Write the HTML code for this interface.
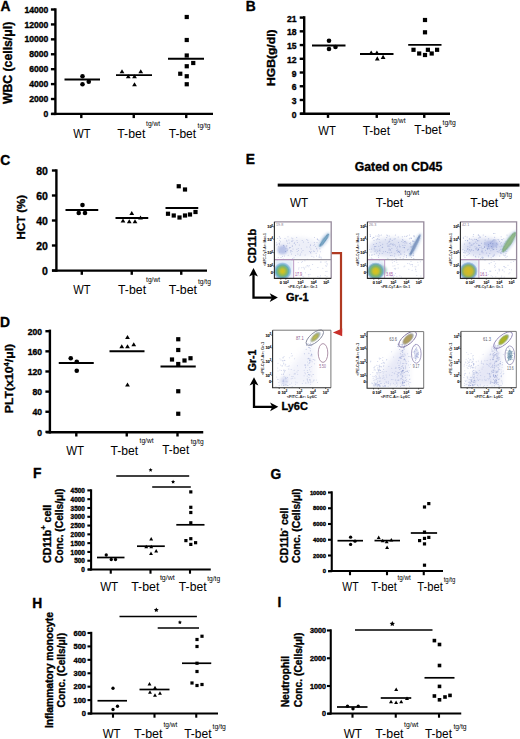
<!DOCTYPE html><html><head><meta charset="utf-8"><style>html,body{margin:0;padding:0;background:#fff;width:520px;height:739px;overflow:hidden}svg{display:block;font-family:"Liberation Sans", sans-serif}</style></head><body>
<svg width="520" height="739" viewBox="0 0 520 739">
<defs><radialGradient id="gblob0"><stop offset="0" stop-color="#d8c41c"/><stop offset="0.2" stop-color="#c8c22c"/><stop offset="0.45" stop-color="#8cb85c"/><stop offset="0.68" stop-color="#64aeb4"/><stop offset="0.88" stop-color="#94bce4" stop-opacity="0.8"/><stop offset="1" stop-color="#b8d0ee" stop-opacity="0"/></radialGradient><radialGradient id="gblob1"><stop offset="0" stop-color="#dcc21c"/><stop offset="0.3" stop-color="#c8c02c"/><stop offset="0.55" stop-color="#80b468"/><stop offset="0.78" stop-color="#6eaab0"/><stop offset="0.92" stop-color="#98bce0" stop-opacity="0.75"/><stop offset="1" stop-color="#b8d0ee" stop-opacity="0"/></radialGradient><radialGradient id="gblob2"><stop offset="0" stop-color="#d6bc22"/><stop offset="0.42" stop-color="#c6b832"/><stop offset="0.62" stop-color="#90b05c"/><stop offset="0.8" stop-color="#7aaac4"/><stop offset="0.93" stop-color="#a4bce6" stop-opacity="0.75"/><stop offset="1" stop-color="#c0ccee" stop-opacity="0"/></radialGradient><radialGradient id="gyel"><stop offset="0" stop-color="#c4c048"/><stop offset="0.55" stop-color="#a8ac60"/><stop offset="1" stop-color="#9ca8a0" stop-opacity="0.5"/></radialGradient><radialGradient id="gyel2"><stop offset="0" stop-color="#b0b820"/><stop offset="0.7" stop-color="#a0ac30"/><stop offset="1" stop-color="#90a870" stop-opacity="0.6"/></radialGradient><radialGradient id="gkhaki"><stop offset="0" stop-color="#b4a058"/><stop offset="0.7" stop-color="#a89c68"/><stop offset="1" stop-color="#a0a0b0" stop-opacity="0.6"/></radialGradient><filter id="bl05" x="-50%" y="-50%" width="200%" height="200%"><feGaussianBlur stdDeviation="0.5"/></filter><filter id="bl1" x="-50%" y="-50%" width="200%" height="200%"><feGaussianBlur stdDeviation="1"/></filter><filter id="bl2" x="-50%" y="-50%" width="200%" height="200%"><feGaussianBlur stdDeviation="2"/></filter><filter id="bl3" x="-50%" y="-50%" width="200%" height="200%"><feGaussianBlur stdDeviation="3"/></filter></defs>
<rect width="520" height="739" fill="#fff"/>
<line x1="55.40" y1="8.30" x2="55.40" y2="115.10" stroke="#000" stroke-width="2.4" stroke-linecap="butt"/>
<line x1="51.50" y1="113.90" x2="213.00" y2="113.90" stroke="#000" stroke-width="2.4" stroke-linecap="butt"/>
<line x1="50.90" y1="9.50" x2="55.40" y2="9.50" stroke="#000" stroke-width="2.4" stroke-linecap="butt"/>
<text x="48.30" y="12.60" font-size="8.6" font-weight="bold" stroke="#000" stroke-width="0.35" text-anchor="end" fill="#000" >14000</text>
<line x1="50.90" y1="24.42" x2="55.40" y2="24.42" stroke="#000" stroke-width="2.4" stroke-linecap="butt"/>
<text x="48.30" y="27.52" font-size="8.6" font-weight="bold" stroke="#000" stroke-width="0.35" text-anchor="end" fill="#000" >12000</text>
<line x1="50.90" y1="39.34" x2="55.40" y2="39.34" stroke="#000" stroke-width="2.4" stroke-linecap="butt"/>
<text x="48.30" y="42.44" font-size="8.6" font-weight="bold" stroke="#000" stroke-width="0.35" text-anchor="end" fill="#000" >10000</text>
<line x1="50.90" y1="54.26" x2="55.40" y2="54.26" stroke="#000" stroke-width="2.4" stroke-linecap="butt"/>
<text x="48.30" y="57.36" font-size="8.6" font-weight="bold" stroke="#000" stroke-width="0.35" text-anchor="end" fill="#000" >8000</text>
<line x1="50.90" y1="69.18" x2="55.40" y2="69.18" stroke="#000" stroke-width="2.4" stroke-linecap="butt"/>
<text x="48.30" y="72.28" font-size="8.6" font-weight="bold" stroke="#000" stroke-width="0.35" text-anchor="end" fill="#000" >6000</text>
<line x1="50.90" y1="84.10" x2="55.40" y2="84.10" stroke="#000" stroke-width="2.4" stroke-linecap="butt"/>
<text x="48.30" y="87.20" font-size="8.6" font-weight="bold" stroke="#000" stroke-width="0.35" text-anchor="end" fill="#000" >4000</text>
<line x1="50.90" y1="99.02" x2="55.40" y2="99.02" stroke="#000" stroke-width="2.4" stroke-linecap="butt"/>
<text x="48.30" y="102.12" font-size="8.6" font-weight="bold" stroke="#000" stroke-width="0.35" text-anchor="end" fill="#000" >2000</text>
<line x1="50.90" y1="113.94" x2="55.40" y2="113.94" stroke="#000" stroke-width="2.4" stroke-linecap="butt"/>
<text x="48.30" y="117.04" font-size="8.6" font-weight="bold" stroke="#000" stroke-width="0.35" text-anchor="end" fill="#000" >0</text>
<line x1="81.30" y1="113.90" x2="81.30" y2="118.10" stroke="#000" stroke-width="2.4" stroke-linecap="butt"/>
<line x1="133.75" y1="113.90" x2="133.75" y2="118.10" stroke="#000" stroke-width="2.4" stroke-linecap="butt"/>
<line x1="186.25" y1="113.90" x2="186.25" y2="118.10" stroke="#000" stroke-width="2.4" stroke-linecap="butt"/>
<line x1="64.50" y1="79.50" x2="100.00" y2="79.50" stroke="#000" stroke-width="1.9" stroke-linecap="butt"/>
<circle cx="82.50" cy="76.25" r="2.3"/>
<circle cx="82.50" cy="84.25" r="2.3"/>
<circle cx="88.75" cy="81.75" r="2.3"/>
<line x1="116.00" y1="75.10" x2="152.00" y2="75.10" stroke="#000" stroke-width="1.9" stroke-linecap="butt"/>
<path d="M119.60 73.34L124.40 73.34L122.00 69.16Z"/>
<path d="M125.85 78.34L130.65 78.34L128.25 74.16Z"/>
<path d="M132.10 78.34L136.90 78.34L134.50 74.16Z"/>
<path d="M138.35 73.34L143.15 73.34L140.75 69.16Z"/>
<path d="M132.10 86.34L136.90 86.34L134.50 82.16Z"/>
<line x1="168.00" y1="58.75" x2="204.00" y2="58.75" stroke="#000" stroke-width="1.9" stroke-linecap="butt"/>
<rect x="184.65" y="14.90" width="4.2" height="4.2"/>
<rect x="184.65" y="37.90" width="4.2" height="4.2"/>
<rect x="184.65" y="53.40" width="4.2" height="4.2"/>
<rect x="191.15" y="60.90" width="4.2" height="4.2"/>
<rect x="184.65" y="64.15" width="4.2" height="4.2"/>
<rect x="178.15" y="71.65" width="4.2" height="4.2"/>
<rect x="184.65" y="74.15" width="4.2" height="4.2"/>
<rect x="184.65" y="82.15" width="4.2" height="4.2"/>
<text transform="translate(12.00,62.95) rotate(-90)" font-size="11.9" font-weight="bold" stroke="#000" stroke-width="0.35" text-anchor="middle" fill="#000" textLength="82.30" lengthAdjust="spacingAndGlyphs">WBC (cells/μl)</text>
<text x="0.60" y="10.80" font-size="13.8" font-weight="bold" stroke="#000" stroke-width="0.35" text-anchor="start" fill="#000" >A</text>
<text x="73.15" y="137.90" font-size="12.6" text-anchor="start" fill="#000" textLength="17.30" lengthAdjust="spacingAndGlyphs" >WT</text>
<text x="117.25" y="137.90" font-size="12.6" text-anchor="start" fill="#000" textLength="28.10" lengthAdjust="spacingAndGlyphs" >T-bet</text>
<text x="146.10" y="126.00" font-size="7.6" text-anchor="start" fill="#000" textLength="14.00" lengthAdjust="spacingAndGlyphs" >tg/wt</text>
<text x="168.75" y="137.90" font-size="12.6" text-anchor="start" fill="#000" textLength="27.40" lengthAdjust="spacingAndGlyphs" >T-bet</text>
<text x="197.60" y="127.50" font-size="7.6" text-anchor="start" fill="#000" textLength="12.90" lengthAdjust="spacingAndGlyphs" >tg/tg</text>
<line x1="304.20" y1="16.20" x2="304.20" y2="114.90" stroke="#000" stroke-width="2.4" stroke-linecap="butt"/>
<line x1="300.30" y1="113.70" x2="450.00" y2="113.70" stroke="#000" stroke-width="2.4" stroke-linecap="butt"/>
<line x1="299.70" y1="17.60" x2="304.20" y2="17.60" stroke="#000" stroke-width="2.4" stroke-linecap="butt"/>
<text x="296.60" y="21.60" font-size="8.6" font-weight="bold" stroke="#000" stroke-width="0.35" text-anchor="end" fill="#000" >21</text>
<line x1="299.70" y1="31.33" x2="304.20" y2="31.33" stroke="#000" stroke-width="2.4" stroke-linecap="butt"/>
<text x="296.60" y="35.33" font-size="8.6" font-weight="bold" stroke="#000" stroke-width="0.35" text-anchor="end" fill="#000" >18</text>
<line x1="299.70" y1="45.06" x2="304.20" y2="45.06" stroke="#000" stroke-width="2.4" stroke-linecap="butt"/>
<text x="296.60" y="49.06" font-size="8.6" font-weight="bold" stroke="#000" stroke-width="0.35" text-anchor="end" fill="#000" >15</text>
<line x1="299.70" y1="58.79" x2="304.20" y2="58.79" stroke="#000" stroke-width="2.4" stroke-linecap="butt"/>
<text x="296.60" y="62.79" font-size="8.6" font-weight="bold" stroke="#000" stroke-width="0.35" text-anchor="end" fill="#000" >12</text>
<line x1="299.70" y1="72.52" x2="304.20" y2="72.52" stroke="#000" stroke-width="2.4" stroke-linecap="butt"/>
<text x="296.60" y="76.52" font-size="8.6" font-weight="bold" stroke="#000" stroke-width="0.35" text-anchor="end" fill="#000" >9</text>
<line x1="299.70" y1="86.25" x2="304.20" y2="86.25" stroke="#000" stroke-width="2.4" stroke-linecap="butt"/>
<text x="296.60" y="90.25" font-size="8.6" font-weight="bold" stroke="#000" stroke-width="0.35" text-anchor="end" fill="#000" >6</text>
<line x1="299.70" y1="99.98" x2="304.20" y2="99.98" stroke="#000" stroke-width="2.4" stroke-linecap="butt"/>
<text x="296.60" y="103.98" font-size="8.6" font-weight="bold" stroke="#000" stroke-width="0.35" text-anchor="end" fill="#000" >3</text>
<line x1="299.70" y1="113.71" x2="304.20" y2="113.71" stroke="#000" stroke-width="2.4" stroke-linecap="butt"/>
<text x="296.60" y="117.71" font-size="8.6" font-weight="bold" stroke="#000" stroke-width="0.35" text-anchor="end" fill="#000" >0</text>
<line x1="328.00" y1="113.70" x2="328.00" y2="117.90" stroke="#000" stroke-width="2.4" stroke-linecap="butt"/>
<line x1="376.75" y1="113.70" x2="376.75" y2="117.90" stroke="#000" stroke-width="2.4" stroke-linecap="butt"/>
<line x1="424.25" y1="113.70" x2="424.25" y2="117.90" stroke="#000" stroke-width="2.4" stroke-linecap="butt"/>
<line x1="312.00" y1="45.50" x2="345.50" y2="45.50" stroke="#000" stroke-width="1.9" stroke-linecap="butt"/>
<circle cx="329.00" cy="40.75" r="2.3"/>
<circle cx="329.00" cy="49.00" r="2.3"/>
<circle cx="335.50" cy="47.00" r="2.3"/>
<line x1="360.00" y1="54.00" x2="393.50" y2="54.00" stroke="#000" stroke-width="1.9" stroke-linecap="butt"/>
<path d="M368.80 54.59L373.60 54.59L371.20 50.41Z"/>
<path d="M374.50 54.59L379.30 54.59L376.90 50.41Z"/>
<path d="M374.90 60.39L379.70 60.39L377.30 56.21Z"/>
<path d="M380.70 58.99L385.50 58.99L383.10 54.81Z"/>
<line x1="408.20" y1="44.90" x2="441.50" y2="44.90" stroke="#000" stroke-width="1.9" stroke-linecap="butt"/>
<rect x="422.90" y="17.90" width="4.2" height="4.2"/>
<rect x="422.90" y="30.20" width="4.2" height="4.2"/>
<rect x="411.40" y="47.70" width="4.2" height="4.2"/>
<rect x="417.10" y="51.40" width="4.2" height="4.2"/>
<rect x="422.90" y="52.90" width="4.2" height="4.2"/>
<rect x="425.80" y="47.70" width="4.2" height="4.2"/>
<rect x="429.60" y="51.40" width="4.2" height="4.2"/>
<rect x="435.00" y="47.70" width="4.2" height="4.2"/>
<text transform="translate(275.40,57.75) rotate(-90)" font-size="11.5" font-weight="bold" stroke="#000" stroke-width="0.35" text-anchor="middle" fill="#000" textLength="56.60" lengthAdjust="spacingAndGlyphs">HGB(g/dl)</text>
<text x="245.80" y="10.80" font-size="13.8" font-weight="bold" stroke="#000" stroke-width="0.35" text-anchor="start" fill="#000" >B</text>
<text x="318.25" y="134.60" font-size="12.6" text-anchor="start" fill="#000" textLength="17.60" lengthAdjust="spacingAndGlyphs" >WT</text>
<text x="362.65" y="134.60" font-size="12.6" text-anchor="start" fill="#000" textLength="27.40" lengthAdjust="spacingAndGlyphs" >T-bet</text>
<text x="391.50" y="122.90" font-size="7.6" text-anchor="start" fill="#000" textLength="14.00" lengthAdjust="spacingAndGlyphs" >tg/wt</text>
<text x="414.25" y="134.30" font-size="12.6" text-anchor="start" fill="#000" textLength="27.30" lengthAdjust="spacingAndGlyphs" >T-bet</text>
<text x="442.50" y="124.50" font-size="7.6" text-anchor="start" fill="#000" textLength="13.30" lengthAdjust="spacingAndGlyphs" >tg/tg</text>
<line x1="56.40" y1="169.30" x2="56.40" y2="271.80" stroke="#000" stroke-width="2.4" stroke-linecap="butt"/>
<line x1="52.00" y1="270.60" x2="207.00" y2="270.60" stroke="#000" stroke-width="2.4" stroke-linecap="butt"/>
<line x1="51.90" y1="170.50" x2="56.40" y2="170.50" stroke="#000" stroke-width="2.4" stroke-linecap="butt"/>
<text x="47.90" y="175.18" font-size="10.5" font-weight="bold" stroke="#000" stroke-width="0.35" text-anchor="end" fill="#000" >80</text>
<line x1="51.90" y1="195.50" x2="56.40" y2="195.50" stroke="#000" stroke-width="2.4" stroke-linecap="butt"/>
<text x="47.90" y="200.18" font-size="10.5" font-weight="bold" stroke="#000" stroke-width="0.35" text-anchor="end" fill="#000" >60</text>
<line x1="51.90" y1="220.50" x2="56.40" y2="220.50" stroke="#000" stroke-width="2.4" stroke-linecap="butt"/>
<text x="47.90" y="225.18" font-size="10.5" font-weight="bold" stroke="#000" stroke-width="0.35" text-anchor="end" fill="#000" >40</text>
<line x1="51.90" y1="245.50" x2="56.40" y2="245.50" stroke="#000" stroke-width="2.4" stroke-linecap="butt"/>
<text x="47.90" y="250.18" font-size="10.5" font-weight="bold" stroke="#000" stroke-width="0.35" text-anchor="end" fill="#000" >20</text>
<line x1="51.90" y1="270.50" x2="56.40" y2="270.50" stroke="#000" stroke-width="2.4" stroke-linecap="butt"/>
<text x="47.90" y="275.18" font-size="10.5" font-weight="bold" stroke="#000" stroke-width="0.35" text-anchor="end" fill="#000" >0</text>
<line x1="81.80" y1="270.60" x2="81.80" y2="274.80" stroke="#000" stroke-width="2.4" stroke-linecap="butt"/>
<line x1="131.75" y1="270.60" x2="131.75" y2="274.80" stroke="#000" stroke-width="2.4" stroke-linecap="butt"/>
<line x1="181.25" y1="270.60" x2="181.25" y2="274.80" stroke="#000" stroke-width="2.4" stroke-linecap="butt"/>
<line x1="65.50" y1="210.00" x2="98.25" y2="210.00" stroke="#000" stroke-width="1.9" stroke-linecap="butt"/>
<circle cx="82.50" cy="205.00" r="2.3"/>
<circle cx="78.75" cy="213.00" r="2.3"/>
<circle cx="85.00" cy="213.00" r="2.3"/>
<line x1="115.50" y1="218.00" x2="148.25" y2="218.00" stroke="#000" stroke-width="1.9" stroke-linecap="butt"/>
<path d="M129.35 215.09L134.15 215.09L131.75 210.91Z"/>
<path d="M120.60 222.59L125.40 222.59L123.00 218.41Z"/>
<path d="M126.85 223.34L131.65 223.34L129.25 219.16Z"/>
<path d="M132.60 223.34L137.40 223.34L135.00 219.16Z"/>
<path d="M138.10 219.59L142.90 219.59L140.50 215.41Z"/>
<line x1="165.50" y1="208.00" x2="198.25" y2="208.00" stroke="#000" stroke-width="1.9" stroke-linecap="butt"/>
<rect x="176.65" y="184.15" width="4.2" height="4.2"/>
<rect x="182.90" y="187.40" width="4.2" height="4.2"/>
<rect x="165.90" y="211.65" width="4.2" height="4.2"/>
<rect x="171.65" y="213.40" width="4.2" height="4.2"/>
<rect x="177.40" y="215.40" width="4.2" height="4.2"/>
<rect x="182.90" y="213.40" width="4.2" height="4.2"/>
<rect x="187.90" y="212.40" width="4.2" height="4.2"/>
<rect x="193.40" y="209.90" width="4.2" height="4.2"/>
<text transform="translate(24.80,217.30) rotate(-90)" font-size="11.2" font-weight="bold" stroke="#000" stroke-width="0.35" text-anchor="middle" fill="#000" textLength="44.60" lengthAdjust="spacingAndGlyphs">HCT (%)</text>
<text x="0.20" y="164.50" font-size="13.8" font-weight="bold" stroke="#000" stroke-width="0.35" text-anchor="start" fill="#000" >C</text>
<text x="73.15" y="294.00" font-size="12.6" text-anchor="start" fill="#000" textLength="17.30" lengthAdjust="spacingAndGlyphs" >WT</text>
<text x="118.05" y="294.00" font-size="12.6" text-anchor="start" fill="#000" textLength="28.00" lengthAdjust="spacingAndGlyphs" >T-bet</text>
<text x="146.10" y="282.30" font-size="7.6" text-anchor="start" fill="#000" textLength="14.00" lengthAdjust="spacingAndGlyphs" >tg/wt</text>
<text x="168.75" y="293.60" font-size="12.6" text-anchor="start" fill="#000" textLength="28.30" lengthAdjust="spacingAndGlyphs" >T-bet</text>
<text x="197.90" y="284.30" font-size="7.6" text-anchor="start" fill="#000" textLength="13.00" lengthAdjust="spacingAndGlyphs" >tg/tg</text>
<line x1="49.90" y1="329.60" x2="49.90" y2="433.50" stroke="#000" stroke-width="2.4" stroke-linecap="butt"/>
<line x1="46.30" y1="432.30" x2="203.25" y2="432.30" stroke="#000" stroke-width="2.4" stroke-linecap="butt"/>
<line x1="45.40" y1="331.20" x2="49.90" y2="331.20" stroke="#000" stroke-width="2.4" stroke-linecap="butt"/>
<text x="42.00" y="334.90" font-size="8.6" font-weight="bold" stroke="#000" stroke-width="0.35" text-anchor="end" fill="#000" >200</text>
<line x1="45.40" y1="351.34" x2="49.90" y2="351.34" stroke="#000" stroke-width="2.4" stroke-linecap="butt"/>
<text x="42.00" y="355.04" font-size="8.6" font-weight="bold" stroke="#000" stroke-width="0.35" text-anchor="end" fill="#000" >160</text>
<line x1="45.40" y1="371.48" x2="49.90" y2="371.48" stroke="#000" stroke-width="2.4" stroke-linecap="butt"/>
<text x="42.00" y="375.18" font-size="8.6" font-weight="bold" stroke="#000" stroke-width="0.35" text-anchor="end" fill="#000" >120</text>
<line x1="45.40" y1="391.62" x2="49.90" y2="391.62" stroke="#000" stroke-width="2.4" stroke-linecap="butt"/>
<text x="42.00" y="395.32" font-size="8.6" font-weight="bold" stroke="#000" stroke-width="0.35" text-anchor="end" fill="#000" >80</text>
<line x1="45.40" y1="411.76" x2="49.90" y2="411.76" stroke="#000" stroke-width="2.4" stroke-linecap="butt"/>
<text x="42.00" y="415.46" font-size="8.6" font-weight="bold" stroke="#000" stroke-width="0.35" text-anchor="end" fill="#000" >40</text>
<line x1="45.40" y1="431.90" x2="49.90" y2="431.90" stroke="#000" stroke-width="2.4" stroke-linecap="butt"/>
<text x="42.00" y="435.60" font-size="8.6" font-weight="bold" stroke="#000" stroke-width="0.35" text-anchor="end" fill="#000" >0</text>
<line x1="76.30" y1="432.30" x2="76.30" y2="436.50" stroke="#000" stroke-width="2.4" stroke-linecap="butt"/>
<line x1="126.75" y1="432.30" x2="126.75" y2="436.50" stroke="#000" stroke-width="2.4" stroke-linecap="butt"/>
<line x1="177.50" y1="432.30" x2="177.50" y2="436.50" stroke="#000" stroke-width="2.4" stroke-linecap="butt"/>
<line x1="58.75" y1="363.00" x2="93.75" y2="363.00" stroke="#000" stroke-width="1.9" stroke-linecap="butt"/>
<circle cx="70.75" cy="358.25" r="2.3"/>
<circle cx="76.75" cy="361.75" r="2.3"/>
<circle cx="76.75" cy="370.75" r="2.3"/>
<line x1="109.50" y1="351.25" x2="144.50" y2="351.25" stroke="#000" stroke-width="1.9" stroke-linecap="butt"/>
<path d="M125.10 339.09L129.90 339.09L127.50 334.91Z"/>
<path d="M119.35 348.34L124.15 348.34L121.75 344.16Z"/>
<path d="M125.10 348.34L129.90 348.34L127.50 344.16Z"/>
<path d="M131.35 346.34L136.15 346.34L133.75 342.16Z"/>
<path d="M125.10 386.59L129.90 386.59L127.50 382.41Z"/>
<line x1="160.50" y1="366.50" x2="195.75" y2="366.50" stroke="#000" stroke-width="1.9" stroke-linecap="butt"/>
<rect x="176.15" y="337.15" width="4.2" height="4.2"/>
<rect x="176.15" y="347.90" width="4.2" height="4.2"/>
<rect x="169.90" y="357.40" width="4.2" height="4.2"/>
<rect x="176.15" y="361.90" width="4.2" height="4.2"/>
<rect x="182.40" y="358.40" width="4.2" height="4.2"/>
<rect x="188.40" y="356.15" width="4.2" height="4.2"/>
<rect x="176.15" y="389.15" width="4.2" height="4.2"/>
<rect x="176.15" y="411.65" width="4.2" height="4.2"/>
<text transform="translate(13.40,378.50) rotate(-90)" font-size="11.6" font-weight="bold" stroke="#000" stroke-width="0.35" text-anchor="middle" fill="#000" textLength="69.40" lengthAdjust="spacingAndGlyphs">PLT(x10<tspan font-size="7" dy="-4.6">4</tspan><tspan dy="4.6">/μl)</tspan></text>
<text x="0.00" y="327.00" font-size="13.8" font-weight="bold" stroke="#000" stroke-width="0.35" text-anchor="start" fill="#000" >D</text>
<text x="66.15" y="454.50" font-size="12.6" text-anchor="start" fill="#000" textLength="17.90" lengthAdjust="spacingAndGlyphs" >WT</text>
<text x="110.55" y="454.60" font-size="12.6" text-anchor="start" fill="#000" textLength="27.70" lengthAdjust="spacingAndGlyphs" >T-bet</text>
<text x="139.60" y="442.60" font-size="7.6" text-anchor="start" fill="#000" textLength="13.90" lengthAdjust="spacingAndGlyphs" >tg/wt</text>
<text x="162.25" y="454.10" font-size="12.6" text-anchor="start" fill="#000" textLength="27.00" lengthAdjust="spacingAndGlyphs" >T-bet</text>
<text x="190.70" y="444.20" font-size="7.6" text-anchor="start" fill="#000" textLength="12.90" lengthAdjust="spacingAndGlyphs" >tg/tg</text>
<line x1="91.10" y1="489.30" x2="91.10" y2="570.55" stroke="#000" stroke-width="2.1" stroke-linecap="butt"/>
<line x1="88.00" y1="569.50" x2="210.75" y2="569.50" stroke="#000" stroke-width="2.1" stroke-linecap="butt"/>
<line x1="87.35" y1="490.40" x2="91.10" y2="490.40" stroke="#000" stroke-width="2.1" stroke-linecap="butt"/>
<text x="84.80" y="493.00" font-size="6.4" font-weight="bold" stroke="#000" stroke-width="0.35" text-anchor="end" fill="#000" >4500</text>
<line x1="87.35" y1="499.19" x2="91.10" y2="499.19" stroke="#000" stroke-width="2.1" stroke-linecap="butt"/>
<text x="84.80" y="501.79" font-size="6.4" font-weight="bold" stroke="#000" stroke-width="0.35" text-anchor="end" fill="#000" >4000</text>
<line x1="87.35" y1="507.98" x2="91.10" y2="507.98" stroke="#000" stroke-width="2.1" stroke-linecap="butt"/>
<text x="84.80" y="510.58" font-size="6.4" font-weight="bold" stroke="#000" stroke-width="0.35" text-anchor="end" fill="#000" >3500</text>
<line x1="87.35" y1="516.77" x2="91.10" y2="516.77" stroke="#000" stroke-width="2.1" stroke-linecap="butt"/>
<text x="84.80" y="519.37" font-size="6.4" font-weight="bold" stroke="#000" stroke-width="0.35" text-anchor="end" fill="#000" >3000</text>
<line x1="87.35" y1="525.56" x2="91.10" y2="525.56" stroke="#000" stroke-width="2.1" stroke-linecap="butt"/>
<text x="84.80" y="528.16" font-size="6.4" font-weight="bold" stroke="#000" stroke-width="0.35" text-anchor="end" fill="#000" >2500</text>
<line x1="87.35" y1="534.35" x2="91.10" y2="534.35" stroke="#000" stroke-width="2.1" stroke-linecap="butt"/>
<text x="84.80" y="536.95" font-size="6.4" font-weight="bold" stroke="#000" stroke-width="0.35" text-anchor="end" fill="#000" >2000</text>
<line x1="87.35" y1="543.14" x2="91.10" y2="543.14" stroke="#000" stroke-width="2.1" stroke-linecap="butt"/>
<text x="84.80" y="545.74" font-size="6.4" font-weight="bold" stroke="#000" stroke-width="0.35" text-anchor="end" fill="#000" >1500</text>
<line x1="87.35" y1="551.93" x2="91.10" y2="551.93" stroke="#000" stroke-width="2.1" stroke-linecap="butt"/>
<text x="84.80" y="554.53" font-size="6.4" font-weight="bold" stroke="#000" stroke-width="0.35" text-anchor="end" fill="#000" >1000</text>
<line x1="87.35" y1="560.72" x2="91.10" y2="560.72" stroke="#000" stroke-width="2.1" stroke-linecap="butt"/>
<text x="84.80" y="563.32" font-size="6.4" font-weight="bold" stroke="#000" stroke-width="0.35" text-anchor="end" fill="#000" >500</text>
<line x1="87.35" y1="569.51" x2="91.10" y2="569.51" stroke="#000" stroke-width="2.1" stroke-linecap="butt"/>
<text x="84.80" y="572.11" font-size="6.4" font-weight="bold" stroke="#000" stroke-width="0.35" text-anchor="end" fill="#000" >0</text>
<line x1="110.75" y1="569.50" x2="110.75" y2="573.70" stroke="#000" stroke-width="2.1" stroke-linecap="butt"/>
<line x1="150.50" y1="569.50" x2="150.50" y2="573.70" stroke="#000" stroke-width="2.1" stroke-linecap="butt"/>
<line x1="190.00" y1="569.50" x2="190.00" y2="573.70" stroke="#000" stroke-width="2.1" stroke-linecap="butt"/>
<line x1="97.00" y1="557.50" x2="124.50" y2="557.50" stroke="#000" stroke-width="1.7" stroke-linecap="butt"/>
<circle cx="106.25" cy="555.00" r="1.65"/>
<circle cx="111.25" cy="559.50" r="1.65"/>
<circle cx="115.50" cy="559.50" r="1.65"/>
<line x1="137.00" y1="546.20" x2="164.80" y2="546.20" stroke="#000" stroke-width="1.7" stroke-linecap="butt"/>
<path d="M149.25 540.40L153.15 540.40L151.20 537.00Z"/>
<path d="M144.30 548.20L148.20 548.20L146.25 544.80Z"/>
<path d="M149.30 548.20L153.20 548.20L151.25 544.80Z"/>
<path d="M149.05 555.00L152.95 555.00L151.00 551.60Z"/>
<path d="M154.25 552.50L158.15 552.50L156.20 549.10Z"/>
<line x1="176.30" y1="524.80" x2="204.50" y2="524.80" stroke="#000" stroke-width="1.7" stroke-linecap="butt"/>
<rect x="189.20" y="490.30" width="3.2" height="3.2"/>
<rect x="189.20" y="505.70" width="3.2" height="3.2"/>
<rect x="189.20" y="510.90" width="3.2" height="3.2"/>
<rect x="189.20" y="521.20" width="3.2" height="3.2"/>
<rect x="184.30" y="539.00" width="3.2" height="3.2"/>
<rect x="189.20" y="537.10" width="3.2" height="3.2"/>
<rect x="194.00" y="541.10" width="3.2" height="3.2"/>
<rect x="189.20" y="542.80" width="3.2" height="3.2"/>
<text transform="translate(50.90,533.80) rotate(-90)" font-size="10" font-weight="bold" stroke="#000" stroke-width="0.35" text-anchor="middle" fill="#000" textLength="58.20" lengthAdjust="spacingAndGlyphs">CD11b<tspan font-size="7" dy="-4.6">+</tspan><tspan dy="4.6"> cell</tspan></text>
<text transform="translate(63.30,525.70) rotate(-90)" font-size="10" font-weight="bold" stroke="#000" stroke-width="0.35" text-anchor="middle" fill="#000" textLength="74.40" lengthAdjust="spacingAndGlyphs">Conc. (Cells/μl)</text>
<text x="33.00" y="477.80" font-size="13.8" font-weight="bold" stroke="#000" stroke-width="0.35" text-anchor="start" fill="#000" >F</text>
<text x="100.15" y="591.00" font-size="12.6" text-anchor="start" fill="#000" textLength="18.10" lengthAdjust="spacingAndGlyphs" >WT</text>
<text x="131.15" y="590.90" font-size="12.6" text-anchor="start" fill="#000" textLength="28.20" lengthAdjust="spacingAndGlyphs" >T-bet</text>
<text x="159.90" y="580.10" font-size="7.6" text-anchor="start" fill="#000" textLength="14.90" lengthAdjust="spacingAndGlyphs" >tg/wt</text>
<text x="178.85" y="591.40" font-size="12.6" text-anchor="start" fill="#000" textLength="27.70" lengthAdjust="spacingAndGlyphs" >T-bet</text>
<text x="207.20" y="581.40" font-size="7.6" text-anchor="start" fill="#000" textLength="13.00" lengthAdjust="spacingAndGlyphs" >tg/tg</text>
<line x1="116.25" y1="476.00" x2="189.20" y2="476.00" stroke="#000" stroke-width="1.3" stroke-linecap="butt"/>
<polygon points="150.60,467.90 151.22,469.15 152.60,469.35 151.60,470.32 151.83,471.70 150.60,471.05 149.37,471.70 149.60,470.32 148.60,469.35 149.98,469.15"/>
<line x1="152.20" y1="487.00" x2="190.80" y2="487.00" stroke="#000" stroke-width="1.3" stroke-linecap="butt"/>
<polygon points="173.10,479.80 173.72,481.05 175.10,481.25 174.10,482.22 174.33,483.60 173.10,482.95 171.87,483.60 172.10,482.22 171.10,481.25 172.48,481.05"/>
<line x1="331.75" y1="491.30" x2="331.75" y2="572.05" stroke="#000" stroke-width="2.1" stroke-linecap="butt"/>
<line x1="328.50" y1="571.00" x2="443.00" y2="571.00" stroke="#000" stroke-width="2.1" stroke-linecap="butt"/>
<line x1="328.00" y1="492.50" x2="331.75" y2="492.50" stroke="#000" stroke-width="2.1" stroke-linecap="butt"/>
<text x="326.00" y="494.59" font-size="5.8" font-weight="bold" stroke="#000" stroke-width="0.35" text-anchor="end" fill="#000" >10000</text>
<line x1="328.00" y1="508.25" x2="331.75" y2="508.25" stroke="#000" stroke-width="2.1" stroke-linecap="butt"/>
<text x="326.00" y="510.34" font-size="5.8" font-weight="bold" stroke="#000" stroke-width="0.35" text-anchor="end" fill="#000" >8000</text>
<line x1="328.00" y1="524.00" x2="331.75" y2="524.00" stroke="#000" stroke-width="2.1" stroke-linecap="butt"/>
<text x="326.00" y="526.09" font-size="5.8" font-weight="bold" stroke="#000" stroke-width="0.35" text-anchor="end" fill="#000" >6000</text>
<line x1="328.00" y1="539.75" x2="331.75" y2="539.75" stroke="#000" stroke-width="2.1" stroke-linecap="butt"/>
<text x="326.00" y="541.84" font-size="5.8" font-weight="bold" stroke="#000" stroke-width="0.35" text-anchor="end" fill="#000" >4000</text>
<line x1="328.00" y1="555.50" x2="331.75" y2="555.50" stroke="#000" stroke-width="2.1" stroke-linecap="butt"/>
<text x="326.00" y="557.59" font-size="5.8" font-weight="bold" stroke="#000" stroke-width="0.35" text-anchor="end" fill="#000" >2000</text>
<line x1="328.00" y1="571.25" x2="331.75" y2="571.25" stroke="#000" stroke-width="2.1" stroke-linecap="butt"/>
<text x="326.00" y="573.34" font-size="5.8" font-weight="bold" stroke="#000" stroke-width="0.35" text-anchor="end" fill="#000" >0</text>
<line x1="350.00" y1="571.00" x2="350.00" y2="575.20" stroke="#000" stroke-width="2.1" stroke-linecap="butt"/>
<line x1="387.00" y1="571.00" x2="387.00" y2="575.20" stroke="#000" stroke-width="2.1" stroke-linecap="butt"/>
<line x1="423.75" y1="571.00" x2="423.75" y2="575.20" stroke="#000" stroke-width="2.1" stroke-linecap="butt"/>
<line x1="337.50" y1="540.70" x2="363.00" y2="540.70" stroke="#000" stroke-width="1.7" stroke-linecap="butt"/>
<circle cx="350.60" cy="537.20" r="1.65"/>
<circle cx="355.00" cy="541.20" r="1.65"/>
<circle cx="350.60" cy="544.40" r="1.65"/>
<line x1="374.50" y1="540.60" x2="400.00" y2="540.60" stroke="#000" stroke-width="1.7" stroke-linecap="butt"/>
<path d="M376.75 538.90L380.65 538.90L378.70 535.50Z"/>
<path d="M380.75 542.20L384.65 542.20L382.70 538.80Z"/>
<path d="M384.75 543.20L388.65 543.20L386.70 539.80Z"/>
<path d="M389.35 541.40L393.25 541.40L391.30 538.00Z"/>
<path d="M385.15 549.00L389.05 549.00L387.10 545.60Z"/>
<line x1="410.80" y1="533.00" x2="437.10" y2="533.00" stroke="#000" stroke-width="1.7" stroke-linecap="butt"/>
<rect x="422.90" y="505.40" width="3.2" height="3.2"/>
<rect x="427.20" y="502.00" width="3.2" height="3.2"/>
<rect x="422.90" y="530.50" width="3.2" height="3.2"/>
<rect x="418.00" y="539.00" width="3.2" height="3.2"/>
<rect x="422.90" y="536.80" width="3.2" height="3.2"/>
<rect x="427.20" y="535.80" width="3.2" height="3.2"/>
<rect x="422.90" y="542.30" width="3.2" height="3.2"/>
<rect x="422.90" y="563.60" width="3.2" height="3.2"/>
<text transform="translate(288.00,535.25) rotate(-90)" font-size="10" font-weight="bold" stroke="#000" stroke-width="0.35" text-anchor="middle" fill="#000" textLength="55.30" lengthAdjust="spacingAndGlyphs">CD11b<tspan font-size="7" dy="-4.6">-</tspan><tspan dy="4.6"> cell</tspan></text>
<text transform="translate(300.40,525.70) rotate(-90)" font-size="10" font-weight="bold" stroke="#000" stroke-width="0.35" text-anchor="middle" fill="#000" textLength="74.40" lengthAdjust="spacingAndGlyphs">Conc. (Cells/μl)</text>
<text x="270.50" y="478.50" font-size="13.8" font-weight="bold" stroke="#000" stroke-width="0.35" text-anchor="start" fill="#000" >G</text>
<text x="342.25" y="591.20" font-size="12.6" text-anchor="start" fill="#000" textLength="16.30" lengthAdjust="spacingAndGlyphs" >WT</text>
<text x="371.35" y="591.20" font-size="12.6" text-anchor="start" fill="#000" textLength="25.50" lengthAdjust="spacingAndGlyphs" >T-bet</text>
<text x="397.50" y="580.10" font-size="7.6" text-anchor="start" fill="#000" textLength="13.30" lengthAdjust="spacingAndGlyphs" >tg/wt</text>
<text x="417.25" y="591.40" font-size="12.6" text-anchor="start" fill="#000" textLength="25.50" lengthAdjust="spacingAndGlyphs" >T-bet</text>
<text x="443.70" y="581.90" font-size="7.6" text-anchor="start" fill="#000" textLength="11.70" lengthAdjust="spacingAndGlyphs" >tg/tg</text>
<line x1="91.25" y1="631.80" x2="91.25" y2="714.55" stroke="#000" stroke-width="2.1" stroke-linecap="butt"/>
<line x1="88.00" y1="713.50" x2="218.00" y2="713.50" stroke="#000" stroke-width="2.1" stroke-linecap="butt"/>
<line x1="87.50" y1="633.00" x2="91.25" y2="633.00" stroke="#000" stroke-width="2.1" stroke-linecap="butt"/>
<text x="86.00" y="635.70" font-size="7.5" font-weight="bold" stroke="#000" stroke-width="0.35" text-anchor="end" fill="#000" >600</text>
<line x1="87.50" y1="646.42" x2="91.25" y2="646.42" stroke="#000" stroke-width="2.1" stroke-linecap="butt"/>
<text x="86.00" y="649.12" font-size="7.5" font-weight="bold" stroke="#000" stroke-width="0.35" text-anchor="end" fill="#000" >500</text>
<line x1="87.50" y1="659.84" x2="91.25" y2="659.84" stroke="#000" stroke-width="2.1" stroke-linecap="butt"/>
<text x="86.00" y="662.54" font-size="7.5" font-weight="bold" stroke="#000" stroke-width="0.35" text-anchor="end" fill="#000" >400</text>
<line x1="87.50" y1="673.26" x2="91.25" y2="673.26" stroke="#000" stroke-width="2.1" stroke-linecap="butt"/>
<text x="86.00" y="675.96" font-size="7.5" font-weight="bold" stroke="#000" stroke-width="0.35" text-anchor="end" fill="#000" >300</text>
<line x1="87.50" y1="686.68" x2="91.25" y2="686.68" stroke="#000" stroke-width="2.1" stroke-linecap="butt"/>
<text x="86.00" y="689.38" font-size="7.5" font-weight="bold" stroke="#000" stroke-width="0.35" text-anchor="end" fill="#000" >200</text>
<line x1="87.50" y1="700.10" x2="91.25" y2="700.10" stroke="#000" stroke-width="2.1" stroke-linecap="butt"/>
<text x="86.00" y="702.80" font-size="7.5" font-weight="bold" stroke="#000" stroke-width="0.35" text-anchor="end" fill="#000" >100</text>
<line x1="87.50" y1="713.52" x2="91.25" y2="713.52" stroke="#000" stroke-width="2.1" stroke-linecap="butt"/>
<text x="86.00" y="716.22" font-size="7.5" font-weight="bold" stroke="#000" stroke-width="0.35" text-anchor="end" fill="#000" >0</text>
<line x1="113.00" y1="713.50" x2="113.00" y2="717.70" stroke="#000" stroke-width="2.1" stroke-linecap="butt"/>
<line x1="154.50" y1="713.50" x2="154.50" y2="717.70" stroke="#000" stroke-width="2.1" stroke-linecap="butt"/>
<line x1="196.25" y1="713.50" x2="196.25" y2="717.70" stroke="#000" stroke-width="2.1" stroke-linecap="butt"/>
<line x1="97.50" y1="700.75" x2="127.00" y2="700.75" stroke="#000" stroke-width="1.7" stroke-linecap="butt"/>
<circle cx="113.00" cy="688.25" r="1.65"/>
<circle cx="117.50" cy="706.25" r="1.65"/>
<circle cx="113.00" cy="709.50" r="1.65"/>
<line x1="139.50" y1="689.50" x2="169.50" y2="689.50" stroke="#000" stroke-width="1.7" stroke-linecap="butt"/>
<path d="M147.55 685.45L151.45 685.45L149.50 682.05Z"/>
<path d="M153.05 689.20L156.95 689.20L155.00 685.80Z"/>
<path d="M148.05 693.70L151.95 693.70L150.00 690.30Z"/>
<path d="M153.05 696.70L156.95 696.70L155.00 693.30Z"/>
<path d="M158.05 694.70L161.95 694.70L160.00 691.30Z"/>
<line x1="182.00" y1="663.25" x2="211.25" y2="663.25" stroke="#000" stroke-width="1.7" stroke-linecap="butt"/>
<rect x="195.40" y="637.90" width="3.2" height="3.2"/>
<rect x="200.40" y="634.65" width="3.2" height="3.2"/>
<rect x="195.40" y="644.90" width="3.2" height="3.2"/>
<rect x="195.40" y="661.65" width="3.2" height="3.2"/>
<rect x="195.40" y="669.90" width="3.2" height="3.2"/>
<rect x="190.40" y="681.40" width="3.2" height="3.2"/>
<rect x="195.40" y="683.90" width="3.2" height="3.2"/>
<rect x="200.40" y="682.90" width="3.2" height="3.2"/>
<text transform="translate(52.60,670.10) rotate(-90)" font-size="10" font-weight="bold" stroke="#000" stroke-width="0.35" text-anchor="middle" fill="#000" textLength="116.00" lengthAdjust="spacingAndGlyphs">Inflammatory monocyte</text>
<text transform="translate(65.20,670.15) rotate(-90)" font-size="10" font-weight="bold" stroke="#000" stroke-width="0.35" text-anchor="middle" fill="#000" textLength="74.50" lengthAdjust="spacingAndGlyphs">Conc. (Cells/μl)</text>
<text x="32.20" y="607.50" font-size="13.8" font-weight="bold" stroke="#000" stroke-width="0.35" text-anchor="start" fill="#000" >H</text>
<text x="102.75" y="738.10" font-size="12.6" text-anchor="start" fill="#000" textLength="17.90" lengthAdjust="spacingAndGlyphs" >WT</text>
<text x="134.05" y="738.10" font-size="12.6" text-anchor="start" fill="#000" textLength="28.50" lengthAdjust="spacingAndGlyphs" >T-bet</text>
<text x="163.40" y="726.80" font-size="7.6" text-anchor="start" fill="#000" textLength="14.00" lengthAdjust="spacingAndGlyphs" >tg/wt</text>
<text x="184.15" y="738.10" font-size="12.6" text-anchor="start" fill="#000" textLength="27.50" lengthAdjust="spacingAndGlyphs" >T-bet</text>
<text x="212.60" y="728.80" font-size="7.6" text-anchor="start" fill="#000" textLength="13.30" lengthAdjust="spacingAndGlyphs" >tg/tg</text>
<line x1="119.50" y1="616.50" x2="196.90" y2="616.50" stroke="#000" stroke-width="1.3" stroke-linecap="butt"/>
<polygon points="156.30,607.50 157.03,608.99 158.68,609.23 157.49,610.39 157.77,612.02 156.30,611.25 154.83,612.02 155.11,610.39 153.92,609.23 155.57,608.99"/>
<line x1="157.70" y1="628.00" x2="199.00" y2="628.00" stroke="#000" stroke-width="1.3" stroke-linecap="butt"/>
<polygon points="179.90,620.30 180.52,621.55 181.90,621.75 180.90,622.72 181.13,624.10 179.90,623.45 178.67,624.10 178.90,622.72 177.90,621.75 179.28,621.55"/>
<line x1="330.75" y1="629.30" x2="330.75" y2="714.55" stroke="#000" stroke-width="2.1" stroke-linecap="butt"/>
<line x1="327.50" y1="713.50" x2="461.25" y2="713.50" stroke="#000" stroke-width="2.1" stroke-linecap="butt"/>
<line x1="327.00" y1="630.50" x2="330.75" y2="630.50" stroke="#000" stroke-width="2.1" stroke-linecap="butt"/>
<text x="326.00" y="633.09" font-size="7.2" font-weight="bold" stroke="#000" stroke-width="0.35" text-anchor="end" fill="#000" >3000</text>
<line x1="327.00" y1="658.25" x2="330.75" y2="658.25" stroke="#000" stroke-width="2.1" stroke-linecap="butt"/>
<text x="326.00" y="660.84" font-size="7.2" font-weight="bold" stroke="#000" stroke-width="0.35" text-anchor="end" fill="#000" >2000</text>
<line x1="327.00" y1="686.00" x2="330.75" y2="686.00" stroke="#000" stroke-width="2.1" stroke-linecap="butt"/>
<text x="326.00" y="688.59" font-size="7.2" font-weight="bold" stroke="#000" stroke-width="0.35" text-anchor="end" fill="#000" >1000</text>
<line x1="327.00" y1="713.75" x2="330.75" y2="713.75" stroke="#000" stroke-width="2.1" stroke-linecap="butt"/>
<text x="326.00" y="716.34" font-size="7.2" font-weight="bold" stroke="#000" stroke-width="0.35" text-anchor="end" fill="#000" >0</text>
<line x1="352.50" y1="713.50" x2="352.50" y2="717.70" stroke="#000" stroke-width="2.1" stroke-linecap="butt"/>
<line x1="395.75" y1="713.50" x2="395.75" y2="717.70" stroke="#000" stroke-width="2.1" stroke-linecap="butt"/>
<line x1="439.00" y1="713.50" x2="439.00" y2="717.70" stroke="#000" stroke-width="2.1" stroke-linecap="butt"/>
<line x1="337.00" y1="707.00" x2="367.50" y2="707.00" stroke="#000" stroke-width="1.7" stroke-linecap="butt"/>
<circle cx="347.50" cy="706.25" r="1.7"/>
<circle cx="353.00" cy="708.75" r="1.7"/>
<circle cx="358.25" cy="706.25" r="1.7"/>
<line x1="380.75" y1="698.00" x2="411.25" y2="698.00" stroke="#000" stroke-width="1.7" stroke-linecap="butt"/>
<path d="M394.20 690.94L398.20 690.94L396.20 687.46Z"/>
<path d="M389.00 703.14L393.00 703.14L391.00 699.66Z"/>
<path d="M394.10 704.04L398.10 704.04L396.10 700.56Z"/>
<path d="M399.20 703.14L403.20 703.14L401.20 699.66Z"/>
<path d="M405.00 700.04L409.00 700.04L407.00 696.56Z"/>
<line x1="424.50" y1="677.80" x2="454.50" y2="677.80" stroke="#000" stroke-width="1.7" stroke-linecap="butt"/>
<rect x="432.60" y="638.80" width="3.6" height="3.6"/>
<rect x="437.70" y="642.70" width="3.6" height="3.6"/>
<rect x="437.70" y="663.70" width="3.6" height="3.6"/>
<rect x="437.70" y="684.60" width="3.6" height="3.6"/>
<rect x="432.60" y="694.20" width="3.6" height="3.6"/>
<rect x="437.70" y="698.00" width="3.6" height="3.6"/>
<rect x="443.20" y="695.20" width="3.6" height="3.6"/>
<rect x="448.20" y="693.60" width="3.6" height="3.6"/>
<text transform="translate(289.40,681.65) rotate(-90)" font-size="10" font-weight="bold" stroke="#000" stroke-width="0.35" text-anchor="middle" fill="#000" textLength="51.30" lengthAdjust="spacingAndGlyphs">Neutrophil</text>
<text transform="translate(301.80,670.00) rotate(-90)" font-size="10" font-weight="bold" stroke="#000" stroke-width="0.35" text-anchor="middle" fill="#000" textLength="74.60" lengthAdjust="spacingAndGlyphs">Conc. (Cells/μl)</text>
<text x="277.40" y="607.30" font-size="13.8" font-weight="bold" stroke="#000" stroke-width="0.35" text-anchor="start" fill="#000" >I</text>
<text x="343.75" y="738.10" font-size="12.6" text-anchor="start" fill="#000" textLength="18.30" lengthAdjust="spacingAndGlyphs" >WT</text>
<text x="375.25" y="738.10" font-size="12.6" text-anchor="start" fill="#000" textLength="28.20" lengthAdjust="spacingAndGlyphs" >T-bet</text>
<text x="404.10" y="726.80" font-size="7.6" text-anchor="start" fill="#000" textLength="14.40" lengthAdjust="spacingAndGlyphs" >tg/wt</text>
<text x="424.95" y="738.10" font-size="12.6" text-anchor="start" fill="#000" textLength="27.00" lengthAdjust="spacingAndGlyphs" >T-bet</text>
<text x="453.40" y="728.60" font-size="7.6" text-anchor="start" fill="#000" textLength="13.20" lengthAdjust="spacingAndGlyphs" >tg/tg</text>
<line x1="355.00" y1="630.00" x2="432.50" y2="630.00" stroke="#000" stroke-width="1.3" stroke-linecap="butt"/>
<polygon points="392.30,621.00 393.12,622.67 394.96,622.93 393.63,624.23 393.95,626.07 392.30,625.20 390.65,626.07 390.97,624.23 389.64,622.93 391.48,622.67"/>
<text x="245.80" y="164.40" font-size="13.8" font-weight="bold" stroke="#000" stroke-width="0.35" text-anchor="start" fill="#000" >E</text>
<text x="354.80" y="171.30" font-size="12" font-weight="bold" stroke="#000" stroke-width="0.35" text-anchor="start" fill="#000" textLength="87.60" lengthAdjust="spacingAndGlyphs" >Gated on CD45</text>
<rect x="277.7" y="183.6" width="241.8" height="3" fill="#000"/>
<text x="289.95" y="206.80" font-size="12.6" text-anchor="start" fill="#000" textLength="18.10" lengthAdjust="spacingAndGlyphs" >WT</text>
<text x="375.75" y="206.80" font-size="12.6" text-anchor="start" fill="#000" textLength="27.40" lengthAdjust="spacingAndGlyphs" >T-bet</text>
<text x="404.50" y="195.30" font-size="7.6" text-anchor="start" fill="#000" textLength="14.70" lengthAdjust="spacingAndGlyphs" >tg/wt</text>
<text x="470.35" y="206.80" font-size="12.6" text-anchor="start" fill="#000" textLength="27.80" lengthAdjust="spacingAndGlyphs" >T-bet</text>
<text x="499.50" y="197.20" font-size="7.6" text-anchor="start" fill="#000" textLength="12.50" lengthAdjust="spacingAndGlyphs" >tg/tg</text>
<clipPath id="c1"><rect x="274.4" y="221.8" width="56.8" height="56.6"/></clipPath>
<g clip-path="url(#c1)">
<ellipse cx="298.3" cy="247.3" rx="22.7" ry="9.6" fill="#c4cbe8" opacity="0.3" filter="url(#bl2)"/>
<ellipse cx="282.4" cy="250.1" rx="5" ry="4.5" fill="#a3b0e0" opacity="0.7" filter="url(#bl1)"/>
<circle cx="291.1" cy="250.6" r="0.5" fill="#7a8ac8" opacity="0.45"/>
<circle cx="293.0" cy="249.1" r="0.5" fill="#7a8ac8" opacity="0.45"/>
<circle cx="279.6" cy="243.1" r="0.5" fill="#7a8ac8" opacity="0.45"/>
<circle cx="319.5" cy="254.9" r="0.5" fill="#7a8ac8" opacity="0.45"/>
<circle cx="290.4" cy="250.7" r="0.5" fill="#7a8ac8" opacity="0.45"/>
<circle cx="279.3" cy="236.4" r="0.5" fill="#7a8ac8" opacity="0.45"/>
<circle cx="290.7" cy="252.0" r="0.5" fill="#7a8ac8" opacity="0.45"/>
<circle cx="308.2" cy="242.4" r="0.5" fill="#7a8ac8" opacity="0.45"/>
<circle cx="309.5" cy="251.6" r="0.5" fill="#7a8ac8" opacity="0.45"/>
<circle cx="310.8" cy="253.0" r="0.5" fill="#7a8ac8" opacity="0.45"/>
<circle cx="311.1" cy="251.5" r="0.5" fill="#7a8ac8" opacity="0.45"/>
<circle cx="303.4" cy="242.1" r="0.5" fill="#7a8ac8" opacity="0.45"/>
<circle cx="297.9" cy="253.9" r="0.5" fill="#7a8ac8" opacity="0.45"/>
<circle cx="306.8" cy="239.4" r="0.5" fill="#7a8ac8" opacity="0.45"/>
<circle cx="279.1" cy="243.6" r="0.5" fill="#7a8ac8" opacity="0.45"/>
<circle cx="316.5" cy="255.9" r="0.5" fill="#7a8ac8" opacity="0.45"/>
<circle cx="292.7" cy="258.5" r="0.5" fill="#7a8ac8" opacity="0.45"/>
<circle cx="286.9" cy="241.3" r="0.5" fill="#7a8ac8" opacity="0.45"/>
<circle cx="276.6" cy="244.9" r="0.5" fill="#7a8ac8" opacity="0.45"/>
<circle cx="307.8" cy="240.3" r="0.5" fill="#7a8ac8" opacity="0.45"/>
<circle cx="294.2" cy="243.4" r="0.5" fill="#7a8ac8" opacity="0.45"/>
<circle cx="279.5" cy="244.6" r="0.5" fill="#7a8ac8" opacity="0.45"/>
<circle cx="276.4" cy="242.7" r="0.5" fill="#7a8ac8" opacity="0.45"/>
<circle cx="316.1" cy="253.2" r="0.5" fill="#7a8ac8" opacity="0.45"/>
<circle cx="292.9" cy="240.2" r="0.5" fill="#7a8ac8" opacity="0.45"/>
<circle cx="281.0" cy="257.4" r="0.5" fill="#7a8ac8" opacity="0.45"/>
<circle cx="300.4" cy="254.1" r="0.5" fill="#7a8ac8" opacity="0.45"/>
<circle cx="320.9" cy="256.9" r="0.5" fill="#7a8ac8" opacity="0.45"/>
<circle cx="284.0" cy="247.1" r="0.5" fill="#7a8ac8" opacity="0.45"/>
<circle cx="286.5" cy="246.1" r="0.5" fill="#7a8ac8" opacity="0.45"/>
<circle cx="313.6" cy="251.1" r="0.5" fill="#7a8ac8" opacity="0.45"/>
<circle cx="277.7" cy="238.5" r="0.5" fill="#7a8ac8" opacity="0.45"/>
<circle cx="319.9" cy="248.7" r="0.5" fill="#7a8ac8" opacity="0.45"/>
<circle cx="286.7" cy="240.2" r="0.5" fill="#7a8ac8" opacity="0.45"/>
<circle cx="314.6" cy="244.3" r="0.5" fill="#7a8ac8" opacity="0.45"/>
<circle cx="311.9" cy="256.3" r="0.5" fill="#7a8ac8" opacity="0.45"/>
<circle cx="291.5" cy="254.1" r="0.5" fill="#7a8ac8" opacity="0.45"/>
<circle cx="319.4" cy="256.9" r="0.5" fill="#7a8ac8" opacity="0.45"/>
<circle cx="317.5" cy="250.9" r="0.5" fill="#7a8ac8" opacity="0.45"/>
<circle cx="301.3" cy="248.8" r="0.5" fill="#7a8ac8" opacity="0.45"/>
<circle cx="313.9" cy="245.5" r="0.5" fill="#7a8ac8" opacity="0.45"/>
<circle cx="303.0" cy="250.6" r="0.5" fill="#7a8ac8" opacity="0.45"/>
<circle cx="292.5" cy="246.1" r="0.5" fill="#7a8ac8" opacity="0.45"/>
<circle cx="277.2" cy="260.1" r="0.5" fill="#7a8ac8" opacity="0.45"/>
<circle cx="284.2" cy="245.9" r="0.5" fill="#7a8ac8" opacity="0.45"/>
<circle cx="300.0" cy="255.6" r="0.5" fill="#7a8ac8" opacity="0.45"/>
<circle cx="287.7" cy="243.3" r="0.5" fill="#7a8ac8" opacity="0.45"/>
<circle cx="310.9" cy="248.9" r="0.5" fill="#7a8ac8" opacity="0.45"/>
<circle cx="297.0" cy="240.4" r="0.5" fill="#7a8ac8" opacity="0.45"/>
<circle cx="288.2" cy="255.3" r="0.5" fill="#7a8ac8" opacity="0.45"/>
<circle cx="279.7" cy="240.3" r="0.5" fill="#7a8ac8" opacity="0.45"/>
<circle cx="317.2" cy="238.9" r="0.5" fill="#7a8ac8" opacity="0.45"/>
<circle cx="316.5" cy="248.2" r="0.5" fill="#7a8ac8" opacity="0.45"/>
<circle cx="291.8" cy="241.1" r="0.5" fill="#7a8ac8" opacity="0.45"/>
<circle cx="277.2" cy="244.3" r="0.5" fill="#7a8ac8" opacity="0.45"/>
<circle cx="321.2" cy="258.0" r="0.5" fill="#7a8ac8" opacity="0.45"/>
<circle cx="278.2" cy="257.5" r="0.5" fill="#7a8ac8" opacity="0.45"/>
<circle cx="317.8" cy="239.8" r="0.5" fill="#7a8ac8" opacity="0.45"/>
<circle cx="280.5" cy="238.5" r="0.5" fill="#7a8ac8" opacity="0.45"/>
<circle cx="319.0" cy="257.0" r="0.5" fill="#7a8ac8" opacity="0.45"/>
<circle cx="279.4" cy="252.1" r="0.5" fill="#7a8ac8" opacity="0.45"/>
<circle cx="287.2" cy="250.6" r="0.5" fill="#7a8ac8" opacity="0.45"/>
<circle cx="290.6" cy="247.6" r="0.5" fill="#7a8ac8" opacity="0.45"/>
<circle cx="284.5" cy="255.9" r="0.5" fill="#7a8ac8" opacity="0.45"/>
<circle cx="318.9" cy="240.3" r="0.5" fill="#7a8ac8" opacity="0.45"/>
<circle cx="314.3" cy="242.5" r="0.5" fill="#7a8ac8" opacity="0.45"/>
<circle cx="292.0" cy="251.4" r="0.5" fill="#7a8ac8" opacity="0.45"/>
<circle cx="292.2" cy="246.1" r="0.5" fill="#7a8ac8" opacity="0.45"/>
<circle cx="288.0" cy="236.8" r="0.5" fill="#7a8ac8" opacity="0.45"/>
<circle cx="306.9" cy="247.0" r="0.5" fill="#7a8ac8" opacity="0.45"/>
<circle cx="283.6" cy="245.6" r="0.5" fill="#7a8ac8" opacity="0.45"/>
<circle cx="320.3" cy="244.4" r="0.5" fill="#7a8ac8" opacity="0.45"/>
<circle cx="285.5" cy="251.4" r="0.5" fill="#7a8ac8" opacity="0.45"/>
<circle cx="294.6" cy="242.7" r="0.5" fill="#7a8ac8" opacity="0.45"/>
<circle cx="310.5" cy="252.6" r="0.5" fill="#7a8ac8" opacity="0.45"/>
<circle cx="283.2" cy="258.9" r="0.5" fill="#7a8ac8" opacity="0.45"/>
<circle cx="316.9" cy="249.0" r="0.5" fill="#7a8ac8" opacity="0.45"/>
<circle cx="314.3" cy="251.5" r="0.5" fill="#7a8ac8" opacity="0.45"/>
<circle cx="307.4" cy="259.2" r="0.5" fill="#7a8ac8" opacity="0.45"/>
<circle cx="292.8" cy="238.8" r="0.5" fill="#7a8ac8" opacity="0.45"/>
<circle cx="304.9" cy="260.8" r="0.5" fill="#7a8ac8" opacity="0.45"/>
<circle cx="310.4" cy="244.7" r="0.5" fill="#7a8ac8" opacity="0.45"/>
<circle cx="309.9" cy="247.0" r="0.5" fill="#7a8ac8" opacity="0.45"/>
<circle cx="285.7" cy="251.5" r="0.5" fill="#7a8ac8" opacity="0.45"/>
<circle cx="298.2" cy="248.5" r="0.5" fill="#7a8ac8" opacity="0.45"/>
<circle cx="279.9" cy="237.8" r="0.5" fill="#7a8ac8" opacity="0.45"/>
<circle cx="302.2" cy="240.5" r="0.5" fill="#7a8ac8" opacity="0.45"/>
<circle cx="289.6" cy="248.1" r="0.5" fill="#7a8ac8" opacity="0.45"/>
<circle cx="317.0" cy="242.5" r="0.5" fill="#7a8ac8" opacity="0.45"/>
<circle cx="320.4" cy="251.7" r="0.5" fill="#7a8ac8" opacity="0.45"/>
<circle cx="286.0" cy="248.2" r="0.5" fill="#7a8ac8" opacity="0.45"/>
<circle cx="282.4" cy="256.5" r="0.5" fill="#7a8ac8" opacity="0.45"/>
<circle cx="298.5" cy="250.5" r="0.5" fill="#7a8ac8" opacity="0.45"/>
<circle cx="292.0" cy="260.3" r="0.5" fill="#7a8ac8" opacity="0.45"/>
<circle cx="314.5" cy="237.6" r="0.5" fill="#7a8ac8" opacity="0.45"/>
<circle cx="289.6" cy="247.5" r="0.5" fill="#7a8ac8" opacity="0.45"/>
<circle cx="288.9" cy="240.0" r="0.5" fill="#7a8ac8" opacity="0.45"/>
<circle cx="285.0" cy="238.4" r="0.5" fill="#7a8ac8" opacity="0.45"/>
<circle cx="305.1" cy="255.1" r="0.5" fill="#7a8ac8" opacity="0.45"/>
<circle cx="278.6" cy="246.8" r="0.5" fill="#7a8ac8" opacity="0.45"/>
<circle cx="289.4" cy="243.1" r="0.5" fill="#7a8ac8" opacity="0.45"/>
<circle cx="292.0" cy="241.5" r="0.5" fill="#7a8ac8" opacity="0.45"/>
<circle cx="301.7" cy="252.0" r="0.5" fill="#7a8ac8" opacity="0.45"/>
<circle cx="317.6" cy="239.1" r="0.5" fill="#7a8ac8" opacity="0.45"/>
<circle cx="296.8" cy="249.2" r="0.5" fill="#7a8ac8" opacity="0.45"/>
<circle cx="280.5" cy="241.7" r="0.5" fill="#7a8ac8" opacity="0.45"/>
<circle cx="310.5" cy="245.4" r="0.5" fill="#7a8ac8" opacity="0.45"/>
<circle cx="291.8" cy="238.0" r="0.5" fill="#7a8ac8" opacity="0.45"/>
<circle cx="315.6" cy="246.5" r="0.5" fill="#7a8ac8" opacity="0.45"/>
<circle cx="296.7" cy="237.5" r="0.5" fill="#7a8ac8" opacity="0.45"/>
<circle cx="313.9" cy="256.9" r="0.5" fill="#7a8ac8" opacity="0.45"/>
<circle cx="283.4" cy="245.2" r="0.5" fill="#7a8ac8" opacity="0.45"/>
<circle cx="297.2" cy="251.4" r="0.5" fill="#7a8ac8" opacity="0.45"/>
<circle cx="287.8" cy="249.1" r="0.5" fill="#7a8ac8" opacity="0.45"/>
<circle cx="294.0" cy="257.8" r="0.5" fill="#7a8ac8" opacity="0.45"/>
<circle cx="297.3" cy="242.6" r="0.5" fill="#7a8ac8" opacity="0.45"/>
<circle cx="295.5" cy="255.4" r="0.5" fill="#7a8ac8" opacity="0.45"/>
<circle cx="295.5" cy="244.8" r="0.5" fill="#7a8ac8" opacity="0.45"/>
<circle cx="299.3" cy="245.0" r="0.5" fill="#7a8ac8" opacity="0.45"/>
<circle cx="286.9" cy="245.7" r="0.5" fill="#7a8ac8" opacity="0.45"/>
<circle cx="312.6" cy="264.4" r="0.5" fill="#9aa6d6" opacity="0.5"/>
<circle cx="304.1" cy="268.0" r="0.5" fill="#9aa6d6" opacity="0.5"/>
<circle cx="317.9" cy="276.5" r="0.5" fill="#9aa6d6" opacity="0.5"/>
<circle cx="301.7" cy="267.7" r="0.5" fill="#9aa6d6" opacity="0.5"/>
<circle cx="303.8" cy="276.9" r="0.5" fill="#9aa6d6" opacity="0.5"/>
<circle cx="301.6" cy="262.2" r="0.5" fill="#9aa6d6" opacity="0.5"/>
<circle cx="299.0" cy="267.7" r="0.5" fill="#9aa6d6" opacity="0.5"/>
<circle cx="325.2" cy="275.4" r="0.5" fill="#9aa6d6" opacity="0.5"/>
<circle cx="320.0" cy="277.2" r="0.5" fill="#9aa6d6" opacity="0.5"/>
<circle cx="326.2" cy="266.6" r="0.5" fill="#9aa6d6" opacity="0.5"/>
<circle cx="302.9" cy="276.3" r="0.5" fill="#9aa6d6" opacity="0.5"/>
<circle cx="320.4" cy="261.9" r="0.5" fill="#9aa6d6" opacity="0.5"/>
<circle cx="317.9" cy="267.4" r="0.5" fill="#9aa6d6" opacity="0.5"/>
<circle cx="308.8" cy="266.7" r="0.5" fill="#9aa6d6" opacity="0.5"/>
<circle cx="302.4" cy="261.5" r="0.5" fill="#9aa6d6" opacity="0.5"/>
<circle cx="305.9" cy="267.0" r="0.5" fill="#9aa6d6" opacity="0.5"/>
<circle cx="327.0" cy="263.4" r="0.5" fill="#9aa6d6" opacity="0.5"/>
<circle cx="327.2" cy="264.7" r="0.5" fill="#9aa6d6" opacity="0.5"/>
<circle cx="308.3" cy="274.4" r="0.5" fill="#9aa6d6" opacity="0.5"/>
<circle cx="322.8" cy="268.3" r="0.5" fill="#9aa6d6" opacity="0.5"/>
<circle cx="298.7" cy="268.9" r="0.5" fill="#9aa6d6" opacity="0.5"/>
<circle cx="308.8" cy="276.0" r="0.5" fill="#9aa6d6" opacity="0.5"/>
<circle cx="303.2" cy="267.2" r="0.5" fill="#9aa6d6" opacity="0.5"/>
<circle cx="325.1" cy="261.9" r="0.5" fill="#9aa6d6" opacity="0.5"/>
<circle cx="310.0" cy="274.3" r="0.5" fill="#9aa6d6" opacity="0.5"/>
<circle cx="321.1" cy="262.1" r="0.5" fill="#9aa6d6" opacity="0.5"/>
<circle cx="298.2" cy="262.4" r="0.5" fill="#9aa6d6" opacity="0.5"/>
<circle cx="325.9" cy="265.5" r="0.5" fill="#9aa6d6" opacity="0.5"/>
<circle cx="320.5" cy="275.7" r="0.5" fill="#9aa6d6" opacity="0.5"/>
<circle cx="307.7" cy="265.7" r="0.5" fill="#9aa6d6" opacity="0.5"/>
<circle cx="327.0" cy="271.2" r="0.5" fill="#9aa6d6" opacity="0.5"/>
<circle cx="305.3" cy="272.8" r="0.5" fill="#9aa6d6" opacity="0.5"/>
<circle cx="307.0" cy="265.8" r="0.5" fill="#9aa6d6" opacity="0.5"/>
<circle cx="297.2" cy="273.4" r="0.5" fill="#9aa6d6" opacity="0.5"/>
<circle cx="325.8" cy="271.5" r="0.5" fill="#9aa6d6" opacity="0.5"/>
<circle cx="326.6" cy="261.8" r="0.5" fill="#9aa6d6" opacity="0.5"/>
<circle cx="304.4" cy="269.0" r="0.5" fill="#9aa6d6" opacity="0.5"/>
<circle cx="327.0" cy="276.5" r="0.5" fill="#9aa6d6" opacity="0.5"/>
<circle cx="309.2" cy="265.4" r="0.5" fill="#9aa6d6" opacity="0.5"/>
<circle cx="310.6" cy="269.2" r="0.5" fill="#9aa6d6" opacity="0.5"/>
<ellipse cx="324.1" cy="240.2" rx="9.1" ry="3.3" transform="rotate(-54.3 324.1 240.2)" fill="#a8c0e0" opacity="0.6" filter="url(#bl1)"/>
<ellipse cx="324.1" cy="240.2" rx="8.1" ry="1.7" transform="rotate(-54.3 324.1 240.2)" fill="#5a8db0" opacity="0.85" filter="url(#bl05)"/>
<ellipse cx="324.1" cy="240.2" rx="5.6" ry="0.8" transform="rotate(-54.3 324.1 240.2)" fill="#86b4d0" opacity="0.7" filter="url(#bl05)"/>
<rect x="274.9" y="260.5" width="17.8" height="17.2" fill="#c8dcf0" opacity="0.55" filter="url(#bl1)"/>
<circle cx="282.5" cy="271.2" r="9.2" fill="url(#gblob0)" filter="url(#bl05)"/>
</g>
<line x1="274.4" y1="259.7" x2="331.2" y2="259.7" stroke="#86828f" stroke-width="1.0"/>
<rect x="274.4" y="259.7" width="19.3" height="18.7" fill="none" stroke="#b48cbc" stroke-width="0.85"/>
<path d="M274.4 221.8 H331.2 V278.4" fill="none" stroke="#968a9c" stroke-width="1.3"/>
<path d="M274.4 221.8 V278.4 H331.2" fill="none" stroke="#2a2a2a" stroke-width="1.1"/>
<text x="276.0" y="226.3" font-size="4.0" fill="#857a90" textLength="7.2" lengthAdjust="spacingAndGlyphs">19.8</text>
<text x="294.9" y="275.8" font-size="4.6" fill="#a0509a" textLength="7.2" lengthAdjust="spacingAndGlyphs">17.9</text>
<text x="273.0" y="228.1" font-size="3.9" font-weight="bold" text-anchor="end" fill="#111" stroke="#111" stroke-width="0.12">10<tspan font-size="2.6" dy="-1.5">5</tspan></text>
<line x1="273.2" y1="226.8" x2="274.4" y2="226.8" stroke="#222" stroke-width="0.7"/>
<text x="273.0" y="240.5" font-size="3.9" font-weight="bold" text-anchor="end" fill="#111" stroke="#111" stroke-width="0.12">10<tspan font-size="2.6" dy="-1.5">4</tspan></text>
<line x1="273.2" y1="239.2" x2="274.4" y2="239.2" stroke="#222" stroke-width="0.7"/>
<text x="273.0" y="254.0" font-size="3.9" font-weight="bold" text-anchor="end" fill="#111" stroke="#111" stroke-width="0.12">10<tspan font-size="2.6" dy="-1.5">3</tspan></text>
<line x1="273.2" y1="252.7" x2="274.4" y2="252.7" stroke="#222" stroke-width="0.7"/>
<text x="273.0" y="267.4" font-size="3.9" font-weight="bold" text-anchor="end" fill="#111" stroke="#111" stroke-width="0.12">10<tspan font-size="2.6" dy="-1.5">2</tspan></text>
<line x1="273.2" y1="266.1" x2="274.4" y2="266.1" stroke="#222" stroke-width="0.7"/>
<text x="273.0" y="273.5" font-size="3.9" font-weight="bold" text-anchor="end" fill="#111" stroke="#111" stroke-width="0.12">0</text>
<line x1="273.2" y1="272.2" x2="274.4" y2="272.2" stroke="#222" stroke-width="0.7"/>
<text x="280.8" y="284.3" font-size="3.9" font-weight="bold" text-anchor="middle" fill="#111" stroke="#111" stroke-width="0.12">0</text>
<line x1="280.8" y1="278.4" x2="280.8" y2="279.6" stroke="#222" stroke-width="0.7"/>
<text x="285.8" y="284.3" font-size="3.9" font-weight="bold" text-anchor="middle" fill="#111" stroke="#111" stroke-width="0.12">10<tspan font-size="2.6" dy="-1.5">2</tspan></text>
<line x1="285.8" y1="278.4" x2="285.8" y2="279.6" stroke="#222" stroke-width="0.7"/>
<text x="300.5" y="284.3" font-size="3.9" font-weight="bold" text-anchor="middle" fill="#111" stroke="#111" stroke-width="0.12">10<tspan font-size="2.6" dy="-1.5">3</tspan></text>
<line x1="300.5" y1="278.4" x2="300.5" y2="279.6" stroke="#222" stroke-width="0.7"/>
<text x="313.6" y="284.3" font-size="3.9" font-weight="bold" text-anchor="middle" fill="#111" stroke="#111" stroke-width="0.12">10<tspan font-size="2.6" dy="-1.5">4</tspan></text>
<line x1="313.6" y1="278.4" x2="313.6" y2="279.6" stroke="#222" stroke-width="0.7"/>
<text x="326.1" y="284.3" font-size="3.9" font-weight="bold" text-anchor="middle" fill="#111" stroke="#111" stroke-width="0.12">10<tspan font-size="2.6" dy="-1.5">5</tspan></text>
<line x1="326.1" y1="278.4" x2="326.1" y2="279.6" stroke="#222" stroke-width="0.7"/>
<text x="302.8" y="288.2" font-size="3.6" font-weight="bold" text-anchor="middle" fill="#222" textLength="29.5" lengthAdjust="spacingAndGlyphs">&lt;PE-Cy7-A&gt;: Gr-1</text>
<text transform="translate(265.8,249.5) rotate(-90)" font-size="3.6" font-weight="bold" text-anchor="middle" fill="#222" textLength="32.8" lengthAdjust="spacingAndGlyphs">&lt;APC-Cy7-A&gt;: Mac-1</text>
<clipPath id="c2"><rect x="367.4" y="221.8" width="56.4" height="56.6"/></clipPath>
<g clip-path="url(#c2)">
<ellipse cx="391.1" cy="247.3" rx="22.6" ry="9.6" fill="#aab6e0" opacity="0.4" filter="url(#bl2)"/>
<circle cx="411.3" cy="238.4" r="0.5" fill="#6a7cc0" opacity="0.45"/>
<circle cx="404.3" cy="252.0" r="0.5" fill="#6a7cc0" opacity="0.45"/>
<circle cx="404.7" cy="236.3" r="0.5" fill="#6a7cc0" opacity="0.45"/>
<circle cx="372.3" cy="238.2" r="0.5" fill="#6a7cc0" opacity="0.45"/>
<circle cx="409.3" cy="238.8" r="0.5" fill="#6a7cc0" opacity="0.45"/>
<circle cx="389.6" cy="240.9" r="0.5" fill="#6a7cc0" opacity="0.45"/>
<circle cx="403.1" cy="258.4" r="0.5" fill="#6a7cc0" opacity="0.45"/>
<circle cx="382.7" cy="244.2" r="0.5" fill="#6a7cc0" opacity="0.45"/>
<circle cx="380.6" cy="245.6" r="0.5" fill="#6a7cc0" opacity="0.45"/>
<circle cx="414.2" cy="241.8" r="0.5" fill="#6a7cc0" opacity="0.45"/>
<circle cx="414.1" cy="236.1" r="0.5" fill="#6a7cc0" opacity="0.45"/>
<circle cx="410.7" cy="242.7" r="0.5" fill="#6a7cc0" opacity="0.45"/>
<circle cx="413.3" cy="250.7" r="0.5" fill="#6a7cc0" opacity="0.45"/>
<circle cx="389.7" cy="241.7" r="0.5" fill="#6a7cc0" opacity="0.45"/>
<circle cx="379.2" cy="250.6" r="0.5" fill="#6a7cc0" opacity="0.45"/>
<circle cx="396.4" cy="260.0" r="0.5" fill="#6a7cc0" opacity="0.45"/>
<circle cx="400.0" cy="246.8" r="0.5" fill="#6a7cc0" opacity="0.45"/>
<circle cx="394.1" cy="239.1" r="0.5" fill="#6a7cc0" opacity="0.45"/>
<circle cx="398.2" cy="237.1" r="0.5" fill="#6a7cc0" opacity="0.45"/>
<circle cx="382.2" cy="247.2" r="0.5" fill="#6a7cc0" opacity="0.45"/>
<circle cx="385.5" cy="251.5" r="0.5" fill="#6a7cc0" opacity="0.45"/>
<circle cx="378.6" cy="234.8" r="0.5" fill="#6a7cc0" opacity="0.45"/>
<circle cx="387.7" cy="246.1" r="0.5" fill="#6a7cc0" opacity="0.45"/>
<circle cx="392.2" cy="240.4" r="0.5" fill="#6a7cc0" opacity="0.45"/>
<circle cx="374.3" cy="254.3" r="0.5" fill="#6a7cc0" opacity="0.45"/>
<circle cx="413.4" cy="248.6" r="0.5" fill="#6a7cc0" opacity="0.45"/>
<circle cx="406.8" cy="243.0" r="0.5" fill="#6a7cc0" opacity="0.45"/>
<circle cx="386.7" cy="237.5" r="0.5" fill="#6a7cc0" opacity="0.45"/>
<circle cx="371.3" cy="258.1" r="0.5" fill="#6a7cc0" opacity="0.45"/>
<circle cx="374.7" cy="246.8" r="0.5" fill="#6a7cc0" opacity="0.45"/>
<circle cx="388.4" cy="245.9" r="0.5" fill="#6a7cc0" opacity="0.45"/>
<circle cx="389.2" cy="236.1" r="0.5" fill="#6a7cc0" opacity="0.45"/>
<circle cx="403.9" cy="256.7" r="0.5" fill="#6a7cc0" opacity="0.45"/>
<circle cx="374.2" cy="248.8" r="0.5" fill="#6a7cc0" opacity="0.45"/>
<circle cx="392.4" cy="244.3" r="0.5" fill="#6a7cc0" opacity="0.45"/>
<circle cx="404.5" cy="247.4" r="0.5" fill="#6a7cc0" opacity="0.45"/>
<circle cx="412.3" cy="246.3" r="0.5" fill="#6a7cc0" opacity="0.45"/>
<circle cx="411.4" cy="238.1" r="0.5" fill="#6a7cc0" opacity="0.45"/>
<circle cx="378.8" cy="246.2" r="0.5" fill="#6a7cc0" opacity="0.45"/>
<circle cx="377.6" cy="238.8" r="0.5" fill="#6a7cc0" opacity="0.45"/>
<circle cx="377.0" cy="250.1" r="0.5" fill="#6a7cc0" opacity="0.45"/>
<circle cx="394.4" cy="255.9" r="0.5" fill="#6a7cc0" opacity="0.45"/>
<circle cx="397.8" cy="249.7" r="0.5" fill="#6a7cc0" opacity="0.45"/>
<circle cx="395.5" cy="245.9" r="0.5" fill="#6a7cc0" opacity="0.45"/>
<circle cx="403.0" cy="240.2" r="0.5" fill="#6a7cc0" opacity="0.45"/>
<circle cx="413.8" cy="258.4" r="0.5" fill="#6a7cc0" opacity="0.45"/>
<circle cx="397.2" cy="251.1" r="0.5" fill="#6a7cc0" opacity="0.45"/>
<circle cx="370.4" cy="235.9" r="0.5" fill="#6a7cc0" opacity="0.45"/>
<circle cx="379.5" cy="253.7" r="0.5" fill="#6a7cc0" opacity="0.45"/>
<circle cx="390.8" cy="244.3" r="0.5" fill="#6a7cc0" opacity="0.45"/>
<circle cx="373.7" cy="244.4" r="0.5" fill="#6a7cc0" opacity="0.45"/>
<circle cx="381.3" cy="234.9" r="0.5" fill="#6a7cc0" opacity="0.45"/>
<circle cx="398.5" cy="242.4" r="0.5" fill="#6a7cc0" opacity="0.45"/>
<circle cx="410.2" cy="238.0" r="0.5" fill="#6a7cc0" opacity="0.45"/>
<circle cx="372.0" cy="254.6" r="0.5" fill="#6a7cc0" opacity="0.45"/>
<circle cx="396.8" cy="250.6" r="0.5" fill="#6a7cc0" opacity="0.45"/>
<circle cx="371.6" cy="248.9" r="0.5" fill="#6a7cc0" opacity="0.45"/>
<circle cx="390.4" cy="255.5" r="0.5" fill="#6a7cc0" opacity="0.45"/>
<circle cx="379.9" cy="235.3" r="0.5" fill="#6a7cc0" opacity="0.45"/>
<circle cx="407.5" cy="250.0" r="0.5" fill="#6a7cc0" opacity="0.45"/>
<circle cx="405.0" cy="245.3" r="0.5" fill="#6a7cc0" opacity="0.45"/>
<circle cx="379.2" cy="239.6" r="0.5" fill="#6a7cc0" opacity="0.45"/>
<circle cx="403.1" cy="247.2" r="0.5" fill="#6a7cc0" opacity="0.45"/>
<circle cx="410.3" cy="246.7" r="0.5" fill="#6a7cc0" opacity="0.45"/>
<circle cx="390.6" cy="250.0" r="0.5" fill="#6a7cc0" opacity="0.45"/>
<circle cx="383.3" cy="251.8" r="0.5" fill="#6a7cc0" opacity="0.45"/>
<circle cx="375.9" cy="236.1" r="0.5" fill="#6a7cc0" opacity="0.45"/>
<circle cx="402.6" cy="239.6" r="0.5" fill="#6a7cc0" opacity="0.45"/>
<circle cx="406.4" cy="257.6" r="0.5" fill="#6a7cc0" opacity="0.45"/>
<circle cx="371.0" cy="251.9" r="0.5" fill="#6a7cc0" opacity="0.45"/>
<circle cx="397.9" cy="252.4" r="0.5" fill="#6a7cc0" opacity="0.45"/>
<circle cx="378.6" cy="257.3" r="0.5" fill="#6a7cc0" opacity="0.45"/>
<circle cx="382.2" cy="253.6" r="0.5" fill="#6a7cc0" opacity="0.45"/>
<circle cx="392.1" cy="260.1" r="0.5" fill="#6a7cc0" opacity="0.45"/>
<circle cx="389.1" cy="248.7" r="0.5" fill="#6a7cc0" opacity="0.45"/>
<circle cx="379.2" cy="260.8" r="0.5" fill="#6a7cc0" opacity="0.45"/>
<circle cx="391.6" cy="252.3" r="0.5" fill="#6a7cc0" opacity="0.45"/>
<circle cx="391.9" cy="248.6" r="0.5" fill="#6a7cc0" opacity="0.45"/>
<circle cx="400.9" cy="254.3" r="0.5" fill="#6a7cc0" opacity="0.45"/>
<circle cx="387.2" cy="243.8" r="0.5" fill="#6a7cc0" opacity="0.45"/>
<circle cx="379.9" cy="242.3" r="0.5" fill="#6a7cc0" opacity="0.45"/>
<circle cx="398.6" cy="251.5" r="0.5" fill="#6a7cc0" opacity="0.45"/>
<circle cx="399.3" cy="245.0" r="0.5" fill="#6a7cc0" opacity="0.45"/>
<circle cx="390.2" cy="239.0" r="0.5" fill="#6a7cc0" opacity="0.45"/>
<circle cx="376.4" cy="243.4" r="0.5" fill="#6a7cc0" opacity="0.45"/>
<circle cx="376.7" cy="252.9" r="0.5" fill="#6a7cc0" opacity="0.45"/>
<circle cx="374.0" cy="240.4" r="0.5" fill="#6a7cc0" opacity="0.45"/>
<circle cx="389.0" cy="250.1" r="0.5" fill="#6a7cc0" opacity="0.45"/>
<circle cx="386.9" cy="234.9" r="0.5" fill="#6a7cc0" opacity="0.45"/>
<circle cx="392.0" cy="255.6" r="0.5" fill="#6a7cc0" opacity="0.45"/>
<circle cx="387.7" cy="252.5" r="0.5" fill="#6a7cc0" opacity="0.45"/>
<circle cx="403.2" cy="242.3" r="0.5" fill="#6a7cc0" opacity="0.45"/>
<circle cx="404.3" cy="247.7" r="0.5" fill="#6a7cc0" opacity="0.45"/>
<circle cx="389.9" cy="252.8" r="0.5" fill="#6a7cc0" opacity="0.45"/>
<circle cx="404.7" cy="254.7" r="0.5" fill="#6a7cc0" opacity="0.45"/>
<circle cx="389.9" cy="246.3" r="0.5" fill="#6a7cc0" opacity="0.45"/>
<circle cx="377.7" cy="251.6" r="0.5" fill="#6a7cc0" opacity="0.45"/>
<circle cx="413.4" cy="241.2" r="0.5" fill="#6a7cc0" opacity="0.45"/>
<circle cx="411.8" cy="246.4" r="0.5" fill="#6a7cc0" opacity="0.45"/>
<circle cx="401.8" cy="241.4" r="0.5" fill="#6a7cc0" opacity="0.45"/>
<circle cx="387.9" cy="258.3" r="0.5" fill="#6a7cc0" opacity="0.45"/>
<circle cx="387.4" cy="235.7" r="0.5" fill="#6a7cc0" opacity="0.45"/>
<circle cx="385.3" cy="239.7" r="0.5" fill="#6a7cc0" opacity="0.45"/>
<circle cx="393.2" cy="243.9" r="0.5" fill="#6a7cc0" opacity="0.45"/>
<circle cx="375.2" cy="250.1" r="0.5" fill="#6a7cc0" opacity="0.45"/>
<circle cx="394.8" cy="244.7" r="0.5" fill="#6a7cc0" opacity="0.45"/>
<circle cx="406.3" cy="255.7" r="0.5" fill="#6a7cc0" opacity="0.45"/>
<circle cx="375.0" cy="246.4" r="0.5" fill="#6a7cc0" opacity="0.45"/>
<circle cx="369.5" cy="254.9" r="0.5" fill="#6a7cc0" opacity="0.45"/>
<circle cx="391.0" cy="243.5" r="0.5" fill="#6a7cc0" opacity="0.45"/>
<circle cx="411.3" cy="247.2" r="0.5" fill="#6a7cc0" opacity="0.45"/>
<circle cx="370.1" cy="234.5" r="0.5" fill="#6a7cc0" opacity="0.45"/>
<circle cx="374.0" cy="237.3" r="0.5" fill="#6a7cc0" opacity="0.45"/>
<circle cx="376.3" cy="239.8" r="0.5" fill="#6a7cc0" opacity="0.45"/>
<circle cx="399.6" cy="252.4" r="0.5" fill="#6a7cc0" opacity="0.45"/>
<circle cx="402.9" cy="245.4" r="0.5" fill="#6a7cc0" opacity="0.45"/>
<circle cx="380.0" cy="251.1" r="0.5" fill="#6a7cc0" opacity="0.45"/>
<circle cx="375.9" cy="246.5" r="0.5" fill="#6a7cc0" opacity="0.45"/>
<circle cx="369.7" cy="249.6" r="0.5" fill="#6a7cc0" opacity="0.45"/>
<circle cx="372.8" cy="259.0" r="0.5" fill="#6a7cc0" opacity="0.45"/>
<circle cx="400.2" cy="257.7" r="0.5" fill="#6a7cc0" opacity="0.45"/>
<circle cx="397.6" cy="246.8" r="0.5" fill="#6a7cc0" opacity="0.45"/>
<circle cx="393.1" cy="245.3" r="0.5" fill="#6a7cc0" opacity="0.45"/>
<circle cx="382.6" cy="247.2" r="0.5" fill="#6a7cc0" opacity="0.45"/>
<circle cx="398.9" cy="254.9" r="0.5" fill="#6a7cc0" opacity="0.45"/>
<circle cx="395.9" cy="258.5" r="0.5" fill="#6a7cc0" opacity="0.45"/>
<circle cx="409.4" cy="253.5" r="0.5" fill="#6a7cc0" opacity="0.45"/>
<circle cx="396.9" cy="248.0" r="0.5" fill="#6a7cc0" opacity="0.45"/>
<circle cx="400.8" cy="253.7" r="0.5" fill="#6a7cc0" opacity="0.45"/>
<circle cx="390.1" cy="249.7" r="0.5" fill="#6a7cc0" opacity="0.45"/>
<circle cx="406.5" cy="255.7" r="0.5" fill="#6a7cc0" opacity="0.45"/>
<circle cx="388.4" cy="242.0" r="0.5" fill="#6a7cc0" opacity="0.45"/>
<circle cx="371.9" cy="255.4" r="0.5" fill="#6a7cc0" opacity="0.45"/>
<circle cx="395.4" cy="235.0" r="0.5" fill="#6a7cc0" opacity="0.45"/>
<circle cx="413.7" cy="254.9" r="0.5" fill="#6a7cc0" opacity="0.45"/>
<circle cx="379.0" cy="236.7" r="0.5" fill="#6a7cc0" opacity="0.45"/>
<circle cx="373.4" cy="237.6" r="0.5" fill="#6a7cc0" opacity="0.45"/>
<circle cx="377.9" cy="235.9" r="0.5" fill="#6a7cc0" opacity="0.45"/>
<circle cx="402.3" cy="236.8" r="0.5" fill="#6a7cc0" opacity="0.45"/>
<circle cx="411.5" cy="257.4" r="0.5" fill="#6a7cc0" opacity="0.45"/>
<circle cx="406.3" cy="236.5" r="0.5" fill="#6a7cc0" opacity="0.45"/>
<circle cx="408.2" cy="249.3" r="0.5" fill="#6a7cc0" opacity="0.45"/>
<circle cx="389.2" cy="244.7" r="0.5" fill="#6a7cc0" opacity="0.45"/>
<circle cx="398.5" cy="251.2" r="0.5" fill="#6a7cc0" opacity="0.45"/>
<circle cx="412.0" cy="255.2" r="0.5" fill="#6a7cc0" opacity="0.45"/>
<circle cx="413.3" cy="253.3" r="0.5" fill="#6a7cc0" opacity="0.45"/>
<circle cx="413.5" cy="255.8" r="0.5" fill="#6a7cc0" opacity="0.45"/>
<circle cx="409.5" cy="243.6" r="0.5" fill="#6a7cc0" opacity="0.45"/>
<circle cx="405.8" cy="241.9" r="0.5" fill="#6a7cc0" opacity="0.45"/>
<circle cx="409.4" cy="235.0" r="0.5" fill="#6a7cc0" opacity="0.45"/>
<circle cx="395.2" cy="238.8" r="0.5" fill="#6a7cc0" opacity="0.45"/>
<circle cx="410.6" cy="243.9" r="0.5" fill="#6a7cc0" opacity="0.45"/>
<circle cx="378.4" cy="255.5" r="0.5" fill="#6a7cc0" opacity="0.45"/>
<circle cx="400.0" cy="251.0" r="0.5" fill="#6a7cc0" opacity="0.45"/>
<circle cx="405.1" cy="241.2" r="0.5" fill="#6a7cc0" opacity="0.45"/>
<circle cx="379.9" cy="249.0" r="0.5" fill="#6a7cc0" opacity="0.45"/>
<circle cx="377.9" cy="239.1" r="0.5" fill="#6a7cc0" opacity="0.45"/>
<circle cx="394.9" cy="253.8" r="0.5" fill="#6a7cc0" opacity="0.45"/>
<circle cx="404.9" cy="243.1" r="0.5" fill="#6a7cc0" opacity="0.45"/>
<circle cx="370.3" cy="236.2" r="0.5" fill="#6a7cc0" opacity="0.45"/>
<circle cx="404.6" cy="241.5" r="0.5" fill="#6a7cc0" opacity="0.45"/>
<circle cx="412.9" cy="241.1" r="0.5" fill="#6a7cc0" opacity="0.45"/>
<circle cx="390.1" cy="239.1" r="0.5" fill="#6a7cc0" opacity="0.45"/>
<circle cx="412.7" cy="241.0" r="0.5" fill="#6a7cc0" opacity="0.45"/>
<circle cx="399.6" cy="252.1" r="0.5" fill="#6a7cc0" opacity="0.45"/>
<circle cx="414.1" cy="236.8" r="0.5" fill="#6a7cc0" opacity="0.45"/>
<circle cx="407.2" cy="235.8" r="0.5" fill="#6a7cc0" opacity="0.45"/>
<circle cx="413.9" cy="235.7" r="0.5" fill="#6a7cc0" opacity="0.45"/>
<circle cx="399.9" cy="246.8" r="0.5" fill="#6a7cc0" opacity="0.45"/>
<circle cx="375.0" cy="251.6" r="0.5" fill="#6a7cc0" opacity="0.45"/>
<circle cx="411.0" cy="261.6" r="0.5" fill="#9aa6d6" opacity="0.5"/>
<circle cx="412.2" cy="264.5" r="0.5" fill="#9aa6d6" opacity="0.5"/>
<circle cx="391.1" cy="276.1" r="0.5" fill="#9aa6d6" opacity="0.5"/>
<circle cx="396.8" cy="276.2" r="0.5" fill="#9aa6d6" opacity="0.5"/>
<circle cx="416.8" cy="275.5" r="0.5" fill="#9aa6d6" opacity="0.5"/>
<circle cx="394.3" cy="268.5" r="0.5" fill="#9aa6d6" opacity="0.5"/>
<circle cx="393.0" cy="276.1" r="0.5" fill="#9aa6d6" opacity="0.5"/>
<circle cx="416.1" cy="271.4" r="0.5" fill="#9aa6d6" opacity="0.5"/>
<circle cx="404.0" cy="266.8" r="0.5" fill="#9aa6d6" opacity="0.5"/>
<circle cx="415.5" cy="269.0" r="0.5" fill="#9aa6d6" opacity="0.5"/>
<circle cx="409.4" cy="263.7" r="0.5" fill="#9aa6d6" opacity="0.5"/>
<circle cx="396.8" cy="262.3" r="0.5" fill="#9aa6d6" opacity="0.5"/>
<circle cx="412.1" cy="270.2" r="0.5" fill="#9aa6d6" opacity="0.5"/>
<circle cx="394.4" cy="275.2" r="0.5" fill="#9aa6d6" opacity="0.5"/>
<circle cx="398.2" cy="267.9" r="0.5" fill="#9aa6d6" opacity="0.5"/>
<circle cx="394.8" cy="265.7" r="0.5" fill="#9aa6d6" opacity="0.5"/>
<circle cx="416.0" cy="266.7" r="0.5" fill="#9aa6d6" opacity="0.5"/>
<circle cx="395.2" cy="269.2" r="0.5" fill="#9aa6d6" opacity="0.5"/>
<circle cx="399.8" cy="275.7" r="0.5" fill="#9aa6d6" opacity="0.5"/>
<circle cx="393.5" cy="276.9" r="0.5" fill="#9aa6d6" opacity="0.5"/>
<circle cx="391.7" cy="275.6" r="0.5" fill="#9aa6d6" opacity="0.5"/>
<circle cx="410.7" cy="264.8" r="0.5" fill="#9aa6d6" opacity="0.5"/>
<circle cx="404.8" cy="266.0" r="0.5" fill="#9aa6d6" opacity="0.5"/>
<circle cx="398.0" cy="264.6" r="0.5" fill="#9aa6d6" opacity="0.5"/>
<circle cx="401.3" cy="277.1" r="0.5" fill="#9aa6d6" opacity="0.5"/>
<circle cx="420.9" cy="276.1" r="0.5" fill="#9aa6d6" opacity="0.5"/>
<circle cx="393.0" cy="266.0" r="0.5" fill="#9aa6d6" opacity="0.5"/>
<circle cx="417.8" cy="262.3" r="0.5" fill="#9aa6d6" opacity="0.5"/>
<circle cx="412.5" cy="266.1" r="0.5" fill="#9aa6d6" opacity="0.5"/>
<circle cx="420.3" cy="261.7" r="0.5" fill="#9aa6d6" opacity="0.5"/>
<circle cx="415.0" cy="266.8" r="0.5" fill="#9aa6d6" opacity="0.5"/>
<circle cx="394.3" cy="261.5" r="0.5" fill="#9aa6d6" opacity="0.5"/>
<circle cx="415.8" cy="269.8" r="0.5" fill="#9aa6d6" opacity="0.5"/>
<circle cx="395.7" cy="268.3" r="0.5" fill="#9aa6d6" opacity="0.5"/>
<circle cx="418.2" cy="264.9" r="0.5" fill="#9aa6d6" opacity="0.5"/>
<circle cx="407.7" cy="263.6" r="0.5" fill="#9aa6d6" opacity="0.5"/>
<circle cx="395.5" cy="273.6" r="0.5" fill="#9aa6d6" opacity="0.5"/>
<circle cx="412.0" cy="264.5" r="0.5" fill="#9aa6d6" opacity="0.5"/>
<circle cx="392.4" cy="262.8" r="0.5" fill="#9aa6d6" opacity="0.5"/>
<circle cx="408.8" cy="269.3" r="0.5" fill="#9aa6d6" opacity="0.5"/>
<ellipse cx="415.1" cy="245.1" rx="13.2" ry="3.1" transform="rotate(-63.6 415.1 245.1)" fill="#a8c0e0" opacity="0.6" filter="url(#bl1)"/>
<ellipse cx="415.1" cy="245.1" rx="12.2" ry="1.5" transform="rotate(-63.6 415.1 245.1)" fill="#6480b0" opacity="0.85" filter="url(#bl05)"/>
<ellipse cx="415.1" cy="245.1" rx="9.7" ry="0.8" transform="rotate(-63.6 415.1 245.1)" fill="#8ea4c8" opacity="0.7" filter="url(#bl05)"/>
<rect x="367.9" y="260.5" width="15.8" height="17.2" fill="#c8dcf0" opacity="0.55" filter="url(#bl1)"/>
<ellipse cx="380.7" cy="270.2" rx="6" ry="5" fill="#78b0a8" opacity="0.7" filter="url(#bl1)"/>
<circle cx="375.7" cy="271.2" r="9.0" fill="url(#gblob1)" filter="url(#bl05)"/>
</g>
<line x1="367.4" y1="259.7" x2="423.8" y2="259.7" stroke="#86828f" stroke-width="1.0"/>
<rect x="367.4" y="259.7" width="17.3" height="18.7" fill="none" stroke="#b48cbc" stroke-width="0.85"/>
<path d="M367.4 221.8 H423.8 V278.4" fill="none" stroke="#968a9c" stroke-width="1.3"/>
<path d="M367.4 221.8 V278.4 H423.8" fill="none" stroke="#2a2a2a" stroke-width="1.1"/>
<text x="369.0" y="226.3" font-size="4.0" fill="#857a90" textLength="7.2" lengthAdjust="spacingAndGlyphs">26.3</text>
<text x="385.9" y="275.8" font-size="4.6" fill="#a0509a" textLength="7.2" lengthAdjust="spacingAndGlyphs">3.65</text>
<text x="366.0" y="228.1" font-size="3.9" font-weight="bold" text-anchor="end" fill="#111" stroke="#111" stroke-width="0.12">10<tspan font-size="2.6" dy="-1.5">5</tspan></text>
<line x1="366.2" y1="226.8" x2="367.4" y2="226.8" stroke="#222" stroke-width="0.7"/>
<text x="366.0" y="240.5" font-size="3.9" font-weight="bold" text-anchor="end" fill="#111" stroke="#111" stroke-width="0.12">10<tspan font-size="2.6" dy="-1.5">4</tspan></text>
<line x1="366.2" y1="239.2" x2="367.4" y2="239.2" stroke="#222" stroke-width="0.7"/>
<text x="366.0" y="254.0" font-size="3.9" font-weight="bold" text-anchor="end" fill="#111" stroke="#111" stroke-width="0.12">10<tspan font-size="2.6" dy="-1.5">3</tspan></text>
<line x1="366.2" y1="252.7" x2="367.4" y2="252.7" stroke="#222" stroke-width="0.7"/>
<text x="366.0" y="267.4" font-size="3.9" font-weight="bold" text-anchor="end" fill="#111" stroke="#111" stroke-width="0.12">10<tspan font-size="2.6" dy="-1.5">2</tspan></text>
<line x1="366.2" y1="266.1" x2="367.4" y2="266.1" stroke="#222" stroke-width="0.7"/>
<text x="366.0" y="273.5" font-size="3.9" font-weight="bold" text-anchor="end" fill="#111" stroke="#111" stroke-width="0.12">0</text>
<line x1="366.2" y1="272.2" x2="367.4" y2="272.2" stroke="#222" stroke-width="0.7"/>
<text x="373.8" y="284.3" font-size="3.9" font-weight="bold" text-anchor="middle" fill="#111" stroke="#111" stroke-width="0.12">0</text>
<line x1="373.8" y1="278.4" x2="373.8" y2="279.6" stroke="#222" stroke-width="0.7"/>
<text x="378.7" y="284.3" font-size="3.9" font-weight="bold" text-anchor="middle" fill="#111" stroke="#111" stroke-width="0.12">10<tspan font-size="2.6" dy="-1.5">2</tspan></text>
<line x1="378.7" y1="278.4" x2="378.7" y2="279.6" stroke="#222" stroke-width="0.7"/>
<text x="393.3" y="284.3" font-size="3.9" font-weight="bold" text-anchor="middle" fill="#111" stroke="#111" stroke-width="0.12">10<tspan font-size="2.6" dy="-1.5">3</tspan></text>
<line x1="393.3" y1="278.4" x2="393.3" y2="279.6" stroke="#222" stroke-width="0.7"/>
<text x="406.3" y="284.3" font-size="3.9" font-weight="bold" text-anchor="middle" fill="#111" stroke="#111" stroke-width="0.12">10<tspan font-size="2.6" dy="-1.5">4</tspan></text>
<line x1="406.3" y1="278.4" x2="406.3" y2="279.6" stroke="#222" stroke-width="0.7"/>
<text x="418.7" y="284.3" font-size="3.9" font-weight="bold" text-anchor="middle" fill="#111" stroke="#111" stroke-width="0.12">10<tspan font-size="2.6" dy="-1.5">5</tspan></text>
<line x1="418.7" y1="278.4" x2="418.7" y2="279.6" stroke="#222" stroke-width="0.7"/>
<text x="395.6" y="288.2" font-size="3.6" font-weight="bold" text-anchor="middle" fill="#222" textLength="29.3" lengthAdjust="spacingAndGlyphs">&lt;PE-Cy7-A&gt;: Gr-1</text>
<text transform="translate(358.8,249.5) rotate(-90)" font-size="3.6" font-weight="bold" text-anchor="middle" fill="#222" textLength="32.8" lengthAdjust="spacingAndGlyphs">&lt;APC-Cy7-A&gt;: Mac-1</text>
<clipPath id="c3"><rect x="460.4" y="221.8" width="56.2" height="56.6"/></clipPath>
<g clip-path="url(#c3)">
<ellipse cx="484.0" cy="247.3" rx="22.5" ry="9.6" fill="#a8b2e0" opacity="0.42" filter="url(#bl2)"/>
<ellipse cx="491.3" cy="244.4" rx="7" ry="4" fill="#8a9ad8" opacity="0.45" filter="url(#bl1)"/>
<circle cx="474.7" cy="239.2" r="0.5" fill="#6a7cc0" opacity="0.45"/>
<circle cx="488.6" cy="238.8" r="0.5" fill="#6a7cc0" opacity="0.45"/>
<circle cx="494.8" cy="239.5" r="0.5" fill="#6a7cc0" opacity="0.45"/>
<circle cx="501.3" cy="252.9" r="0.5" fill="#6a7cc0" opacity="0.45"/>
<circle cx="478.9" cy="240.8" r="0.5" fill="#6a7cc0" opacity="0.45"/>
<circle cx="485.6" cy="236.5" r="0.5" fill="#6a7cc0" opacity="0.45"/>
<circle cx="476.8" cy="243.2" r="0.5" fill="#6a7cc0" opacity="0.45"/>
<circle cx="484.6" cy="246.9" r="0.5" fill="#6a7cc0" opacity="0.45"/>
<circle cx="505.9" cy="251.0" r="0.5" fill="#6a7cc0" opacity="0.45"/>
<circle cx="499.1" cy="259.8" r="0.5" fill="#6a7cc0" opacity="0.45"/>
<circle cx="488.3" cy="255.4" r="0.5" fill="#6a7cc0" opacity="0.45"/>
<circle cx="494.6" cy="237.3" r="0.5" fill="#6a7cc0" opacity="0.45"/>
<circle cx="475.0" cy="246.7" r="0.5" fill="#6a7cc0" opacity="0.45"/>
<circle cx="501.1" cy="236.8" r="0.5" fill="#6a7cc0" opacity="0.45"/>
<circle cx="479.9" cy="245.5" r="0.5" fill="#6a7cc0" opacity="0.45"/>
<circle cx="504.7" cy="255.8" r="0.5" fill="#6a7cc0" opacity="0.45"/>
<circle cx="482.0" cy="248.8" r="0.5" fill="#6a7cc0" opacity="0.45"/>
<circle cx="478.8" cy="248.9" r="0.5" fill="#6a7cc0" opacity="0.45"/>
<circle cx="463.3" cy="237.2" r="0.5" fill="#6a7cc0" opacity="0.45"/>
<circle cx="490.9" cy="250.7" r="0.5" fill="#6a7cc0" opacity="0.45"/>
<circle cx="492.9" cy="247.8" r="0.5" fill="#6a7cc0" opacity="0.45"/>
<circle cx="481.9" cy="251.9" r="0.5" fill="#6a7cc0" opacity="0.45"/>
<circle cx="505.4" cy="248.0" r="0.5" fill="#6a7cc0" opacity="0.45"/>
<circle cx="469.1" cy="243.0" r="0.5" fill="#6a7cc0" opacity="0.45"/>
<circle cx="475.4" cy="242.1" r="0.5" fill="#6a7cc0" opacity="0.45"/>
<circle cx="489.8" cy="253.6" r="0.5" fill="#6a7cc0" opacity="0.45"/>
<circle cx="483.1" cy="248.6" r="0.5" fill="#6a7cc0" opacity="0.45"/>
<circle cx="473.3" cy="244.1" r="0.5" fill="#6a7cc0" opacity="0.45"/>
<circle cx="462.9" cy="249.5" r="0.5" fill="#6a7cc0" opacity="0.45"/>
<circle cx="484.5" cy="247.1" r="0.5" fill="#6a7cc0" opacity="0.45"/>
<circle cx="469.5" cy="238.8" r="0.5" fill="#6a7cc0" opacity="0.45"/>
<circle cx="479.8" cy="254.2" r="0.5" fill="#6a7cc0" opacity="0.45"/>
<circle cx="505.5" cy="241.8" r="0.5" fill="#6a7cc0" opacity="0.45"/>
<circle cx="500.6" cy="249.2" r="0.5" fill="#6a7cc0" opacity="0.45"/>
<circle cx="496.6" cy="243.3" r="0.5" fill="#6a7cc0" opacity="0.45"/>
<circle cx="468.1" cy="252.0" r="0.5" fill="#6a7cc0" opacity="0.45"/>
<circle cx="488.1" cy="247.9" r="0.5" fill="#6a7cc0" opacity="0.45"/>
<circle cx="483.0" cy="252.7" r="0.5" fill="#6a7cc0" opacity="0.45"/>
<circle cx="479.7" cy="245.2" r="0.5" fill="#6a7cc0" opacity="0.45"/>
<circle cx="476.1" cy="239.6" r="0.5" fill="#6a7cc0" opacity="0.45"/>
<circle cx="503.8" cy="238.8" r="0.5" fill="#6a7cc0" opacity="0.45"/>
<circle cx="471.6" cy="245.0" r="0.5" fill="#6a7cc0" opacity="0.45"/>
<circle cx="503.8" cy="251.8" r="0.5" fill="#6a7cc0" opacity="0.45"/>
<circle cx="479.9" cy="247.4" r="0.5" fill="#6a7cc0" opacity="0.45"/>
<circle cx="492.8" cy="249.8" r="0.5" fill="#6a7cc0" opacity="0.45"/>
<circle cx="487.6" cy="249.5" r="0.5" fill="#6a7cc0" opacity="0.45"/>
<circle cx="507.2" cy="247.7" r="0.5" fill="#6a7cc0" opacity="0.45"/>
<circle cx="499.5" cy="241.6" r="0.5" fill="#6a7cc0" opacity="0.45"/>
<circle cx="502.3" cy="249.6" r="0.5" fill="#6a7cc0" opacity="0.45"/>
<circle cx="485.1" cy="239.9" r="0.5" fill="#6a7cc0" opacity="0.45"/>
<circle cx="478.3" cy="235.2" r="0.5" fill="#6a7cc0" opacity="0.45"/>
<circle cx="493.5" cy="233.6" r="0.5" fill="#6a7cc0" opacity="0.45"/>
<circle cx="492.4" cy="241.1" r="0.5" fill="#6a7cc0" opacity="0.45"/>
<circle cx="491.5" cy="246.6" r="0.5" fill="#6a7cc0" opacity="0.45"/>
<circle cx="467.9" cy="249.1" r="0.5" fill="#6a7cc0" opacity="0.45"/>
<circle cx="470.1" cy="245.8" r="0.5" fill="#6a7cc0" opacity="0.45"/>
<circle cx="465.2" cy="236.2" r="0.5" fill="#6a7cc0" opacity="0.45"/>
<circle cx="478.3" cy="249.8" r="0.5" fill="#6a7cc0" opacity="0.45"/>
<circle cx="488.6" cy="246.6" r="0.5" fill="#6a7cc0" opacity="0.45"/>
<circle cx="502.4" cy="249.6" r="0.5" fill="#6a7cc0" opacity="0.45"/>
<circle cx="473.6" cy="234.4" r="0.5" fill="#6a7cc0" opacity="0.45"/>
<circle cx="476.1" cy="249.0" r="0.5" fill="#6a7cc0" opacity="0.45"/>
<circle cx="473.3" cy="250.5" r="0.5" fill="#6a7cc0" opacity="0.45"/>
<circle cx="501.8" cy="251.5" r="0.5" fill="#6a7cc0" opacity="0.45"/>
<circle cx="478.5" cy="244.9" r="0.5" fill="#6a7cc0" opacity="0.45"/>
<circle cx="467.6" cy="249.4" r="0.5" fill="#6a7cc0" opacity="0.45"/>
<circle cx="467.9" cy="246.5" r="0.5" fill="#6a7cc0" opacity="0.45"/>
<circle cx="464.0" cy="255.7" r="0.5" fill="#6a7cc0" opacity="0.45"/>
<circle cx="466.6" cy="251.0" r="0.5" fill="#6a7cc0" opacity="0.45"/>
<circle cx="500.0" cy="246.8" r="0.5" fill="#6a7cc0" opacity="0.45"/>
<circle cx="471.8" cy="250.0" r="0.5" fill="#6a7cc0" opacity="0.45"/>
<circle cx="474.1" cy="243.4" r="0.5" fill="#6a7cc0" opacity="0.45"/>
<circle cx="501.6" cy="239.5" r="0.5" fill="#6a7cc0" opacity="0.45"/>
<circle cx="497.1" cy="244.3" r="0.5" fill="#6a7cc0" opacity="0.45"/>
<circle cx="479.9" cy="237.3" r="0.5" fill="#6a7cc0" opacity="0.45"/>
<circle cx="487.7" cy="248.5" r="0.5" fill="#6a7cc0" opacity="0.45"/>
<circle cx="476.4" cy="239.4" r="0.5" fill="#6a7cc0" opacity="0.45"/>
<circle cx="480.5" cy="258.7" r="0.5" fill="#6a7cc0" opacity="0.45"/>
<circle cx="463.7" cy="252.6" r="0.5" fill="#6a7cc0" opacity="0.45"/>
<circle cx="492.0" cy="248.6" r="0.5" fill="#6a7cc0" opacity="0.45"/>
<circle cx="467.6" cy="240.6" r="0.5" fill="#6a7cc0" opacity="0.45"/>
<circle cx="479.5" cy="236.0" r="0.5" fill="#6a7cc0" opacity="0.45"/>
<circle cx="500.1" cy="252.5" r="0.5" fill="#6a7cc0" opacity="0.45"/>
<circle cx="493.2" cy="256.1" r="0.5" fill="#6a7cc0" opacity="0.45"/>
<circle cx="500.8" cy="253.3" r="0.5" fill="#6a7cc0" opacity="0.45"/>
<circle cx="498.0" cy="239.5" r="0.5" fill="#6a7cc0" opacity="0.45"/>
<circle cx="496.0" cy="239.9" r="0.5" fill="#6a7cc0" opacity="0.45"/>
<circle cx="493.5" cy="249.4" r="0.5" fill="#6a7cc0" opacity="0.45"/>
<circle cx="464.8" cy="250.4" r="0.5" fill="#6a7cc0" opacity="0.45"/>
<circle cx="468.1" cy="254.3" r="0.5" fill="#6a7cc0" opacity="0.45"/>
<circle cx="506.0" cy="253.6" r="0.5" fill="#6a7cc0" opacity="0.45"/>
<circle cx="478.5" cy="249.1" r="0.5" fill="#6a7cc0" opacity="0.45"/>
<circle cx="494.2" cy="254.2" r="0.5" fill="#6a7cc0" opacity="0.45"/>
<circle cx="482.4" cy="251.1" r="0.5" fill="#6a7cc0" opacity="0.45"/>
<circle cx="477.4" cy="250.5" r="0.5" fill="#6a7cc0" opacity="0.45"/>
<circle cx="483.1" cy="257.6" r="0.5" fill="#6a7cc0" opacity="0.45"/>
<circle cx="478.6" cy="245.6" r="0.5" fill="#6a7cc0" opacity="0.45"/>
<circle cx="493.9" cy="249.4" r="0.5" fill="#6a7cc0" opacity="0.45"/>
<circle cx="478.7" cy="257.0" r="0.5" fill="#6a7cc0" opacity="0.45"/>
<circle cx="496.1" cy="246.1" r="0.5" fill="#6a7cc0" opacity="0.45"/>
<circle cx="481.9" cy="257.8" r="0.5" fill="#6a7cc0" opacity="0.45"/>
<circle cx="491.4" cy="246.8" r="0.5" fill="#6a7cc0" opacity="0.45"/>
<circle cx="473.5" cy="254.9" r="0.5" fill="#6a7cc0" opacity="0.45"/>
<circle cx="491.1" cy="257.8" r="0.5" fill="#6a7cc0" opacity="0.45"/>
<circle cx="499.7" cy="256.1" r="0.5" fill="#6a7cc0" opacity="0.45"/>
<circle cx="476.8" cy="247.3" r="0.5" fill="#6a7cc0" opacity="0.45"/>
<circle cx="473.2" cy="236.2" r="0.5" fill="#6a7cc0" opacity="0.45"/>
<circle cx="494.1" cy="255.4" r="0.5" fill="#6a7cc0" opacity="0.45"/>
<circle cx="469.5" cy="253.3" r="0.5" fill="#6a7cc0" opacity="0.45"/>
<circle cx="469.8" cy="247.3" r="0.5" fill="#6a7cc0" opacity="0.45"/>
<circle cx="494.9" cy="233.5" r="0.5" fill="#6a7cc0" opacity="0.45"/>
<circle cx="481.5" cy="243.3" r="0.5" fill="#6a7cc0" opacity="0.45"/>
<circle cx="477.6" cy="240.5" r="0.5" fill="#6a7cc0" opacity="0.45"/>
<circle cx="469.8" cy="242.8" r="0.5" fill="#6a7cc0" opacity="0.45"/>
<circle cx="471.2" cy="239.3" r="0.5" fill="#6a7cc0" opacity="0.45"/>
<circle cx="503.3" cy="251.7" r="0.5" fill="#6a7cc0" opacity="0.45"/>
<circle cx="475.8" cy="248.7" r="0.5" fill="#6a7cc0" opacity="0.45"/>
<circle cx="475.9" cy="257.0" r="0.5" fill="#6a7cc0" opacity="0.45"/>
<circle cx="492.9" cy="243.8" r="0.5" fill="#6a7cc0" opacity="0.45"/>
<circle cx="488.5" cy="244.8" r="0.5" fill="#6a7cc0" opacity="0.45"/>
<circle cx="467.5" cy="240.8" r="0.5" fill="#6a7cc0" opacity="0.45"/>
<circle cx="501.2" cy="242.5" r="0.5" fill="#6a7cc0" opacity="0.45"/>
<circle cx="484.4" cy="247.0" r="0.5" fill="#6a7cc0" opacity="0.45"/>
<circle cx="485.5" cy="250.2" r="0.5" fill="#6a7cc0" opacity="0.45"/>
<circle cx="482.2" cy="257.1" r="0.5" fill="#6a7cc0" opacity="0.45"/>
<circle cx="494.8" cy="240.7" r="0.5" fill="#6a7cc0" opacity="0.45"/>
<circle cx="505.6" cy="254.9" r="0.5" fill="#6a7cc0" opacity="0.45"/>
<circle cx="465.0" cy="257.2" r="0.5" fill="#6a7cc0" opacity="0.45"/>
<circle cx="472.0" cy="245.0" r="0.5" fill="#6a7cc0" opacity="0.45"/>
<circle cx="490.3" cy="243.5" r="0.5" fill="#6a7cc0" opacity="0.45"/>
<circle cx="493.0" cy="256.2" r="0.5" fill="#6a7cc0" opacity="0.45"/>
<circle cx="466.9" cy="255.4" r="0.5" fill="#6a7cc0" opacity="0.45"/>
<circle cx="492.8" cy="243.8" r="0.5" fill="#6a7cc0" opacity="0.45"/>
<circle cx="488.5" cy="244.8" r="0.5" fill="#6a7cc0" opacity="0.45"/>
<circle cx="475.4" cy="256.2" r="0.5" fill="#6a7cc0" opacity="0.45"/>
<circle cx="486.6" cy="252.9" r="0.5" fill="#6a7cc0" opacity="0.45"/>
<circle cx="485.0" cy="260.1" r="0.5" fill="#6a7cc0" opacity="0.45"/>
<circle cx="499.2" cy="250.7" r="0.5" fill="#6a7cc0" opacity="0.45"/>
<circle cx="500.4" cy="243.7" r="0.5" fill="#6a7cc0" opacity="0.45"/>
<circle cx="477.2" cy="241.0" r="0.5" fill="#6a7cc0" opacity="0.45"/>
<circle cx="470.0" cy="243.7" r="0.5" fill="#6a7cc0" opacity="0.45"/>
<circle cx="478.3" cy="234.7" r="0.5" fill="#6a7cc0" opacity="0.45"/>
<circle cx="464.4" cy="244.1" r="0.5" fill="#6a7cc0" opacity="0.45"/>
<circle cx="484.9" cy="242.7" r="0.5" fill="#6a7cc0" opacity="0.45"/>
<circle cx="507.0" cy="235.0" r="0.5" fill="#6a7cc0" opacity="0.45"/>
<circle cx="497.2" cy="251.6" r="0.5" fill="#6a7cc0" opacity="0.45"/>
<circle cx="498.2" cy="251.9" r="0.5" fill="#6a7cc0" opacity="0.45"/>
<circle cx="496.7" cy="249.3" r="0.5" fill="#6a7cc0" opacity="0.45"/>
<circle cx="487.2" cy="248.5" r="0.5" fill="#6a7cc0" opacity="0.45"/>
<circle cx="506.8" cy="251.5" r="0.5" fill="#6a7cc0" opacity="0.45"/>
<circle cx="478.1" cy="249.8" r="0.5" fill="#6a7cc0" opacity="0.45"/>
<circle cx="465.4" cy="240.5" r="0.5" fill="#6a7cc0" opacity="0.45"/>
<circle cx="504.5" cy="243.3" r="0.5" fill="#6a7cc0" opacity="0.45"/>
<circle cx="470.4" cy="250.9" r="0.5" fill="#6a7cc0" opacity="0.45"/>
<circle cx="481.7" cy="250.9" r="0.5" fill="#6a7cc0" opacity="0.45"/>
<circle cx="463.4" cy="238.5" r="0.5" fill="#6a7cc0" opacity="0.45"/>
<circle cx="480.4" cy="236.9" r="0.5" fill="#6a7cc0" opacity="0.45"/>
<circle cx="471.2" cy="249.7" r="0.5" fill="#6a7cc0" opacity="0.45"/>
<circle cx="498.8" cy="239.9" r="0.5" fill="#6a7cc0" opacity="0.45"/>
<circle cx="491.2" cy="242.1" r="0.5" fill="#6a7cc0" opacity="0.45"/>
<circle cx="492.9" cy="245.9" r="0.5" fill="#6a7cc0" opacity="0.45"/>
<circle cx="490.6" cy="243.0" r="0.5" fill="#6a7cc0" opacity="0.45"/>
<circle cx="483.2" cy="235.0" r="0.5" fill="#6a7cc0" opacity="0.45"/>
<circle cx="464.9" cy="251.9" r="0.5" fill="#6a7cc0" opacity="0.45"/>
<circle cx="469.4" cy="249.4" r="0.5" fill="#6a7cc0" opacity="0.45"/>
<circle cx="481.4" cy="247.0" r="0.5" fill="#6a7cc0" opacity="0.45"/>
<circle cx="489.4" cy="248.7" r="0.5" fill="#6a7cc0" opacity="0.45"/>
<circle cx="496.7" cy="247.3" r="0.5" fill="#6a7cc0" opacity="0.45"/>
<circle cx="482.8" cy="258.5" r="0.5" fill="#6a7cc0" opacity="0.45"/>
<circle cx="491.9" cy="259.7" r="0.5" fill="#6a7cc0" opacity="0.45"/>
<circle cx="465.1" cy="253.1" r="0.5" fill="#6a7cc0" opacity="0.45"/>
<circle cx="478.8" cy="237.9" r="0.5" fill="#6a7cc0" opacity="0.45"/>
<circle cx="469.7" cy="238.9" r="0.5" fill="#6a7cc0" opacity="0.45"/>
<circle cx="484.8" cy="243.9" r="0.5" fill="#6a7cc0" opacity="0.45"/>
<circle cx="477.0" cy="248.7" r="0.5" fill="#6a7cc0" opacity="0.45"/>
<circle cx="503.7" cy="246.4" r="0.5" fill="#6a7cc0" opacity="0.45"/>
<circle cx="472.8" cy="240.0" r="0.5" fill="#6a7cc0" opacity="0.45"/>
<circle cx="507.1" cy="248.9" r="0.5" fill="#6a7cc0" opacity="0.45"/>
<circle cx="501.5" cy="246.0" r="0.5" fill="#6a7cc0" opacity="0.45"/>
<circle cx="502.5" cy="239.8" r="0.5" fill="#6a7cc0" opacity="0.45"/>
<circle cx="488.4" cy="256.7" r="0.5" fill="#6a7cc0" opacity="0.45"/>
<circle cx="507.1" cy="256.2" r="0.5" fill="#6a7cc0" opacity="0.45"/>
<circle cx="469.2" cy="250.2" r="0.5" fill="#6a7cc0" opacity="0.45"/>
<circle cx="503.7" cy="255.0" r="0.5" fill="#6a7cc0" opacity="0.45"/>
<circle cx="493.4" cy="239.8" r="0.5" fill="#6a7cc0" opacity="0.45"/>
<circle cx="467.1" cy="237.1" r="0.5" fill="#6a7cc0" opacity="0.45"/>
<circle cx="467.8" cy="248.2" r="0.5" fill="#6a7cc0" opacity="0.45"/>
<circle cx="493.2" cy="240.7" r="0.5" fill="#6a7cc0" opacity="0.45"/>
<circle cx="478.3" cy="249.7" r="0.5" fill="#6a7cc0" opacity="0.45"/>
<circle cx="505.9" cy="257.2" r="0.5" fill="#6a7cc0" opacity="0.45"/>
<circle cx="491.1" cy="262.5" r="0.5" fill="#9aa6d6" opacity="0.5"/>
<circle cx="484.2" cy="269.5" r="0.5" fill="#9aa6d6" opacity="0.5"/>
<circle cx="495.5" cy="270.2" r="0.5" fill="#9aa6d6" opacity="0.5"/>
<circle cx="494.1" cy="261.6" r="0.5" fill="#9aa6d6" opacity="0.5"/>
<circle cx="504.2" cy="271.8" r="0.5" fill="#9aa6d6" opacity="0.5"/>
<circle cx="499.7" cy="270.1" r="0.5" fill="#9aa6d6" opacity="0.5"/>
<circle cx="504.2" cy="277.0" r="0.5" fill="#9aa6d6" opacity="0.5"/>
<circle cx="509.9" cy="272.8" r="0.5" fill="#9aa6d6" opacity="0.5"/>
<circle cx="495.2" cy="266.5" r="0.5" fill="#9aa6d6" opacity="0.5"/>
<circle cx="495.8" cy="276.8" r="0.5" fill="#9aa6d6" opacity="0.5"/>
<circle cx="494.8" cy="267.5" r="0.5" fill="#9aa6d6" opacity="0.5"/>
<circle cx="495.6" cy="263.7" r="0.5" fill="#9aa6d6" opacity="0.5"/>
<circle cx="513.7" cy="261.5" r="0.5" fill="#9aa6d6" opacity="0.5"/>
<circle cx="501.7" cy="276.1" r="0.5" fill="#9aa6d6" opacity="0.5"/>
<circle cx="490.8" cy="271.1" r="0.5" fill="#9aa6d6" opacity="0.5"/>
<circle cx="494.5" cy="265.2" r="0.5" fill="#9aa6d6" opacity="0.5"/>
<circle cx="489.0" cy="263.3" r="0.5" fill="#9aa6d6" opacity="0.5"/>
<circle cx="508.9" cy="273.8" r="0.5" fill="#9aa6d6" opacity="0.5"/>
<circle cx="511.0" cy="262.2" r="0.5" fill="#9aa6d6" opacity="0.5"/>
<circle cx="504.3" cy="266.6" r="0.5" fill="#9aa6d6" opacity="0.5"/>
<circle cx="502.9" cy="270.1" r="0.5" fill="#9aa6d6" opacity="0.5"/>
<circle cx="492.6" cy="276.8" r="0.5" fill="#9aa6d6" opacity="0.5"/>
<circle cx="482.9" cy="273.2" r="0.5" fill="#9aa6d6" opacity="0.5"/>
<circle cx="509.3" cy="269.5" r="0.5" fill="#9aa6d6" opacity="0.5"/>
<circle cx="501.2" cy="277.2" r="0.5" fill="#9aa6d6" opacity="0.5"/>
<circle cx="490.1" cy="271.4" r="0.5" fill="#9aa6d6" opacity="0.5"/>
<circle cx="505.9" cy="267.4" r="0.5" fill="#9aa6d6" opacity="0.5"/>
<circle cx="504.9" cy="267.7" r="0.5" fill="#9aa6d6" opacity="0.5"/>
<circle cx="499.1" cy="271.1" r="0.5" fill="#9aa6d6" opacity="0.5"/>
<circle cx="503.8" cy="266.5" r="0.5" fill="#9aa6d6" opacity="0.5"/>
<circle cx="502.3" cy="270.0" r="0.5" fill="#9aa6d6" opacity="0.5"/>
<circle cx="489.8" cy="271.1" r="0.5" fill="#9aa6d6" opacity="0.5"/>
<circle cx="491.1" cy="275.8" r="0.5" fill="#9aa6d6" opacity="0.5"/>
<circle cx="497.5" cy="272.9" r="0.5" fill="#9aa6d6" opacity="0.5"/>
<circle cx="499.0" cy="269.0" r="0.5" fill="#9aa6d6" opacity="0.5"/>
<circle cx="489.7" cy="263.7" r="0.5" fill="#9aa6d6" opacity="0.5"/>
<circle cx="511.5" cy="269.8" r="0.5" fill="#9aa6d6" opacity="0.5"/>
<circle cx="499.1" cy="269.8" r="0.5" fill="#9aa6d6" opacity="0.5"/>
<circle cx="508.0" cy="265.2" r="0.5" fill="#9aa6d6" opacity="0.5"/>
<circle cx="488.2" cy="274.4" r="0.5" fill="#9aa6d6" opacity="0.5"/>
<ellipse cx="509.2" cy="242.1" rx="13.2" ry="4.4" transform="rotate(-56.4 509.2 242.1)" fill="#a8c0e0" opacity="0.6" filter="url(#bl1)"/>
<ellipse cx="509.2" cy="242.1" rx="12.2" ry="2.8" transform="rotate(-56.4 509.2 242.1)" fill="#78a878" opacity="0.85" filter="url(#bl05)"/>
<ellipse cx="509.2" cy="242.1" rx="9.7" ry="1.4" transform="rotate(-56.4 509.2 242.1)" fill="#98bc88" opacity="0.7" filter="url(#bl05)"/>
<rect x="460.9" y="260.5" width="17.0" height="17.2" fill="#c8dcf0" opacity="0.55" filter="url(#bl1)"/>
<circle cx="468.4" cy="271.2" r="9.4" fill="url(#gblob2)" filter="url(#bl05)"/>
</g>
<line x1="460.4" y1="259.7" x2="516.6" y2="259.7" stroke="#86828f" stroke-width="1.0"/>
<rect x="460.4" y="259.7" width="18.5" height="18.7" fill="none" stroke="#b48cbc" stroke-width="0.85"/>
<path d="M460.4 221.8 H516.6 V278.4" fill="none" stroke="#968a9c" stroke-width="1.3"/>
<path d="M460.4 221.8 V278.4 H516.6" fill="none" stroke="#2a2a2a" stroke-width="1.1"/>
<text x="462.0" y="226.3" font-size="4.0" fill="#857a90" textLength="7.2" lengthAdjust="spacingAndGlyphs">42.1</text>
<text x="480.1" y="275.8" font-size="4.6" fill="#a0509a" textLength="7.2" lengthAdjust="spacingAndGlyphs">16.1</text>
<text x="459.0" y="228.1" font-size="3.9" font-weight="bold" text-anchor="end" fill="#111" stroke="#111" stroke-width="0.12">10<tspan font-size="2.6" dy="-1.5">5</tspan></text>
<line x1="459.2" y1="226.8" x2="460.4" y2="226.8" stroke="#222" stroke-width="0.7"/>
<text x="459.0" y="240.5" font-size="3.9" font-weight="bold" text-anchor="end" fill="#111" stroke="#111" stroke-width="0.12">10<tspan font-size="2.6" dy="-1.5">4</tspan></text>
<line x1="459.2" y1="239.2" x2="460.4" y2="239.2" stroke="#222" stroke-width="0.7"/>
<text x="459.0" y="254.0" font-size="3.9" font-weight="bold" text-anchor="end" fill="#111" stroke="#111" stroke-width="0.12">10<tspan font-size="2.6" dy="-1.5">3</tspan></text>
<line x1="459.2" y1="252.7" x2="460.4" y2="252.7" stroke="#222" stroke-width="0.7"/>
<text x="459.0" y="267.4" font-size="3.9" font-weight="bold" text-anchor="end" fill="#111" stroke="#111" stroke-width="0.12">10<tspan font-size="2.6" dy="-1.5">2</tspan></text>
<line x1="459.2" y1="266.1" x2="460.4" y2="266.1" stroke="#222" stroke-width="0.7"/>
<text x="459.0" y="273.5" font-size="3.9" font-weight="bold" text-anchor="end" fill="#111" stroke="#111" stroke-width="0.12">0</text>
<line x1="459.2" y1="272.2" x2="460.4" y2="272.2" stroke="#222" stroke-width="0.7"/>
<text x="466.8" y="284.3" font-size="3.9" font-weight="bold" text-anchor="middle" fill="#111" stroke="#111" stroke-width="0.12">0</text>
<line x1="466.8" y1="278.4" x2="466.8" y2="279.6" stroke="#222" stroke-width="0.7"/>
<text x="471.6" y="284.3" font-size="3.9" font-weight="bold" text-anchor="middle" fill="#111" stroke="#111" stroke-width="0.12">10<tspan font-size="2.6" dy="-1.5">2</tspan></text>
<line x1="471.6" y1="278.4" x2="471.6" y2="279.6" stroke="#222" stroke-width="0.7"/>
<text x="486.3" y="284.3" font-size="3.9" font-weight="bold" text-anchor="middle" fill="#111" stroke="#111" stroke-width="0.12">10<tspan font-size="2.6" dy="-1.5">3</tspan></text>
<line x1="486.3" y1="278.4" x2="486.3" y2="279.6" stroke="#222" stroke-width="0.7"/>
<text x="499.2" y="284.3" font-size="3.9" font-weight="bold" text-anchor="middle" fill="#111" stroke="#111" stroke-width="0.12">10<tspan font-size="2.6" dy="-1.5">4</tspan></text>
<line x1="499.2" y1="278.4" x2="499.2" y2="279.6" stroke="#222" stroke-width="0.7"/>
<text x="511.5" y="284.3" font-size="3.9" font-weight="bold" text-anchor="middle" fill="#111" stroke="#111" stroke-width="0.12">10<tspan font-size="2.6" dy="-1.5">5</tspan></text>
<line x1="511.5" y1="278.4" x2="511.5" y2="279.6" stroke="#222" stroke-width="0.7"/>
<text x="488.5" y="288.2" font-size="3.6" font-weight="bold" text-anchor="middle" fill="#222" textLength="29.2" lengthAdjust="spacingAndGlyphs">&lt;PE-Cy7-A&gt;: Gr-1</text>
<text transform="translate(451.8,249.5) rotate(-90)" font-size="3.6" font-weight="bold" text-anchor="middle" fill="#222" textLength="32.8" lengthAdjust="spacingAndGlyphs">&lt;APC-Cy7-A&gt;: Mac-1</text>
<clipPath id="c4"><rect x="272.6" y="330.2" width="58.3" height="57.6"/></clipPath>
<g clip-path="url(#c4)">
<path d="M275.6 385.8 L306.4 347.5 L314.6 347.5 L314.6 385.8 Z" fill="#c3c8ea" opacity="0.22" filter="url(#bl3)"/>
<circle cx="294.9" cy="378.1" r="0.5" fill="#8a98d0" opacity="0.38"/>
<circle cx="310.3" cy="384.3" r="0.5" fill="#8a98d0" opacity="0.38"/>
<circle cx="312.0" cy="355.9" r="0.5" fill="#8a98d0" opacity="0.38"/>
<circle cx="291.6" cy="382.9" r="0.5" fill="#8a98d0" opacity="0.38"/>
<circle cx="309.9" cy="360.7" r="0.5" fill="#8a98d0" opacity="0.38"/>
<circle cx="282.1" cy="366.2" r="0.5" fill="#8a98d0" opacity="0.38"/>
<circle cx="279.9" cy="369.9" r="0.5" fill="#8a98d0" opacity="0.38"/>
<circle cx="309.3" cy="374.9" r="0.5" fill="#8a98d0" opacity="0.38"/>
<circle cx="294.6" cy="358.8" r="0.5" fill="#8a98d0" opacity="0.38"/>
<circle cx="292.2" cy="386.6" r="0.5" fill="#8a98d0" opacity="0.38"/>
<circle cx="304.8" cy="372.8" r="0.5" fill="#8a98d0" opacity="0.38"/>
<circle cx="295.7" cy="382.1" r="0.5" fill="#8a98d0" opacity="0.38"/>
<circle cx="307.5" cy="362.0" r="0.5" fill="#8a98d0" opacity="0.38"/>
<circle cx="304.2" cy="370.2" r="0.5" fill="#8a98d0" opacity="0.38"/>
<circle cx="297.5" cy="365.7" r="0.5" fill="#8a98d0" opacity="0.38"/>
<circle cx="291.2" cy="369.4" r="0.5" fill="#8a98d0" opacity="0.38"/>
<circle cx="291.6" cy="353.6" r="0.5" fill="#8a98d0" opacity="0.38"/>
<circle cx="284.0" cy="376.3" r="0.5" fill="#8a98d0" opacity="0.38"/>
<circle cx="278.0" cy="363.3" r="0.5" fill="#8a98d0" opacity="0.38"/>
<circle cx="305.7" cy="367.1" r="0.5" fill="#8a98d0" opacity="0.38"/>
<circle cx="289.2" cy="365.8" r="0.5" fill="#8a98d0" opacity="0.38"/>
<circle cx="310.6" cy="359.0" r="0.5" fill="#8a98d0" opacity="0.38"/>
<circle cx="302.3" cy="383.5" r="0.5" fill="#8a98d0" opacity="0.38"/>
<circle cx="284.1" cy="372.0" r="0.5" fill="#8a98d0" opacity="0.38"/>
<circle cx="308.9" cy="377.5" r="0.5" fill="#8a98d0" opacity="0.38"/>
<circle cx="291.2" cy="355.9" r="0.5" fill="#8a98d0" opacity="0.38"/>
<circle cx="294.2" cy="370.3" r="0.5" fill="#8a98d0" opacity="0.38"/>
<circle cx="305.5" cy="367.8" r="0.5" fill="#8a98d0" opacity="0.38"/>
<circle cx="292.7" cy="378.3" r="0.5" fill="#8a98d0" opacity="0.38"/>
<circle cx="309.6" cy="369.8" r="0.5" fill="#8a98d0" opacity="0.38"/>
<circle cx="291.8" cy="376.5" r="0.5" fill="#8a98d0" opacity="0.38"/>
<circle cx="314.4" cy="363.8" r="0.5" fill="#8a98d0" opacity="0.38"/>
<circle cx="316.4" cy="380.0" r="0.5" fill="#8a98d0" opacity="0.38"/>
<circle cx="291.2" cy="378.8" r="0.5" fill="#8a98d0" opacity="0.38"/>
<circle cx="289.4" cy="357.8" r="0.5" fill="#8a98d0" opacity="0.38"/>
<circle cx="307.3" cy="370.6" r="0.5" fill="#8a98d0" opacity="0.38"/>
<circle cx="297.7" cy="374.2" r="0.5" fill="#8a98d0" opacity="0.38"/>
<circle cx="313.4" cy="381.1" r="0.5" fill="#8a98d0" opacity="0.38"/>
<circle cx="276.7" cy="376.9" r="0.5" fill="#8a98d0" opacity="0.38"/>
<circle cx="295.0" cy="373.2" r="0.5" fill="#8a98d0" opacity="0.38"/>
<circle cx="310.8" cy="371.8" r="0.5" fill="#8a98d0" opacity="0.38"/>
<circle cx="295.5" cy="384.2" r="0.5" fill="#8a98d0" opacity="0.38"/>
<circle cx="294.1" cy="374.0" r="0.5" fill="#8a98d0" opacity="0.38"/>
<circle cx="297.1" cy="382.7" r="0.5" fill="#8a98d0" opacity="0.38"/>
<circle cx="303.7" cy="380.7" r="0.5" fill="#8a98d0" opacity="0.38"/>
<circle cx="292.5" cy="355.7" r="0.5" fill="#8a98d0" opacity="0.38"/>
<circle cx="304.1" cy="375.8" r="0.5" fill="#8a98d0" opacity="0.38"/>
<circle cx="307.9" cy="381.4" r="0.5" fill="#8a98d0" opacity="0.38"/>
<circle cx="280.6" cy="365.0" r="0.5" fill="#8a98d0" opacity="0.38"/>
<circle cx="278.8" cy="382.5" r="0.5" fill="#8a98d0" opacity="0.38"/>
<circle cx="279.9" cy="358.8" r="0.5" fill="#8a98d0" opacity="0.38"/>
<circle cx="307.2" cy="376.1" r="0.5" fill="#8a98d0" opacity="0.38"/>
<circle cx="277.9" cy="379.2" r="0.5" fill="#8a98d0" opacity="0.38"/>
<circle cx="305.4" cy="373.8" r="0.5" fill="#8a98d0" opacity="0.38"/>
<circle cx="277.9" cy="379.4" r="0.5" fill="#8a98d0" opacity="0.38"/>
<circle cx="293.1" cy="376.6" r="0.5" fill="#8a98d0" opacity="0.38"/>
<circle cx="317.5" cy="382.5" r="0.5" fill="#8a98d0" opacity="0.38"/>
<circle cx="312.2" cy="361.8" r="0.5" fill="#8a98d0" opacity="0.38"/>
<circle cx="289.6" cy="374.8" r="0.5" fill="#8a98d0" opacity="0.38"/>
<circle cx="275.9" cy="386.4" r="0.5" fill="#8a98d0" opacity="0.38"/>
<circle cx="287.1" cy="366.6" r="0.5" fill="#8a98d0" opacity="0.38"/>
<circle cx="288.7" cy="366.3" r="0.5" fill="#8a98d0" opacity="0.38"/>
<circle cx="311.7" cy="375.9" r="0.5" fill="#8a98d0" opacity="0.38"/>
<circle cx="297.0" cy="371.9" r="0.5" fill="#8a98d0" opacity="0.38"/>
<circle cx="277.7" cy="368.1" r="0.5" fill="#8a98d0" opacity="0.38"/>
<circle cx="312.0" cy="382.1" r="0.5" fill="#8a98d0" opacity="0.38"/>
<circle cx="311.6" cy="366.4" r="0.5" fill="#8a98d0" opacity="0.38"/>
<circle cx="284.1" cy="356.5" r="0.5" fill="#8a98d0" opacity="0.38"/>
<circle cx="298.1" cy="370.5" r="0.5" fill="#8a98d0" opacity="0.38"/>
<circle cx="295.1" cy="374.0" r="0.5" fill="#8a98d0" opacity="0.38"/>
<circle cx="282.1" cy="365.6" r="0.5" fill="#7d8cc8" opacity="0.42"/>
<circle cx="283.0" cy="383.6" r="0.5" fill="#7d8cc8" opacity="0.42"/>
<circle cx="287.2" cy="385.6" r="0.5" fill="#7d8cc8" opacity="0.42"/>
<circle cx="282.7" cy="381.3" r="0.5" fill="#7d8cc8" opacity="0.42"/>
<circle cx="281.7" cy="374.2" r="0.5" fill="#7d8cc8" opacity="0.42"/>
<circle cx="283.7" cy="381.1" r="0.5" fill="#7d8cc8" opacity="0.42"/>
<circle cx="283.6" cy="381.8" r="0.5" fill="#7d8cc8" opacity="0.42"/>
<circle cx="288.8" cy="369.1" r="0.5" fill="#7d8cc8" opacity="0.42"/>
<circle cx="285.4" cy="377.6" r="0.5" fill="#7d8cc8" opacity="0.42"/>
<circle cx="281.0" cy="359.9" r="0.5" fill="#7d8cc8" opacity="0.42"/>
<circle cx="279.2" cy="385.5" r="0.5" fill="#7d8cc8" opacity="0.42"/>
<circle cx="286.1" cy="378.2" r="0.5" fill="#7d8cc8" opacity="0.42"/>
<circle cx="283.7" cy="363.1" r="0.5" fill="#7d8cc8" opacity="0.42"/>
<circle cx="283.6" cy="385.4" r="0.5" fill="#7d8cc8" opacity="0.42"/>
<circle cx="282.9" cy="360.5" r="0.5" fill="#7d8cc8" opacity="0.42"/>
<circle cx="283.3" cy="374.4" r="0.5" fill="#7d8cc8" opacity="0.42"/>
<circle cx="285.2" cy="370.5" r="0.5" fill="#7d8cc8" opacity="0.42"/>
<circle cx="281.4" cy="370.4" r="0.5" fill="#7d8cc8" opacity="0.42"/>
<circle cx="283.8" cy="364.1" r="0.5" fill="#7d8cc8" opacity="0.42"/>
<circle cx="286.0" cy="384.5" r="0.5" fill="#7d8cc8" opacity="0.42"/>
<circle cx="285.8" cy="385.1" r="0.5" fill="#7d8cc8" opacity="0.42"/>
<circle cx="283.4" cy="385.1" r="0.5" fill="#7d8cc8" opacity="0.42"/>
<circle cx="285.6" cy="378.8" r="0.5" fill="#7d8cc8" opacity="0.42"/>
<circle cx="278.0" cy="371.0" r="0.5" fill="#7d8cc8" opacity="0.42"/>
<circle cx="284.0" cy="370.0" r="0.5" fill="#7d8cc8" opacity="0.42"/>
<circle cx="289.9" cy="384.3" r="0.5" fill="#7d8cc8" opacity="0.42"/>
<circle cx="288.0" cy="385.6" r="0.5" fill="#7d8cc8" opacity="0.42"/>
<circle cx="285.7" cy="364.2" r="0.5" fill="#7d8cc8" opacity="0.42"/>
<circle cx="283.7" cy="373.7" r="0.5" fill="#7d8cc8" opacity="0.42"/>
<circle cx="286.1" cy="381.2" r="0.5" fill="#7d8cc8" opacity="0.42"/>
<circle cx="282.9" cy="361.0" r="0.5" fill="#7d8cc8" opacity="0.42"/>
<circle cx="283.7" cy="381.0" r="0.5" fill="#7d8cc8" opacity="0.42"/>
<circle cx="285.1" cy="365.7" r="0.5" fill="#7d8cc8" opacity="0.42"/>
<circle cx="283.0" cy="357.9" r="0.5" fill="#7d8cc8" opacity="0.42"/>
<circle cx="283.7" cy="379.7" r="0.5" fill="#7d8cc8" opacity="0.42"/>
<circle cx="284.7" cy="371.7" r="0.5" fill="#7d8cc8" opacity="0.42"/>
<circle cx="284.8" cy="385.1" r="0.5" fill="#7d8cc8" opacity="0.42"/>
<circle cx="287.5" cy="377.4" r="0.5" fill="#7d8cc8" opacity="0.42"/>
<circle cx="283.9" cy="370.3" r="0.5" fill="#7d8cc8" opacity="0.42"/>
<circle cx="281.5" cy="384.9" r="0.5" fill="#7d8cc8" opacity="0.42"/>
<circle cx="284.9" cy="360.5" r="0.5" fill="#7d8cc8" opacity="0.42"/>
<circle cx="283.1" cy="357.2" r="0.5" fill="#7d8cc8" opacity="0.42"/>
<circle cx="287.2" cy="381.8" r="0.5" fill="#7d8cc8" opacity="0.42"/>
<circle cx="283.1" cy="380.5" r="0.5" fill="#7d8cc8" opacity="0.42"/>
<circle cx="284.3" cy="360.2" r="0.5" fill="#7d8cc8" opacity="0.42"/>
<circle cx="306.6" cy="344.8" r="0.5" fill="#6d7ec0" opacity="0.48"/>
<circle cx="304.8" cy="365.0" r="0.5" fill="#6d7ec0" opacity="0.48"/>
<circle cx="309.8" cy="362.3" r="0.5" fill="#6d7ec0" opacity="0.48"/>
<circle cx="310.4" cy="350.8" r="0.5" fill="#6d7ec0" opacity="0.48"/>
<circle cx="310.0" cy="380.2" r="0.5" fill="#6d7ec0" opacity="0.48"/>
<circle cx="310.3" cy="381.9" r="0.5" fill="#6d7ec0" opacity="0.48"/>
<circle cx="308.0" cy="343.4" r="0.5" fill="#6d7ec0" opacity="0.48"/>
<circle cx="304.4" cy="353.7" r="0.5" fill="#6d7ec0" opacity="0.48"/>
<circle cx="305.8" cy="383.0" r="0.5" fill="#6d7ec0" opacity="0.48"/>
<circle cx="308.9" cy="353.2" r="0.5" fill="#6d7ec0" opacity="0.48"/>
<circle cx="308.7" cy="358.2" r="0.5" fill="#6d7ec0" opacity="0.48"/>
<circle cx="309.4" cy="347.5" r="0.5" fill="#6d7ec0" opacity="0.48"/>
<circle cx="313.1" cy="374.6" r="0.5" fill="#6d7ec0" opacity="0.48"/>
<circle cx="309.1" cy="363.2" r="0.5" fill="#6d7ec0" opacity="0.48"/>
<circle cx="310.2" cy="344.9" r="0.5" fill="#6d7ec0" opacity="0.48"/>
<circle cx="305.5" cy="364.9" r="0.5" fill="#6d7ec0" opacity="0.48"/>
<circle cx="308.0" cy="358.7" r="0.5" fill="#6d7ec0" opacity="0.48"/>
<circle cx="312.0" cy="345.0" r="0.5" fill="#6d7ec0" opacity="0.48"/>
<circle cx="309.9" cy="367.4" r="0.5" fill="#6d7ec0" opacity="0.48"/>
<circle cx="311.4" cy="354.0" r="0.5" fill="#6d7ec0" opacity="0.48"/>
<circle cx="311.6" cy="354.9" r="0.5" fill="#6d7ec0" opacity="0.48"/>
<circle cx="308.6" cy="347.2" r="0.5" fill="#6d7ec0" opacity="0.48"/>
<circle cx="308.2" cy="382.8" r="0.5" fill="#6d7ec0" opacity="0.48"/>
<circle cx="307.2" cy="379.1" r="0.5" fill="#6d7ec0" opacity="0.48"/>
<circle cx="313.2" cy="359.5" r="0.5" fill="#6d7ec0" opacity="0.48"/>
<circle cx="309.9" cy="379.4" r="0.5" fill="#6d7ec0" opacity="0.48"/>
<circle cx="310.2" cy="345.5" r="0.5" fill="#6d7ec0" opacity="0.48"/>
<circle cx="306.5" cy="345.5" r="0.5" fill="#6d7ec0" opacity="0.48"/>
<circle cx="309.4" cy="359.0" r="0.5" fill="#6d7ec0" opacity="0.48"/>
<circle cx="310.8" cy="360.7" r="0.5" fill="#6d7ec0" opacity="0.48"/>
<circle cx="311.8" cy="354.6" r="0.5" fill="#6d7ec0" opacity="0.48"/>
<circle cx="310.1" cy="348.3" r="0.5" fill="#6d7ec0" opacity="0.48"/>
<circle cx="311.5" cy="345.8" r="0.5" fill="#6d7ec0" opacity="0.48"/>
<circle cx="309.6" cy="360.5" r="0.5" fill="#6d7ec0" opacity="0.48"/>
<circle cx="314.0" cy="380.0" r="0.5" fill="#6d7ec0" opacity="0.48"/>
<circle cx="314.8" cy="359.9" r="0.5" fill="#6d7ec0" opacity="0.48"/>
<circle cx="309.9" cy="374.7" r="0.5" fill="#6d7ec0" opacity="0.48"/>
<circle cx="306.2" cy="349.2" r="0.5" fill="#6d7ec0" opacity="0.48"/>
<circle cx="307.8" cy="372.6" r="0.5" fill="#6d7ec0" opacity="0.48"/>
<circle cx="310.4" cy="343.3" r="0.5" fill="#6d7ec0" opacity="0.48"/>
<circle cx="310.8" cy="355.7" r="0.5" fill="#6d7ec0" opacity="0.48"/>
<circle cx="307.4" cy="380.0" r="0.5" fill="#6d7ec0" opacity="0.48"/>
<circle cx="309.1" cy="344.6" r="0.5" fill="#6d7ec0" opacity="0.48"/>
<circle cx="307.9" cy="364.9" r="0.5" fill="#6d7ec0" opacity="0.48"/>
<circle cx="308.5" cy="374.4" r="0.5" fill="#6d7ec0" opacity="0.48"/>
<ellipse cx="284.3" cy="380.8" rx="4" ry="4" fill="#c0c8ea" opacity="0.45" filter="url(#bl1)"/>
<ellipse cx="317.0" cy="335.6" rx="4.5" ry="2.6" transform="rotate(-45 317.0 335.6)" fill="#b0c4e4" opacity="0.7" filter="url(#bl05)"/>
<ellipse cx="315.2" cy="337.2" rx="6.6" ry="3.0" transform="rotate(-46 315.2 337.2)" fill="url(#gyel)" filter="url(#bl05)"/>
</g>
<ellipse cx="314.8" cy="337.6" rx="10.7" ry="4.6" transform="rotate(-40 314.8 337.6)" fill="none" stroke="#84889c" stroke-width="0.9"/>
<ellipse cx="323.0" cy="353.0" rx="4.8" ry="9.4" fill="none" stroke="#94708e" stroke-width="0.75"/>
<path d="M272.6 330.2 H330.9 V387.8" fill="none" stroke="#777" stroke-width="1.0"/>
<path d="M272.6 330.2 V387.8 H330.9" fill="none" stroke="#2a2a2a" stroke-width="1.1"/>
<text x="295.9" y="339.8" font-size="4.6" fill="#8a6290" textLength="7.8" lengthAdjust="spacingAndGlyphs">87.1</text>
<text x="319.3" y="367.8" font-size="4.6" fill="#8a6290" textLength="6.6" lengthAdjust="spacingAndGlyphs">5.50</text>
<text x="271.2" y="336.6" font-size="3.9" font-weight="bold" text-anchor="end" fill="#111" stroke="#111" stroke-width="0.12">10<tspan font-size="2.6" dy="-1.5">5</tspan></text>
<line x1="271.4" y1="335.3" x2="272.6" y2="335.3" stroke="#222" stroke-width="0.7"/>
<text x="271.2" y="349.2" font-size="3.9" font-weight="bold" text-anchor="end" fill="#111" stroke="#111" stroke-width="0.12">10<tspan font-size="2.6" dy="-1.5">4</tspan></text>
<line x1="271.4" y1="347.9" x2="272.6" y2="347.9" stroke="#222" stroke-width="0.7"/>
<text x="271.2" y="362.9" font-size="3.9" font-weight="bold" text-anchor="end" fill="#111" stroke="#111" stroke-width="0.12">10<tspan font-size="2.6" dy="-1.5">3</tspan></text>
<line x1="271.4" y1="361.6" x2="272.6" y2="361.6" stroke="#222" stroke-width="0.7"/>
<text x="271.2" y="376.6" font-size="3.9" font-weight="bold" text-anchor="end" fill="#111" stroke="#111" stroke-width="0.12">10<tspan font-size="2.6" dy="-1.5">2</tspan></text>
<line x1="271.4" y1="375.3" x2="272.6" y2="375.3" stroke="#222" stroke-width="0.7"/>
<text x="271.2" y="382.8" font-size="3.9" font-weight="bold" text-anchor="end" fill="#111" stroke="#111" stroke-width="0.12">0</text>
<line x1="271.4" y1="381.5" x2="272.6" y2="381.5" stroke="#222" stroke-width="0.7"/>
<text x="279.2" y="393.7" font-size="3.9" font-weight="bold" text-anchor="middle" fill="#111" stroke="#111" stroke-width="0.12">0</text>
<line x1="279.2" y1="387.8" x2="279.2" y2="389.0" stroke="#222" stroke-width="0.7"/>
<text x="284.3" y="393.7" font-size="3.9" font-weight="bold" text-anchor="middle" fill="#111" stroke="#111" stroke-width="0.12">10<tspan font-size="2.6" dy="-1.5">2</tspan></text>
<line x1="284.3" y1="387.8" x2="284.3" y2="389.0" stroke="#222" stroke-width="0.7"/>
<text x="299.4" y="393.7" font-size="3.9" font-weight="bold" text-anchor="middle" fill="#111" stroke="#111" stroke-width="0.12">10<tspan font-size="2.6" dy="-1.5">3</tspan></text>
<line x1="299.4" y1="387.8" x2="299.4" y2="389.0" stroke="#222" stroke-width="0.7"/>
<text x="312.8" y="393.7" font-size="3.9" font-weight="bold" text-anchor="middle" fill="#111" stroke="#111" stroke-width="0.12">10<tspan font-size="2.6" dy="-1.5">4</tspan></text>
<line x1="312.8" y1="387.8" x2="312.8" y2="389.0" stroke="#222" stroke-width="0.7"/>
<text x="325.7" y="393.7" font-size="3.9" font-weight="bold" text-anchor="middle" fill="#111" stroke="#111" stroke-width="0.12">10<tspan font-size="2.6" dy="-1.5">5</tspan></text>
<line x1="325.7" y1="387.8" x2="325.7" y2="389.0" stroke="#222" stroke-width="0.7"/>
<text x="301.8" y="397.6" font-size="3.6" font-weight="bold" text-anchor="middle" fill="#222" textLength="30.3" lengthAdjust="spacingAndGlyphs">&lt;FITC-A&gt;: Ly6C</text>
<text transform="translate(264.0,358.4) rotate(-90)" font-size="3.6" font-weight="bold" text-anchor="middle" fill="#222" textLength="33.4" lengthAdjust="spacingAndGlyphs">&lt;PE-Cy7-A&gt;: Gr-1</text>
<clipPath id="c5"><rect x="367.1" y="331.6" width="56.6" height="56.6"/></clipPath>
<g clip-path="url(#c5)">
<path d="M370.1 386.2 L399.9 348.6 L407.9 348.6 L407.9 386.2 Z" fill="#c3c8ea" opacity="0.38" filter="url(#bl3)"/>
<circle cx="399.1" cy="358.1" r="0.5" fill="#8a98d0" opacity="0.38"/>
<circle cx="380.1" cy="377.6" r="0.5" fill="#8a98d0" opacity="0.38"/>
<circle cx="410.2" cy="356.7" r="0.5" fill="#8a98d0" opacity="0.38"/>
<circle cx="395.3" cy="380.0" r="0.5" fill="#8a98d0" opacity="0.38"/>
<circle cx="403.3" cy="370.1" r="0.5" fill="#8a98d0" opacity="0.38"/>
<circle cx="403.1" cy="373.8" r="0.5" fill="#8a98d0" opacity="0.38"/>
<circle cx="407.6" cy="353.8" r="0.5" fill="#8a98d0" opacity="0.38"/>
<circle cx="408.4" cy="372.4" r="0.5" fill="#8a98d0" opacity="0.38"/>
<circle cx="386.7" cy="359.7" r="0.5" fill="#8a98d0" opacity="0.38"/>
<circle cx="380.1" cy="381.0" r="0.5" fill="#8a98d0" opacity="0.38"/>
<circle cx="397.8" cy="362.9" r="0.5" fill="#8a98d0" opacity="0.38"/>
<circle cx="384.1" cy="362.4" r="0.5" fill="#8a98d0" opacity="0.38"/>
<circle cx="378.2" cy="365.8" r="0.5" fill="#8a98d0" opacity="0.38"/>
<circle cx="383.6" cy="386.6" r="0.5" fill="#8a98d0" opacity="0.38"/>
<circle cx="410.7" cy="382.4" r="0.5" fill="#8a98d0" opacity="0.38"/>
<circle cx="389.6" cy="374.9" r="0.5" fill="#8a98d0" opacity="0.38"/>
<circle cx="401.9" cy="385.1" r="0.5" fill="#8a98d0" opacity="0.38"/>
<circle cx="400.7" cy="378.6" r="0.5" fill="#8a98d0" opacity="0.38"/>
<circle cx="378.2" cy="378.3" r="0.5" fill="#8a98d0" opacity="0.38"/>
<circle cx="404.6" cy="382.3" r="0.5" fill="#8a98d0" opacity="0.38"/>
<circle cx="373.9" cy="380.6" r="0.5" fill="#8a98d0" opacity="0.38"/>
<circle cx="384.3" cy="363.4" r="0.5" fill="#8a98d0" opacity="0.38"/>
<circle cx="409.5" cy="379.5" r="0.5" fill="#8a98d0" opacity="0.38"/>
<circle cx="400.5" cy="362.1" r="0.5" fill="#8a98d0" opacity="0.38"/>
<circle cx="403.9" cy="385.7" r="0.5" fill="#8a98d0" opacity="0.38"/>
<circle cx="407.0" cy="381.3" r="0.5" fill="#8a98d0" opacity="0.38"/>
<circle cx="404.0" cy="382.7" r="0.5" fill="#8a98d0" opacity="0.38"/>
<circle cx="394.2" cy="373.1" r="0.5" fill="#8a98d0" opacity="0.38"/>
<circle cx="403.7" cy="382.2" r="0.5" fill="#8a98d0" opacity="0.38"/>
<circle cx="405.6" cy="368.7" r="0.5" fill="#8a98d0" opacity="0.38"/>
<circle cx="409.3" cy="375.8" r="0.5" fill="#8a98d0" opacity="0.38"/>
<circle cx="408.6" cy="361.2" r="0.5" fill="#8a98d0" opacity="0.38"/>
<circle cx="409.6" cy="382.3" r="0.5" fill="#8a98d0" opacity="0.38"/>
<circle cx="380.4" cy="383.5" r="0.5" fill="#8a98d0" opacity="0.38"/>
<circle cx="379.6" cy="364.9" r="0.5" fill="#8a98d0" opacity="0.38"/>
<circle cx="388.8" cy="366.4" r="0.5" fill="#8a98d0" opacity="0.38"/>
<circle cx="390.2" cy="385.1" r="0.5" fill="#8a98d0" opacity="0.38"/>
<circle cx="398.0" cy="380.5" r="0.5" fill="#8a98d0" opacity="0.38"/>
<circle cx="386.1" cy="382.2" r="0.5" fill="#8a98d0" opacity="0.38"/>
<circle cx="402.4" cy="379.8" r="0.5" fill="#8a98d0" opacity="0.38"/>
<circle cx="408.5" cy="383.2" r="0.5" fill="#8a98d0" opacity="0.38"/>
<circle cx="386.7" cy="359.7" r="0.5" fill="#8a98d0" opacity="0.38"/>
<circle cx="396.7" cy="383.4" r="0.5" fill="#8a98d0" opacity="0.38"/>
<circle cx="383.9" cy="377.5" r="0.5" fill="#8a98d0" opacity="0.38"/>
<circle cx="404.2" cy="382.4" r="0.5" fill="#8a98d0" opacity="0.38"/>
<circle cx="370.3" cy="374.6" r="0.5" fill="#8a98d0" opacity="0.38"/>
<circle cx="370.8" cy="360.9" r="0.5" fill="#8a98d0" opacity="0.38"/>
<circle cx="403.2" cy="372.6" r="0.5" fill="#8a98d0" opacity="0.38"/>
<circle cx="394.7" cy="373.7" r="0.5" fill="#8a98d0" opacity="0.38"/>
<circle cx="383.8" cy="365.5" r="0.5" fill="#8a98d0" opacity="0.38"/>
<circle cx="384.5" cy="383.6" r="0.5" fill="#8a98d0" opacity="0.38"/>
<circle cx="395.3" cy="368.5" r="0.5" fill="#8a98d0" opacity="0.38"/>
<circle cx="373.7" cy="367.7" r="0.5" fill="#8a98d0" opacity="0.38"/>
<circle cx="398.7" cy="373.3" r="0.5" fill="#8a98d0" opacity="0.38"/>
<circle cx="397.0" cy="382.8" r="0.5" fill="#8a98d0" opacity="0.38"/>
<circle cx="375.0" cy="379.8" r="0.5" fill="#8a98d0" opacity="0.38"/>
<circle cx="371.8" cy="383.1" r="0.5" fill="#8a98d0" opacity="0.38"/>
<circle cx="377.6" cy="367.7" r="0.5" fill="#8a98d0" opacity="0.38"/>
<circle cx="409.1" cy="370.8" r="0.5" fill="#8a98d0" opacity="0.38"/>
<circle cx="379.2" cy="384.7" r="0.5" fill="#8a98d0" opacity="0.38"/>
<circle cx="395.0" cy="384.7" r="0.5" fill="#8a98d0" opacity="0.38"/>
<circle cx="386.2" cy="374.9" r="0.5" fill="#8a98d0" opacity="0.38"/>
<circle cx="409.1" cy="375.1" r="0.5" fill="#8a98d0" opacity="0.38"/>
<circle cx="410.4" cy="364.6" r="0.5" fill="#8a98d0" opacity="0.38"/>
<circle cx="403.9" cy="363.4" r="0.5" fill="#8a98d0" opacity="0.38"/>
<circle cx="391.6" cy="351.7" r="0.5" fill="#8a98d0" opacity="0.38"/>
<circle cx="377.2" cy="385.9" r="0.5" fill="#8a98d0" opacity="0.38"/>
<circle cx="388.6" cy="382.8" r="0.5" fill="#8a98d0" opacity="0.38"/>
<circle cx="380.3" cy="370.5" r="0.5" fill="#8a98d0" opacity="0.38"/>
<circle cx="374.2" cy="376.4" r="0.5" fill="#8a98d0" opacity="0.38"/>
<circle cx="405.2" cy="375.3" r="0.5" fill="#8a98d0" opacity="0.38"/>
<circle cx="385.5" cy="385.5" r="0.5" fill="#8a98d0" opacity="0.38"/>
<circle cx="406.5" cy="379.4" r="0.5" fill="#8a98d0" opacity="0.38"/>
<circle cx="373.2" cy="378.3" r="0.5" fill="#8a98d0" opacity="0.38"/>
<circle cx="388.2" cy="386.2" r="0.5" fill="#8a98d0" opacity="0.38"/>
<circle cx="384.8" cy="379.2" r="0.5" fill="#8a98d0" opacity="0.38"/>
<circle cx="395.9" cy="371.2" r="0.5" fill="#8a98d0" opacity="0.38"/>
<circle cx="391.4" cy="379.6" r="0.5" fill="#8a98d0" opacity="0.38"/>
<circle cx="407.1" cy="374.9" r="0.5" fill="#8a98d0" opacity="0.38"/>
<circle cx="384.9" cy="386.6" r="0.5" fill="#8a98d0" opacity="0.38"/>
<circle cx="372.4" cy="383.4" r="0.5" fill="#8a98d0" opacity="0.38"/>
<circle cx="398.0" cy="376.5" r="0.5" fill="#8a98d0" opacity="0.38"/>
<circle cx="388.3" cy="381.4" r="0.5" fill="#8a98d0" opacity="0.38"/>
<circle cx="406.4" cy="380.9" r="0.5" fill="#8a98d0" opacity="0.38"/>
<circle cx="400.7" cy="356.2" r="0.5" fill="#8a98d0" opacity="0.38"/>
<circle cx="383.4" cy="362.2" r="0.5" fill="#8a98d0" opacity="0.38"/>
<circle cx="408.9" cy="384.7" r="0.5" fill="#8a98d0" opacity="0.38"/>
<circle cx="376.0" cy="377.3" r="0.5" fill="#8a98d0" opacity="0.38"/>
<circle cx="393.6" cy="357.1" r="0.5" fill="#8a98d0" opacity="0.38"/>
<circle cx="386.1" cy="381.4" r="0.5" fill="#8a98d0" opacity="0.38"/>
<circle cx="396.2" cy="368.1" r="0.5" fill="#8a98d0" opacity="0.38"/>
<circle cx="401.2" cy="368.4" r="0.5" fill="#8a98d0" opacity="0.38"/>
<circle cx="392.3" cy="372.6" r="0.5" fill="#8a98d0" opacity="0.38"/>
<circle cx="410.0" cy="378.9" r="0.5" fill="#8a98d0" opacity="0.38"/>
<circle cx="402.9" cy="379.6" r="0.5" fill="#8a98d0" opacity="0.38"/>
<circle cx="385.6" cy="386.3" r="0.5" fill="#8a98d0" opacity="0.38"/>
<circle cx="399.0" cy="380.0" r="0.5" fill="#8a98d0" opacity="0.38"/>
<circle cx="381.4" cy="363.4" r="0.5" fill="#8a98d0" opacity="0.38"/>
<circle cx="393.5" cy="383.2" r="0.5" fill="#8a98d0" opacity="0.38"/>
<circle cx="402.4" cy="370.3" r="0.5" fill="#8a98d0" opacity="0.38"/>
<circle cx="375.8" cy="375.4" r="0.5" fill="#8a98d0" opacity="0.38"/>
<circle cx="405.9" cy="363.4" r="0.5" fill="#8a98d0" opacity="0.38"/>
<circle cx="400.2" cy="363.8" r="0.5" fill="#8a98d0" opacity="0.38"/>
<circle cx="382.8" cy="357.6" r="0.5" fill="#8a98d0" opacity="0.38"/>
<circle cx="382.2" cy="371.5" r="0.5" fill="#8a98d0" opacity="0.38"/>
<circle cx="409.5" cy="386.3" r="0.5" fill="#8a98d0" opacity="0.38"/>
<circle cx="377.7" cy="369.0" r="0.5" fill="#8a98d0" opacity="0.38"/>
<circle cx="408.6" cy="364.9" r="0.5" fill="#8a98d0" opacity="0.38"/>
<circle cx="383.2" cy="373.1" r="0.5" fill="#8a98d0" opacity="0.38"/>
<circle cx="374.5" cy="367.3" r="0.5" fill="#8a98d0" opacity="0.38"/>
<circle cx="386.2" cy="371.5" r="0.5" fill="#8a98d0" opacity="0.38"/>
<circle cx="409.4" cy="367.6" r="0.5" fill="#8a98d0" opacity="0.38"/>
<circle cx="378.4" cy="385.1" r="0.5" fill="#8a98d0" opacity="0.38"/>
<circle cx="388.4" cy="383.5" r="0.5" fill="#8a98d0" opacity="0.38"/>
<circle cx="396.1" cy="382.1" r="0.5" fill="#8a98d0" opacity="0.38"/>
<circle cx="382.9" cy="362.9" r="0.5" fill="#8a98d0" opacity="0.38"/>
<circle cx="401.0" cy="374.1" r="0.5" fill="#8a98d0" opacity="0.38"/>
<circle cx="392.9" cy="379.5" r="0.5" fill="#8a98d0" opacity="0.38"/>
<circle cx="400.8" cy="367.9" r="0.5" fill="#8a98d0" opacity="0.38"/>
<circle cx="384.9" cy="385.3" r="0.5" fill="#8a98d0" opacity="0.38"/>
<circle cx="391.7" cy="368.3" r="0.5" fill="#8a98d0" opacity="0.38"/>
<circle cx="395.8" cy="367.3" r="0.5" fill="#8a98d0" opacity="0.38"/>
<circle cx="401.5" cy="356.7" r="0.5" fill="#8a98d0" opacity="0.38"/>
<circle cx="403.8" cy="376.8" r="0.5" fill="#8a98d0" opacity="0.38"/>
<circle cx="384.5" cy="385.8" r="0.5" fill="#8a98d0" opacity="0.38"/>
<circle cx="380.9" cy="366.7" r="0.5" fill="#8a98d0" opacity="0.38"/>
<circle cx="372.9" cy="376.3" r="0.5" fill="#8a98d0" opacity="0.38"/>
<circle cx="400.8" cy="379.7" r="0.5" fill="#8a98d0" opacity="0.38"/>
<circle cx="386.9" cy="382.8" r="0.5" fill="#8a98d0" opacity="0.38"/>
<circle cx="374.6" cy="369.0" r="0.5" fill="#8a98d0" opacity="0.38"/>
<circle cx="396.4" cy="386.4" r="0.5" fill="#8a98d0" opacity="0.38"/>
<circle cx="395.9" cy="380.0" r="0.5" fill="#8a98d0" opacity="0.38"/>
<circle cx="401.7" cy="371.8" r="0.5" fill="#8a98d0" opacity="0.38"/>
<circle cx="408.4" cy="381.2" r="0.5" fill="#8a98d0" opacity="0.38"/>
<circle cx="384.0" cy="371.8" r="0.5" fill="#8a98d0" opacity="0.38"/>
<circle cx="402.9" cy="370.4" r="0.5" fill="#8a98d0" opacity="0.38"/>
<circle cx="377.7" cy="384.2" r="0.5" fill="#8a98d0" opacity="0.38"/>
<circle cx="391.8" cy="375.5" r="0.5" fill="#8a98d0" opacity="0.38"/>
<circle cx="397.4" cy="384.9" r="0.5" fill="#8a98d0" opacity="0.38"/>
<circle cx="375.5" cy="370.0" r="0.5" fill="#8a98d0" opacity="0.38"/>
<circle cx="372.8" cy="372.4" r="0.5" fill="#8a98d0" opacity="0.38"/>
<circle cx="390.6" cy="383.8" r="0.5" fill="#8a98d0" opacity="0.38"/>
<circle cx="397.3" cy="377.1" r="0.5" fill="#8a98d0" opacity="0.38"/>
<circle cx="386.6" cy="377.0" r="0.5" fill="#8a98d0" opacity="0.38"/>
<circle cx="381.3" cy="383.6" r="0.5" fill="#8a98d0" opacity="0.38"/>
<circle cx="402.2" cy="383.5" r="0.5" fill="#8a98d0" opacity="0.38"/>
<circle cx="376.3" cy="379.5" r="0.5" fill="#8a98d0" opacity="0.38"/>
<circle cx="400.8" cy="375.0" r="0.5" fill="#8a98d0" opacity="0.38"/>
<circle cx="406.7" cy="384.9" r="0.5" fill="#8a98d0" opacity="0.38"/>
<circle cx="400.4" cy="383.1" r="0.5" fill="#8a98d0" opacity="0.38"/>
<circle cx="375.2" cy="385.1" r="0.5" fill="#7d8cc8" opacity="0.42"/>
<circle cx="374.1" cy="370.1" r="0.5" fill="#7d8cc8" opacity="0.42"/>
<circle cx="377.4" cy="382.6" r="0.5" fill="#7d8cc8" opacity="0.42"/>
<circle cx="375.0" cy="385.8" r="0.5" fill="#7d8cc8" opacity="0.42"/>
<circle cx="374.6" cy="382.7" r="0.5" fill="#7d8cc8" opacity="0.42"/>
<circle cx="375.5" cy="383.8" r="0.5" fill="#7d8cc8" opacity="0.42"/>
<circle cx="378.6" cy="371.1" r="0.5" fill="#7d8cc8" opacity="0.42"/>
<circle cx="379.6" cy="359.0" r="0.5" fill="#7d8cc8" opacity="0.42"/>
<circle cx="379.2" cy="370.2" r="0.5" fill="#7d8cc8" opacity="0.42"/>
<circle cx="376.1" cy="385.8" r="0.5" fill="#7d8cc8" opacity="0.42"/>
<circle cx="379.6" cy="386.2" r="0.5" fill="#7d8cc8" opacity="0.42"/>
<circle cx="376.5" cy="372.7" r="0.5" fill="#7d8cc8" opacity="0.42"/>
<circle cx="379.8" cy="385.9" r="0.5" fill="#7d8cc8" opacity="0.42"/>
<circle cx="380.0" cy="378.4" r="0.5" fill="#7d8cc8" opacity="0.42"/>
<circle cx="374.0" cy="386.0" r="0.5" fill="#7d8cc8" opacity="0.42"/>
<circle cx="376.8" cy="365.3" r="0.5" fill="#7d8cc8" opacity="0.42"/>
<circle cx="379.8" cy="372.7" r="0.5" fill="#7d8cc8" opacity="0.42"/>
<circle cx="379.6" cy="381.2" r="0.5" fill="#7d8cc8" opacity="0.42"/>
<circle cx="376.8" cy="383.7" r="0.5" fill="#7d8cc8" opacity="0.42"/>
<circle cx="381.4" cy="366.7" r="0.5" fill="#7d8cc8" opacity="0.42"/>
<circle cx="379.7" cy="366.1" r="0.5" fill="#7d8cc8" opacity="0.42"/>
<circle cx="383.2" cy="375.7" r="0.5" fill="#7d8cc8" opacity="0.42"/>
<circle cx="382.8" cy="386.1" r="0.5" fill="#7d8cc8" opacity="0.42"/>
<circle cx="379.3" cy="376.7" r="0.5" fill="#7d8cc8" opacity="0.42"/>
<circle cx="377.6" cy="372.7" r="0.5" fill="#7d8cc8" opacity="0.42"/>
<circle cx="378.9" cy="369.3" r="0.5" fill="#7d8cc8" opacity="0.42"/>
<circle cx="376.2" cy="376.5" r="0.5" fill="#7d8cc8" opacity="0.42"/>
<circle cx="377.1" cy="374.1" r="0.5" fill="#7d8cc8" opacity="0.42"/>
<circle cx="379.2" cy="358.1" r="0.5" fill="#7d8cc8" opacity="0.42"/>
<circle cx="383.6" cy="366.2" r="0.5" fill="#7d8cc8" opacity="0.42"/>
<circle cx="380.7" cy="358.5" r="0.5" fill="#7d8cc8" opacity="0.42"/>
<circle cx="377.9" cy="385.8" r="0.5" fill="#7d8cc8" opacity="0.42"/>
<circle cx="377.0" cy="378.2" r="0.5" fill="#7d8cc8" opacity="0.42"/>
<circle cx="378.6" cy="370.8" r="0.5" fill="#7d8cc8" opacity="0.42"/>
<circle cx="377.7" cy="381.1" r="0.5" fill="#7d8cc8" opacity="0.42"/>
<circle cx="375.7" cy="384.2" r="0.5" fill="#7d8cc8" opacity="0.42"/>
<circle cx="376.7" cy="384.1" r="0.5" fill="#7d8cc8" opacity="0.42"/>
<circle cx="379.6" cy="368.9" r="0.5" fill="#7d8cc8" opacity="0.42"/>
<circle cx="375.6" cy="384.1" r="0.5" fill="#7d8cc8" opacity="0.42"/>
<circle cx="378.1" cy="370.1" r="0.5" fill="#7d8cc8" opacity="0.42"/>
<circle cx="379.1" cy="375.0" r="0.5" fill="#7d8cc8" opacity="0.42"/>
<circle cx="380.3" cy="370.2" r="0.5" fill="#7d8cc8" opacity="0.42"/>
<circle cx="382.7" cy="360.2" r="0.5" fill="#7d8cc8" opacity="0.42"/>
<circle cx="377.7" cy="361.4" r="0.5" fill="#7d8cc8" opacity="0.42"/>
<circle cx="377.7" cy="385.9" r="0.5" fill="#7d8cc8" opacity="0.42"/>
<circle cx="374.3" cy="383.9" r="0.5" fill="#7d8cc8" opacity="0.42"/>
<circle cx="383.6" cy="369.4" r="0.5" fill="#7d8cc8" opacity="0.42"/>
<circle cx="378.8" cy="372.7" r="0.5" fill="#7d8cc8" opacity="0.42"/>
<circle cx="378.2" cy="384.6" r="0.5" fill="#7d8cc8" opacity="0.42"/>
<circle cx="380.8" cy="372.6" r="0.5" fill="#7d8cc8" opacity="0.42"/>
<circle cx="380.6" cy="386.0" r="0.5" fill="#7d8cc8" opacity="0.42"/>
<circle cx="378.3" cy="384.5" r="0.5" fill="#7d8cc8" opacity="0.42"/>
<circle cx="375.0" cy="366.2" r="0.5" fill="#7d8cc8" opacity="0.42"/>
<circle cx="382.8" cy="378.2" r="0.5" fill="#7d8cc8" opacity="0.42"/>
<circle cx="379.4" cy="384.8" r="0.5" fill="#7d8cc8" opacity="0.42"/>
<circle cx="379.2" cy="367.3" r="0.5" fill="#7d8cc8" opacity="0.42"/>
<circle cx="370.6" cy="361.8" r="0.5" fill="#7d8cc8" opacity="0.42"/>
<circle cx="379.8" cy="366.6" r="0.5" fill="#7d8cc8" opacity="0.42"/>
<circle cx="373.6" cy="385.1" r="0.5" fill="#7d8cc8" opacity="0.42"/>
<circle cx="379.1" cy="385.4" r="0.5" fill="#7d8cc8" opacity="0.42"/>
<circle cx="399.7" cy="349.6" r="0.5" fill="#6d7ec0" opacity="0.48"/>
<circle cx="401.1" cy="351.1" r="0.5" fill="#6d7ec0" opacity="0.48"/>
<circle cx="407.2" cy="371.3" r="0.5" fill="#6d7ec0" opacity="0.48"/>
<circle cx="402.9" cy="383.5" r="0.5" fill="#6d7ec0" opacity="0.48"/>
<circle cx="404.6" cy="372.4" r="0.5" fill="#6d7ec0" opacity="0.48"/>
<circle cx="401.9" cy="356.3" r="0.5" fill="#6d7ec0" opacity="0.48"/>
<circle cx="403.9" cy="347.2" r="0.5" fill="#6d7ec0" opacity="0.48"/>
<circle cx="398.1" cy="344.2" r="0.5" fill="#6d7ec0" opacity="0.48"/>
<circle cx="402.9" cy="356.1" r="0.5" fill="#6d7ec0" opacity="0.48"/>
<circle cx="405.2" cy="344.1" r="0.5" fill="#6d7ec0" opacity="0.48"/>
<circle cx="404.1" cy="359.7" r="0.5" fill="#6d7ec0" opacity="0.48"/>
<circle cx="398.7" cy="344.8" r="0.5" fill="#6d7ec0" opacity="0.48"/>
<circle cx="404.4" cy="345.4" r="0.5" fill="#6d7ec0" opacity="0.48"/>
<circle cx="400.4" cy="353.8" r="0.5" fill="#6d7ec0" opacity="0.48"/>
<circle cx="398.8" cy="360.6" r="0.5" fill="#6d7ec0" opacity="0.48"/>
<circle cx="398.8" cy="367.8" r="0.5" fill="#6d7ec0" opacity="0.48"/>
<circle cx="402.7" cy="381.4" r="0.5" fill="#6d7ec0" opacity="0.48"/>
<circle cx="403.8" cy="356.2" r="0.5" fill="#6d7ec0" opacity="0.48"/>
<circle cx="404.6" cy="346.9" r="0.5" fill="#6d7ec0" opacity="0.48"/>
<circle cx="404.1" cy="349.3" r="0.5" fill="#6d7ec0" opacity="0.48"/>
<circle cx="399.3" cy="367.6" r="0.5" fill="#6d7ec0" opacity="0.48"/>
<circle cx="403.0" cy="371.1" r="0.5" fill="#6d7ec0" opacity="0.48"/>
<circle cx="401.4" cy="372.0" r="0.5" fill="#6d7ec0" opacity="0.48"/>
<circle cx="402.5" cy="345.0" r="0.5" fill="#6d7ec0" opacity="0.48"/>
<circle cx="399.9" cy="369.4" r="0.5" fill="#6d7ec0" opacity="0.48"/>
<circle cx="402.6" cy="371.4" r="0.5" fill="#6d7ec0" opacity="0.48"/>
<circle cx="402.4" cy="370.4" r="0.5" fill="#6d7ec0" opacity="0.48"/>
<circle cx="405.5" cy="360.0" r="0.5" fill="#6d7ec0" opacity="0.48"/>
<circle cx="405.4" cy="365.9" r="0.5" fill="#6d7ec0" opacity="0.48"/>
<circle cx="406.1" cy="345.2" r="0.5" fill="#6d7ec0" opacity="0.48"/>
<circle cx="402.7" cy="350.3" r="0.5" fill="#6d7ec0" opacity="0.48"/>
<circle cx="408.9" cy="356.6" r="0.5" fill="#6d7ec0" opacity="0.48"/>
<circle cx="403.2" cy="367.5" r="0.5" fill="#6d7ec0" opacity="0.48"/>
<circle cx="398.0" cy="372.8" r="0.5" fill="#6d7ec0" opacity="0.48"/>
<circle cx="403.2" cy="385.2" r="0.5" fill="#6d7ec0" opacity="0.48"/>
<circle cx="402.4" cy="376.0" r="0.5" fill="#6d7ec0" opacity="0.48"/>
<circle cx="402.9" cy="350.7" r="0.5" fill="#6d7ec0" opacity="0.48"/>
<circle cx="402.4" cy="382.7" r="0.5" fill="#6d7ec0" opacity="0.48"/>
<circle cx="402.8" cy="382.7" r="0.5" fill="#6d7ec0" opacity="0.48"/>
<circle cx="405.6" cy="367.7" r="0.5" fill="#6d7ec0" opacity="0.48"/>
<circle cx="403.8" cy="347.8" r="0.5" fill="#6d7ec0" opacity="0.48"/>
<circle cx="401.3" cy="344.3" r="0.5" fill="#6d7ec0" opacity="0.48"/>
<circle cx="402.2" cy="385.0" r="0.5" fill="#6d7ec0" opacity="0.48"/>
<circle cx="401.1" cy="371.2" r="0.5" fill="#6d7ec0" opacity="0.48"/>
<circle cx="403.8" cy="348.1" r="0.5" fill="#6d7ec0" opacity="0.48"/>
<circle cx="406.0" cy="361.8" r="0.5" fill="#6d7ec0" opacity="0.48"/>
<circle cx="405.4" cy="380.5" r="0.5" fill="#6d7ec0" opacity="0.48"/>
<circle cx="404.7" cy="381.9" r="0.5" fill="#6d7ec0" opacity="0.48"/>
<circle cx="406.7" cy="363.8" r="0.5" fill="#6d7ec0" opacity="0.48"/>
<circle cx="402.3" cy="376.9" r="0.5" fill="#6d7ec0" opacity="0.48"/>
<circle cx="399.0" cy="365.6" r="0.5" fill="#6d7ec0" opacity="0.48"/>
<circle cx="402.1" cy="375.8" r="0.5" fill="#6d7ec0" opacity="0.48"/>
<circle cx="402.9" cy="363.4" r="0.5" fill="#6d7ec0" opacity="0.48"/>
<circle cx="402.6" cy="352.6" r="0.5" fill="#6d7ec0" opacity="0.48"/>
<circle cx="402.0" cy="373.0" r="0.5" fill="#6d7ec0" opacity="0.48"/>
<circle cx="402.4" cy="344.4" r="0.5" fill="#6d7ec0" opacity="0.48"/>
<circle cx="404.2" cy="359.4" r="0.5" fill="#6d7ec0" opacity="0.48"/>
<circle cx="398.5" cy="346.8" r="0.5" fill="#6d7ec0" opacity="0.48"/>
<circle cx="401.3" cy="358.2" r="0.5" fill="#6d7ec0" opacity="0.48"/>
<circle cx="400.9" cy="346.5" r="0.5" fill="#6d7ec0" opacity="0.48"/>
<circle cx="405.1" cy="355.0" r="0.5" fill="#6d7ec0" opacity="0.48"/>
<circle cx="401.8" cy="346.0" r="0.5" fill="#6d7ec0" opacity="0.48"/>
<circle cx="401.6" cy="378.3" r="0.5" fill="#6d7ec0" opacity="0.48"/>
<circle cx="397.7" cy="346.2" r="0.5" fill="#6d7ec0" opacity="0.48"/>
<circle cx="400.9" cy="373.9" r="0.5" fill="#6d7ec0" opacity="0.48"/>
<circle cx="403.6" cy="347.6" r="0.5" fill="#6d7ec0" opacity="0.48"/>
<circle cx="397.2" cy="374.2" r="0.5" fill="#6d7ec0" opacity="0.48"/>
<circle cx="398.2" cy="344.1" r="0.5" fill="#6d7ec0" opacity="0.48"/>
<circle cx="403.2" cy="370.4" r="0.5" fill="#6d7ec0" opacity="0.48"/>
<circle cx="402.7" cy="365.8" r="0.5" fill="#6d7ec0" opacity="0.48"/>
<circle cx="399.7" cy="357.3" r="0.5" fill="#6d7ec0" opacity="0.48"/>
<circle cx="401.9" cy="366.4" r="0.5" fill="#6d7ec0" opacity="0.48"/>
<circle cx="399.1" cy="372.4" r="0.5" fill="#6d7ec0" opacity="0.48"/>
<circle cx="398.1" cy="375.6" r="0.5" fill="#6d7ec0" opacity="0.48"/>
<circle cx="405.9" cy="371.6" r="0.5" fill="#6d7ec0" opacity="0.48"/>
<circle cx="399.9" cy="344.5" r="0.5" fill="#6d7ec0" opacity="0.48"/>
<circle cx="400.3" cy="358.3" r="0.5" fill="#6d7ec0" opacity="0.48"/>
<circle cx="398.1" cy="379.9" r="0.5" fill="#6d7ec0" opacity="0.48"/>
<circle cx="404.5" cy="358.7" r="0.5" fill="#6d7ec0" opacity="0.48"/>
<circle cx="407.2" cy="371.1" r="0.5" fill="#6d7ec0" opacity="0.48"/>
<circle cx="402.2" cy="354.8" r="0.5" fill="#6d7ec0" opacity="0.48"/>
<circle cx="404.1" cy="353.9" r="0.5" fill="#6d7ec0" opacity="0.48"/>
<circle cx="404.3" cy="385.4" r="0.5" fill="#6d7ec0" opacity="0.48"/>
<circle cx="403.6" cy="368.5" r="0.5" fill="#6d7ec0" opacity="0.48"/>
<circle cx="405.7" cy="377.7" r="0.5" fill="#6d7ec0" opacity="0.48"/>
<circle cx="400.6" cy="386.2" r="0.5" fill="#6d7ec0" opacity="0.48"/>
<circle cx="402.2" cy="351.0" r="0.5" fill="#6d7ec0" opacity="0.48"/>
<circle cx="400.4" cy="357.5" r="0.5" fill="#6d7ec0" opacity="0.48"/>
<circle cx="403.8" cy="380.3" r="0.5" fill="#6d7ec0" opacity="0.48"/>
<circle cx="402.4" cy="382.2" r="0.5" fill="#6d7ec0" opacity="0.48"/>
<circle cx="415.2" cy="358.6" r="0.5" fill="#7d8cc8" opacity="0.6"/>
<circle cx="416.7" cy="347.2" r="0.5" fill="#7d8cc8" opacity="0.6"/>
<circle cx="416.7" cy="350.0" r="0.5" fill="#7d8cc8" opacity="0.6"/>
<circle cx="418.2" cy="357.5" r="0.5" fill="#7d8cc8" opacity="0.6"/>
<circle cx="415.6" cy="357.9" r="0.5" fill="#7d8cc8" opacity="0.6"/>
<circle cx="415.2" cy="356.7" r="0.5" fill="#7d8cc8" opacity="0.6"/>
<circle cx="417.1" cy="353.4" r="0.5" fill="#7d8cc8" opacity="0.6"/>
<circle cx="414.5" cy="352.9" r="0.5" fill="#7d8cc8" opacity="0.6"/>
<circle cx="413.3" cy="352.0" r="0.5" fill="#7d8cc8" opacity="0.6"/>
<circle cx="413.9" cy="357.7" r="0.5" fill="#7d8cc8" opacity="0.6"/>
<circle cx="415.0" cy="346.0" r="0.5" fill="#7d8cc8" opacity="0.6"/>
<circle cx="417.1" cy="355.0" r="0.5" fill="#7d8cc8" opacity="0.6"/>
<circle cx="415.6" cy="360.6" r="0.5" fill="#7d8cc8" opacity="0.6"/>
<circle cx="417.3" cy="354.0" r="0.5" fill="#7d8cc8" opacity="0.6"/>
<circle cx="415.5" cy="344.3" r="0.5" fill="#7d8cc8" opacity="0.6"/>
<circle cx="416.9" cy="356.9" r="0.5" fill="#7d8cc8" opacity="0.6"/>
<circle cx="415.5" cy="349.3" r="0.5" fill="#7d8cc8" opacity="0.6"/>
<circle cx="416.2" cy="348.4" r="0.5" fill="#7d8cc8" opacity="0.6"/>
<circle cx="416.3" cy="356.3" r="0.5" fill="#7d8cc8" opacity="0.6"/>
<circle cx="418.3" cy="354.6" r="0.5" fill="#7d8cc8" opacity="0.6"/>
<circle cx="416.6" cy="356.2" r="0.5" fill="#7d8cc8" opacity="0.6"/>
<circle cx="418.1" cy="352.8" r="0.5" fill="#7d8cc8" opacity="0.6"/>
<circle cx="414.7" cy="351.3" r="0.5" fill="#7d8cc8" opacity="0.6"/>
<circle cx="414.7" cy="351.0" r="0.5" fill="#7d8cc8" opacity="0.6"/>
<circle cx="416.1" cy="354.9" r="0.5" fill="#7d8cc8" opacity="0.6"/>
<circle cx="416.5" cy="354.0" r="0.5" fill="#7d8cc8" opacity="0.6"/>
<circle cx="415.8" cy="355.2" r="0.5" fill="#7d8cc8" opacity="0.6"/>
<circle cx="417.5" cy="356.2" r="0.5" fill="#7d8cc8" opacity="0.6"/>
<circle cx="418.2" cy="352.9" r="0.5" fill="#7d8cc8" opacity="0.6"/>
<circle cx="416.0" cy="359.2" r="0.5" fill="#7d8cc8" opacity="0.6"/>
<ellipse cx="409.8" cy="337.3" rx="4.5" ry="2.6" transform="rotate(-45 409.8 337.3)" fill="#b0c4e4" opacity="0.7" filter="url(#bl05)"/>
<ellipse cx="407.9" cy="339.0" rx="7.4" ry="3.6" transform="rotate(-46 407.9 339.0)" fill="url(#gkhaki)" filter="url(#bl05)"/>
</g>
<ellipse cx="407.6" cy="339.3" rx="10.9" ry="4.8" transform="rotate(-40 407.6 339.3)" fill="none" stroke="#8478a4" stroke-width="0.9"/>
<ellipse cx="416.3" cy="353.8" rx="2.4" ry="5.2" fill="#a8b0dc" opacity="0.35" filter="url(#bl05)"/>
<ellipse cx="416.3" cy="353.8" rx="4.8" ry="9.4" fill="none" stroke="#8a80b0" stroke-width="0.75"/>
<path d="M367.1 331.6 H423.7 V388.2" fill="none" stroke="#777" stroke-width="1.0"/>
<path d="M367.1 331.6 V388.2 H423.7" fill="none" stroke="#2a2a2a" stroke-width="1.1"/>
<text x="389.3" y="341.2" font-size="4.6" fill="#5a5a6a" textLength="7.8" lengthAdjust="spacingAndGlyphs">63.6</text>
<text x="412.7" y="368.3" font-size="4.6" fill="#5a5a6a" textLength="6.6" lengthAdjust="spacingAndGlyphs">9.17</text>
<text x="365.7" y="337.9" font-size="3.9" font-weight="bold" text-anchor="end" fill="#111" stroke="#111" stroke-width="0.12">10<tspan font-size="2.6" dy="-1.5">5</tspan></text>
<line x1="365.9" y1="336.6" x2="367.1" y2="336.6" stroke="#222" stroke-width="0.7"/>
<text x="365.7" y="350.3" font-size="3.9" font-weight="bold" text-anchor="end" fill="#111" stroke="#111" stroke-width="0.12">10<tspan font-size="2.6" dy="-1.5">4</tspan></text>
<line x1="365.9" y1="349.0" x2="367.1" y2="349.0" stroke="#222" stroke-width="0.7"/>
<text x="365.7" y="363.8" font-size="3.9" font-weight="bold" text-anchor="end" fill="#111" stroke="#111" stroke-width="0.12">10<tspan font-size="2.6" dy="-1.5">3</tspan></text>
<line x1="365.9" y1="362.5" x2="367.1" y2="362.5" stroke="#222" stroke-width="0.7"/>
<text x="365.7" y="377.2" font-size="3.9" font-weight="bold" text-anchor="end" fill="#111" stroke="#111" stroke-width="0.12">10<tspan font-size="2.6" dy="-1.5">2</tspan></text>
<line x1="365.9" y1="375.9" x2="367.1" y2="375.9" stroke="#222" stroke-width="0.7"/>
<text x="365.7" y="383.3" font-size="3.9" font-weight="bold" text-anchor="end" fill="#111" stroke="#111" stroke-width="0.12">0</text>
<line x1="365.9" y1="382.0" x2="367.1" y2="382.0" stroke="#222" stroke-width="0.7"/>
<text x="373.5" y="394.1" font-size="3.9" font-weight="bold" text-anchor="middle" fill="#111" stroke="#111" stroke-width="0.12">0</text>
<line x1="373.5" y1="388.2" x2="373.5" y2="389.4" stroke="#222" stroke-width="0.7"/>
<text x="378.4" y="394.1" font-size="3.9" font-weight="bold" text-anchor="middle" fill="#111" stroke="#111" stroke-width="0.12">10<tspan font-size="2.6" dy="-1.5">2</tspan></text>
<line x1="378.4" y1="388.2" x2="378.4" y2="389.4" stroke="#222" stroke-width="0.7"/>
<text x="393.1" y="394.1" font-size="3.9" font-weight="bold" text-anchor="middle" fill="#111" stroke="#111" stroke-width="0.12">10<tspan font-size="2.6" dy="-1.5">3</tspan></text>
<line x1="393.1" y1="388.2" x2="393.1" y2="389.4" stroke="#222" stroke-width="0.7"/>
<text x="406.2" y="394.1" font-size="3.9" font-weight="bold" text-anchor="middle" fill="#111" stroke="#111" stroke-width="0.12">10<tspan font-size="2.6" dy="-1.5">4</tspan></text>
<line x1="406.2" y1="388.2" x2="406.2" y2="389.4" stroke="#222" stroke-width="0.7"/>
<text x="418.6" y="394.1" font-size="3.9" font-weight="bold" text-anchor="middle" fill="#111" stroke="#111" stroke-width="0.12">10<tspan font-size="2.6" dy="-1.5">5</tspan></text>
<line x1="418.6" y1="388.2" x2="418.6" y2="389.4" stroke="#222" stroke-width="0.7"/>
<text x="395.4" y="398.0" font-size="3.6" font-weight="bold" text-anchor="middle" fill="#222" textLength="29.4" lengthAdjust="spacingAndGlyphs">&lt;FITC-A&gt;: Ly6C</text>
<text transform="translate(358.5,359.3) rotate(-90)" font-size="3.6" font-weight="bold" text-anchor="middle" fill="#222" textLength="32.8" lengthAdjust="spacingAndGlyphs">&lt;PE-Cy7-A&gt;: Gr-1</text>
<clipPath id="c6"><rect x="460.9" y="331.4" width="55.4" height="56.4"/></clipPath>
<g clip-path="url(#c6)">
<path d="M463.9 385.8 L493.0 348.3 L500.8 348.3 L500.8 385.8 Z" fill="#c3c8ea" opacity="0.42" filter="url(#bl3)"/>
<circle cx="471.0" cy="360.1" r="0.5" fill="#8a98d0" opacity="0.38"/>
<circle cx="476.0" cy="371.9" r="0.5" fill="#8a98d0" opacity="0.38"/>
<circle cx="491.4" cy="373.0" r="0.5" fill="#8a98d0" opacity="0.38"/>
<circle cx="493.0" cy="359.8" r="0.5" fill="#8a98d0" opacity="0.38"/>
<circle cx="501.1" cy="369.8" r="0.5" fill="#8a98d0" opacity="0.38"/>
<circle cx="497.1" cy="355.5" r="0.5" fill="#8a98d0" opacity="0.38"/>
<circle cx="497.0" cy="365.7" r="0.5" fill="#8a98d0" opacity="0.38"/>
<circle cx="498.0" cy="382.3" r="0.5" fill="#8a98d0" opacity="0.38"/>
<circle cx="490.7" cy="367.6" r="0.5" fill="#8a98d0" opacity="0.38"/>
<circle cx="464.3" cy="364.3" r="0.5" fill="#8a98d0" opacity="0.38"/>
<circle cx="500.0" cy="362.9" r="0.5" fill="#8a98d0" opacity="0.38"/>
<circle cx="490.2" cy="377.0" r="0.5" fill="#8a98d0" opacity="0.38"/>
<circle cx="490.3" cy="363.9" r="0.5" fill="#8a98d0" opacity="0.38"/>
<circle cx="469.6" cy="359.9" r="0.5" fill="#8a98d0" opacity="0.38"/>
<circle cx="503.1" cy="371.1" r="0.5" fill="#8a98d0" opacity="0.38"/>
<circle cx="489.9" cy="376.5" r="0.5" fill="#8a98d0" opacity="0.38"/>
<circle cx="472.8" cy="358.0" r="0.5" fill="#8a98d0" opacity="0.38"/>
<circle cx="464.5" cy="383.4" r="0.5" fill="#8a98d0" opacity="0.38"/>
<circle cx="469.1" cy="385.9" r="0.5" fill="#8a98d0" opacity="0.38"/>
<circle cx="478.4" cy="380.4" r="0.5" fill="#8a98d0" opacity="0.38"/>
<circle cx="469.4" cy="381.9" r="0.5" fill="#8a98d0" opacity="0.38"/>
<circle cx="473.9" cy="370.6" r="0.5" fill="#8a98d0" opacity="0.38"/>
<circle cx="484.8" cy="360.7" r="0.5" fill="#8a98d0" opacity="0.38"/>
<circle cx="473.8" cy="382.1" r="0.5" fill="#8a98d0" opacity="0.38"/>
<circle cx="475.3" cy="371.0" r="0.5" fill="#8a98d0" opacity="0.38"/>
<circle cx="494.4" cy="365.6" r="0.5" fill="#8a98d0" opacity="0.38"/>
<circle cx="471.6" cy="365.4" r="0.5" fill="#8a98d0" opacity="0.38"/>
<circle cx="479.2" cy="370.6" r="0.5" fill="#8a98d0" opacity="0.38"/>
<circle cx="489.5" cy="373.8" r="0.5" fill="#8a98d0" opacity="0.38"/>
<circle cx="498.6" cy="357.1" r="0.5" fill="#8a98d0" opacity="0.38"/>
<circle cx="490.4" cy="383.1" r="0.5" fill="#8a98d0" opacity="0.38"/>
<circle cx="473.3" cy="355.4" r="0.5" fill="#8a98d0" opacity="0.38"/>
<circle cx="481.4" cy="360.9" r="0.5" fill="#8a98d0" opacity="0.38"/>
<circle cx="482.2" cy="380.1" r="0.5" fill="#8a98d0" opacity="0.38"/>
<circle cx="467.6" cy="361.0" r="0.5" fill="#8a98d0" opacity="0.38"/>
<circle cx="483.0" cy="363.6" r="0.5" fill="#8a98d0" opacity="0.38"/>
<circle cx="473.1" cy="372.9" r="0.5" fill="#8a98d0" opacity="0.38"/>
<circle cx="468.6" cy="358.2" r="0.5" fill="#8a98d0" opacity="0.38"/>
<circle cx="478.3" cy="373.7" r="0.5" fill="#8a98d0" opacity="0.38"/>
<circle cx="501.3" cy="376.1" r="0.5" fill="#8a98d0" opacity="0.38"/>
<circle cx="466.8" cy="365.6" r="0.5" fill="#8a98d0" opacity="0.38"/>
<circle cx="493.6" cy="376.3" r="0.5" fill="#8a98d0" opacity="0.38"/>
<circle cx="498.6" cy="385.9" r="0.5" fill="#8a98d0" opacity="0.38"/>
<circle cx="498.1" cy="360.6" r="0.5" fill="#8a98d0" opacity="0.38"/>
<circle cx="501.5" cy="375.3" r="0.5" fill="#8a98d0" opacity="0.38"/>
<circle cx="473.5" cy="363.4" r="0.5" fill="#8a98d0" opacity="0.38"/>
<circle cx="498.4" cy="365.2" r="0.5" fill="#8a98d0" opacity="0.38"/>
<circle cx="467.2" cy="367.2" r="0.5" fill="#8a98d0" opacity="0.38"/>
<circle cx="500.8" cy="373.5" r="0.5" fill="#8a98d0" opacity="0.38"/>
<circle cx="493.1" cy="358.6" r="0.5" fill="#8a98d0" opacity="0.38"/>
<circle cx="482.0" cy="369.0" r="0.5" fill="#8a98d0" opacity="0.38"/>
<circle cx="472.1" cy="378.9" r="0.5" fill="#8a98d0" opacity="0.38"/>
<circle cx="478.3" cy="361.1" r="0.5" fill="#8a98d0" opacity="0.38"/>
<circle cx="503.2" cy="374.1" r="0.5" fill="#8a98d0" opacity="0.38"/>
<circle cx="471.1" cy="353.5" r="0.5" fill="#8a98d0" opacity="0.38"/>
<circle cx="489.9" cy="375.0" r="0.5" fill="#8a98d0" opacity="0.38"/>
<circle cx="464.9" cy="373.7" r="0.5" fill="#8a98d0" opacity="0.38"/>
<circle cx="493.4" cy="375.6" r="0.5" fill="#8a98d0" opacity="0.38"/>
<circle cx="473.2" cy="374.6" r="0.5" fill="#8a98d0" opacity="0.38"/>
<circle cx="488.0" cy="378.6" r="0.5" fill="#8a98d0" opacity="0.38"/>
<circle cx="469.7" cy="382.3" r="0.5" fill="#8a98d0" opacity="0.38"/>
<circle cx="501.6" cy="380.8" r="0.5" fill="#8a98d0" opacity="0.38"/>
<circle cx="498.1" cy="370.6" r="0.5" fill="#8a98d0" opacity="0.38"/>
<circle cx="499.9" cy="363.9" r="0.5" fill="#8a98d0" opacity="0.38"/>
<circle cx="473.0" cy="377.2" r="0.5" fill="#8a98d0" opacity="0.38"/>
<circle cx="499.9" cy="359.1" r="0.5" fill="#8a98d0" opacity="0.38"/>
<circle cx="472.6" cy="356.0" r="0.5" fill="#8a98d0" opacity="0.38"/>
<circle cx="481.4" cy="362.1" r="0.5" fill="#8a98d0" opacity="0.38"/>
<circle cx="471.5" cy="381.0" r="0.5" fill="#8a98d0" opacity="0.38"/>
<circle cx="487.2" cy="385.4" r="0.5" fill="#8a98d0" opacity="0.38"/>
<circle cx="479.9" cy="379.3" r="0.5" fill="#8a98d0" opacity="0.38"/>
<circle cx="464.4" cy="385.6" r="0.5" fill="#8a98d0" opacity="0.38"/>
<circle cx="473.2" cy="373.9" r="0.5" fill="#8a98d0" opacity="0.38"/>
<circle cx="484.3" cy="385.6" r="0.5" fill="#8a98d0" opacity="0.38"/>
<circle cx="483.5" cy="386.5" r="0.5" fill="#8a98d0" opacity="0.38"/>
<circle cx="488.7" cy="365.3" r="0.5" fill="#8a98d0" opacity="0.38"/>
<circle cx="497.2" cy="364.7" r="0.5" fill="#8a98d0" opacity="0.38"/>
<circle cx="503.8" cy="373.3" r="0.5" fill="#8a98d0" opacity="0.38"/>
<circle cx="472.9" cy="385.8" r="0.5" fill="#8a98d0" opacity="0.38"/>
<circle cx="476.7" cy="371.9" r="0.5" fill="#8a98d0" opacity="0.38"/>
<circle cx="477.6" cy="379.0" r="0.5" fill="#8a98d0" opacity="0.38"/>
<circle cx="464.8" cy="370.8" r="0.5" fill="#8a98d0" opacity="0.38"/>
<circle cx="470.4" cy="382.9" r="0.5" fill="#8a98d0" opacity="0.38"/>
<circle cx="463.9" cy="377.5" r="0.5" fill="#8a98d0" opacity="0.38"/>
<circle cx="474.2" cy="373.3" r="0.5" fill="#8a98d0" opacity="0.38"/>
<circle cx="486.3" cy="380.1" r="0.5" fill="#8a98d0" opacity="0.38"/>
<circle cx="469.4" cy="366.2" r="0.5" fill="#8a98d0" opacity="0.38"/>
<circle cx="468.7" cy="385.8" r="0.5" fill="#8a98d0" opacity="0.38"/>
<circle cx="469.8" cy="361.9" r="0.5" fill="#8a98d0" opacity="0.38"/>
<circle cx="484.7" cy="376.8" r="0.5" fill="#8a98d0" opacity="0.38"/>
<circle cx="499.3" cy="357.5" r="0.5" fill="#8a98d0" opacity="0.38"/>
<circle cx="473.2" cy="363.3" r="0.5" fill="#8a98d0" opacity="0.38"/>
<circle cx="487.3" cy="373.2" r="0.5" fill="#8a98d0" opacity="0.38"/>
<circle cx="480.2" cy="384.2" r="0.5" fill="#8a98d0" opacity="0.38"/>
<circle cx="490.3" cy="383.6" r="0.5" fill="#8a98d0" opacity="0.38"/>
<circle cx="502.1" cy="367.3" r="0.5" fill="#8a98d0" opacity="0.38"/>
<circle cx="501.5" cy="371.9" r="0.5" fill="#8a98d0" opacity="0.38"/>
<circle cx="466.0" cy="384.8" r="0.5" fill="#8a98d0" opacity="0.38"/>
<circle cx="468.1" cy="354.3" r="0.5" fill="#8a98d0" opacity="0.38"/>
<circle cx="475.5" cy="368.0" r="0.5" fill="#8a98d0" opacity="0.38"/>
<circle cx="502.5" cy="383.8" r="0.5" fill="#8a98d0" opacity="0.38"/>
<circle cx="480.7" cy="375.4" r="0.5" fill="#8a98d0" opacity="0.38"/>
<circle cx="497.8" cy="382.4" r="0.5" fill="#8a98d0" opacity="0.38"/>
<circle cx="490.0" cy="374.9" r="0.5" fill="#8a98d0" opacity="0.38"/>
<circle cx="468.6" cy="366.4" r="0.5" fill="#8a98d0" opacity="0.38"/>
<circle cx="490.2" cy="376.9" r="0.5" fill="#8a98d0" opacity="0.38"/>
<circle cx="495.9" cy="384.5" r="0.5" fill="#8a98d0" opacity="0.38"/>
<circle cx="502.3" cy="364.4" r="0.5" fill="#8a98d0" opacity="0.38"/>
<circle cx="466.9" cy="384.4" r="0.5" fill="#8a98d0" opacity="0.38"/>
<circle cx="486.6" cy="363.9" r="0.5" fill="#8a98d0" opacity="0.38"/>
<circle cx="491.5" cy="366.8" r="0.5" fill="#8a98d0" opacity="0.38"/>
<circle cx="473.3" cy="370.6" r="0.5" fill="#8a98d0" opacity="0.38"/>
<circle cx="484.8" cy="379.3" r="0.5" fill="#8a98d0" opacity="0.38"/>
<circle cx="466.8" cy="380.8" r="0.5" fill="#8a98d0" opacity="0.38"/>
<circle cx="488.8" cy="373.8" r="0.5" fill="#8a98d0" opacity="0.38"/>
<circle cx="490.7" cy="382.2" r="0.5" fill="#8a98d0" opacity="0.38"/>
<circle cx="464.3" cy="373.9" r="0.5" fill="#8a98d0" opacity="0.38"/>
<circle cx="490.9" cy="380.1" r="0.5" fill="#8a98d0" opacity="0.38"/>
<circle cx="489.7" cy="363.8" r="0.5" fill="#8a98d0" opacity="0.38"/>
<circle cx="502.1" cy="381.9" r="0.5" fill="#8a98d0" opacity="0.38"/>
<circle cx="473.2" cy="372.6" r="0.5" fill="#8a98d0" opacity="0.38"/>
<circle cx="502.1" cy="365.0" r="0.5" fill="#8a98d0" opacity="0.38"/>
<circle cx="480.2" cy="385.8" r="0.5" fill="#8a98d0" opacity="0.38"/>
<circle cx="499.8" cy="365.9" r="0.5" fill="#8a98d0" opacity="0.38"/>
<circle cx="493.2" cy="370.4" r="0.5" fill="#8a98d0" opacity="0.38"/>
<circle cx="490.4" cy="381.4" r="0.5" fill="#8a98d0" opacity="0.38"/>
<circle cx="469.0" cy="365.6" r="0.5" fill="#8a98d0" opacity="0.38"/>
<circle cx="472.5" cy="367.2" r="0.5" fill="#8a98d0" opacity="0.38"/>
<circle cx="465.3" cy="361.9" r="0.5" fill="#8a98d0" opacity="0.38"/>
<circle cx="480.1" cy="372.3" r="0.5" fill="#8a98d0" opacity="0.38"/>
<circle cx="467.0" cy="376.8" r="0.5" fill="#8a98d0" opacity="0.38"/>
<circle cx="501.5" cy="376.7" r="0.5" fill="#8a98d0" opacity="0.38"/>
<circle cx="478.1" cy="379.9" r="0.5" fill="#8a98d0" opacity="0.38"/>
<circle cx="481.3" cy="363.6" r="0.5" fill="#8a98d0" opacity="0.38"/>
<circle cx="483.1" cy="354.3" r="0.5" fill="#8a98d0" opacity="0.38"/>
<circle cx="490.9" cy="363.0" r="0.5" fill="#8a98d0" opacity="0.38"/>
<circle cx="478.6" cy="385.9" r="0.5" fill="#8a98d0" opacity="0.38"/>
<circle cx="494.5" cy="383.0" r="0.5" fill="#8a98d0" opacity="0.38"/>
<circle cx="489.5" cy="378.2" r="0.5" fill="#8a98d0" opacity="0.38"/>
<circle cx="492.0" cy="385.9" r="0.5" fill="#8a98d0" opacity="0.38"/>
<circle cx="471.7" cy="381.4" r="0.5" fill="#8a98d0" opacity="0.38"/>
<circle cx="475.9" cy="366.8" r="0.5" fill="#8a98d0" opacity="0.38"/>
<circle cx="496.7" cy="377.3" r="0.5" fill="#8a98d0" opacity="0.38"/>
<circle cx="497.8" cy="383.9" r="0.5" fill="#8a98d0" opacity="0.38"/>
<circle cx="487.4" cy="364.6" r="0.5" fill="#8a98d0" opacity="0.38"/>
<circle cx="464.5" cy="375.5" r="0.5" fill="#8a98d0" opacity="0.38"/>
<circle cx="492.8" cy="367.4" r="0.5" fill="#8a98d0" opacity="0.38"/>
<circle cx="466.7" cy="352.6" r="0.5" fill="#8a98d0" opacity="0.38"/>
<circle cx="470.8" cy="379.7" r="0.5" fill="#8a98d0" opacity="0.38"/>
<circle cx="464.1" cy="365.9" r="0.5" fill="#8a98d0" opacity="0.38"/>
<circle cx="474.5" cy="380.1" r="0.5" fill="#8a98d0" opacity="0.38"/>
<circle cx="503.3" cy="354.5" r="0.5" fill="#8a98d0" opacity="0.38"/>
<circle cx="468.5" cy="385.3" r="0.5" fill="#8a98d0" opacity="0.38"/>
<circle cx="502.6" cy="362.5" r="0.5" fill="#8a98d0" opacity="0.38"/>
<circle cx="477.3" cy="375.2" r="0.5" fill="#8a98d0" opacity="0.38"/>
<circle cx="476.7" cy="372.2" r="0.5" fill="#8a98d0" opacity="0.38"/>
<circle cx="483.0" cy="366.9" r="0.5" fill="#8a98d0" opacity="0.38"/>
<circle cx="466.1" cy="359.2" r="0.5" fill="#8a98d0" opacity="0.38"/>
<circle cx="470.4" cy="359.6" r="0.5" fill="#8a98d0" opacity="0.38"/>
<circle cx="488.8" cy="379.7" r="0.5" fill="#8a98d0" opacity="0.38"/>
<circle cx="474.4" cy="382.0" r="0.5" fill="#8a98d0" opacity="0.38"/>
<circle cx="493.0" cy="369.8" r="0.5" fill="#8a98d0" opacity="0.38"/>
<circle cx="483.5" cy="364.2" r="0.5" fill="#8a98d0" opacity="0.38"/>
<circle cx="501.0" cy="376.2" r="0.5" fill="#8a98d0" opacity="0.38"/>
<circle cx="465.9" cy="362.7" r="0.5" fill="#8a98d0" opacity="0.38"/>
<circle cx="491.5" cy="371.2" r="0.5" fill="#8a98d0" opacity="0.38"/>
<circle cx="492.5" cy="365.8" r="0.5" fill="#8a98d0" opacity="0.38"/>
<circle cx="495.7" cy="382.3" r="0.5" fill="#8a98d0" opacity="0.38"/>
<circle cx="467.7" cy="376.9" r="0.5" fill="#8a98d0" opacity="0.38"/>
<circle cx="471.5" cy="380.0" r="0.5" fill="#8a98d0" opacity="0.38"/>
<circle cx="496.0" cy="382.0" r="0.5" fill="#8a98d0" opacity="0.38"/>
<circle cx="473.1" cy="359.7" r="0.5" fill="#8a98d0" opacity="0.38"/>
<circle cx="490.4" cy="376.4" r="0.5" fill="#8a98d0" opacity="0.38"/>
<circle cx="469.4" cy="364.4" r="0.5" fill="#8a98d0" opacity="0.38"/>
<circle cx="487.1" cy="360.5" r="0.5" fill="#8a98d0" opacity="0.38"/>
<circle cx="489.2" cy="366.3" r="0.5" fill="#8a98d0" opacity="0.38"/>
<circle cx="474.2" cy="372.4" r="0.5" fill="#8a98d0" opacity="0.38"/>
<circle cx="485.2" cy="380.4" r="0.5" fill="#8a98d0" opacity="0.38"/>
<circle cx="465.1" cy="380.4" r="0.5" fill="#8a98d0" opacity="0.38"/>
<circle cx="472.7" cy="368.1" r="0.5" fill="#8a98d0" opacity="0.38"/>
<circle cx="469.4" cy="372.9" r="0.5" fill="#7d8cc8" opacity="0.42"/>
<circle cx="468.9" cy="361.9" r="0.5" fill="#7d8cc8" opacity="0.42"/>
<circle cx="472.6" cy="371.2" r="0.5" fill="#7d8cc8" opacity="0.42"/>
<circle cx="474.1" cy="382.5" r="0.5" fill="#7d8cc8" opacity="0.42"/>
<circle cx="473.0" cy="367.2" r="0.5" fill="#7d8cc8" opacity="0.42"/>
<circle cx="473.5" cy="365.0" r="0.5" fill="#7d8cc8" opacity="0.42"/>
<circle cx="470.6" cy="366.3" r="0.5" fill="#7d8cc8" opacity="0.42"/>
<circle cx="465.6" cy="381.5" r="0.5" fill="#7d8cc8" opacity="0.42"/>
<circle cx="470.3" cy="385.5" r="0.5" fill="#7d8cc8" opacity="0.42"/>
<circle cx="475.8" cy="373.0" r="0.5" fill="#7d8cc8" opacity="0.42"/>
<circle cx="472.7" cy="376.1" r="0.5" fill="#7d8cc8" opacity="0.42"/>
<circle cx="472.4" cy="384.4" r="0.5" fill="#7d8cc8" opacity="0.42"/>
<circle cx="476.8" cy="377.6" r="0.5" fill="#7d8cc8" opacity="0.42"/>
<circle cx="469.8" cy="383.7" r="0.5" fill="#7d8cc8" opacity="0.42"/>
<circle cx="474.2" cy="375.9" r="0.5" fill="#7d8cc8" opacity="0.42"/>
<circle cx="474.1" cy="380.2" r="0.5" fill="#7d8cc8" opacity="0.42"/>
<circle cx="471.3" cy="367.0" r="0.5" fill="#7d8cc8" opacity="0.42"/>
<circle cx="468.9" cy="385.0" r="0.5" fill="#7d8cc8" opacity="0.42"/>
<circle cx="474.3" cy="377.0" r="0.5" fill="#7d8cc8" opacity="0.42"/>
<circle cx="473.1" cy="382.7" r="0.5" fill="#7d8cc8" opacity="0.42"/>
<circle cx="471.1" cy="381.3" r="0.5" fill="#7d8cc8" opacity="0.42"/>
<circle cx="470.4" cy="377.2" r="0.5" fill="#7d8cc8" opacity="0.42"/>
<circle cx="470.9" cy="380.0" r="0.5" fill="#7d8cc8" opacity="0.42"/>
<circle cx="467.6" cy="378.0" r="0.5" fill="#7d8cc8" opacity="0.42"/>
<circle cx="477.4" cy="372.7" r="0.5" fill="#7d8cc8" opacity="0.42"/>
<circle cx="469.3" cy="385.0" r="0.5" fill="#7d8cc8" opacity="0.42"/>
<circle cx="468.4" cy="382.2" r="0.5" fill="#7d8cc8" opacity="0.42"/>
<circle cx="473.0" cy="385.7" r="0.5" fill="#7d8cc8" opacity="0.42"/>
<circle cx="477.6" cy="384.7" r="0.5" fill="#7d8cc8" opacity="0.42"/>
<circle cx="471.3" cy="377.5" r="0.5" fill="#7d8cc8" opacity="0.42"/>
<circle cx="470.4" cy="385.4" r="0.5" fill="#7d8cc8" opacity="0.42"/>
<circle cx="470.5" cy="368.0" r="0.5" fill="#7d8cc8" opacity="0.42"/>
<circle cx="472.3" cy="385.2" r="0.5" fill="#7d8cc8" opacity="0.42"/>
<circle cx="469.2" cy="379.4" r="0.5" fill="#7d8cc8" opacity="0.42"/>
<circle cx="477.5" cy="385.6" r="0.5" fill="#7d8cc8" opacity="0.42"/>
<circle cx="475.7" cy="382.0" r="0.5" fill="#7d8cc8" opacity="0.42"/>
<circle cx="472.1" cy="385.0" r="0.5" fill="#7d8cc8" opacity="0.42"/>
<circle cx="470.6" cy="385.4" r="0.5" fill="#7d8cc8" opacity="0.42"/>
<circle cx="473.6" cy="364.7" r="0.5" fill="#7d8cc8" opacity="0.42"/>
<circle cx="474.7" cy="384.2" r="0.5" fill="#7d8cc8" opacity="0.42"/>
<circle cx="474.0" cy="378.6" r="0.5" fill="#7d8cc8" opacity="0.42"/>
<circle cx="475.9" cy="380.8" r="0.5" fill="#7d8cc8" opacity="0.42"/>
<circle cx="473.4" cy="358.9" r="0.5" fill="#7d8cc8" opacity="0.42"/>
<circle cx="473.3" cy="384.9" r="0.5" fill="#7d8cc8" opacity="0.42"/>
<circle cx="471.7" cy="362.3" r="0.5" fill="#7d8cc8" opacity="0.42"/>
<circle cx="476.2" cy="361.8" r="0.5" fill="#7d8cc8" opacity="0.42"/>
<circle cx="465.6" cy="373.2" r="0.5" fill="#7d8cc8" opacity="0.42"/>
<circle cx="473.1" cy="381.9" r="0.5" fill="#7d8cc8" opacity="0.42"/>
<circle cx="468.0" cy="368.6" r="0.5" fill="#7d8cc8" opacity="0.42"/>
<circle cx="472.9" cy="384.7" r="0.5" fill="#7d8cc8" opacity="0.42"/>
<circle cx="474.3" cy="385.0" r="0.5" fill="#7d8cc8" opacity="0.42"/>
<circle cx="478.1" cy="365.5" r="0.5" fill="#7d8cc8" opacity="0.42"/>
<circle cx="470.9" cy="382.6" r="0.5" fill="#7d8cc8" opacity="0.42"/>
<circle cx="473.6" cy="377.4" r="0.5" fill="#7d8cc8" opacity="0.42"/>
<circle cx="473.5" cy="363.9" r="0.5" fill="#7d8cc8" opacity="0.42"/>
<circle cx="471.9" cy="381.2" r="0.5" fill="#7d8cc8" opacity="0.42"/>
<circle cx="474.0" cy="380.7" r="0.5" fill="#7d8cc8" opacity="0.42"/>
<circle cx="475.8" cy="383.9" r="0.5" fill="#7d8cc8" opacity="0.42"/>
<circle cx="467.8" cy="363.5" r="0.5" fill="#7d8cc8" opacity="0.42"/>
<circle cx="474.3" cy="374.2" r="0.5" fill="#7d8cc8" opacity="0.42"/>
<circle cx="476.4" cy="373.1" r="0.5" fill="#7d8cc8" opacity="0.42"/>
<circle cx="472.3" cy="362.0" r="0.5" fill="#7d8cc8" opacity="0.42"/>
<circle cx="474.2" cy="364.1" r="0.5" fill="#7d8cc8" opacity="0.42"/>
<circle cx="471.3" cy="365.3" r="0.5" fill="#7d8cc8" opacity="0.42"/>
<circle cx="471.7" cy="379.9" r="0.5" fill="#7d8cc8" opacity="0.42"/>
<circle cx="474.4" cy="380.5" r="0.5" fill="#7d8cc8" opacity="0.42"/>
<circle cx="471.1" cy="383.2" r="0.5" fill="#7d8cc8" opacity="0.42"/>
<circle cx="472.9" cy="361.6" r="0.5" fill="#7d8cc8" opacity="0.42"/>
<circle cx="468.9" cy="362.5" r="0.5" fill="#7d8cc8" opacity="0.42"/>
<circle cx="473.9" cy="367.8" r="0.5" fill="#7d8cc8" opacity="0.42"/>
<circle cx="496.0" cy="375.7" r="0.5" fill="#6d7ec0" opacity="0.48"/>
<circle cx="501.0" cy="385.6" r="0.5" fill="#6d7ec0" opacity="0.48"/>
<circle cx="495.3" cy="376.1" r="0.5" fill="#6d7ec0" opacity="0.48"/>
<circle cx="492.0" cy="350.9" r="0.5" fill="#6d7ec0" opacity="0.48"/>
<circle cx="494.5" cy="377.5" r="0.5" fill="#6d7ec0" opacity="0.48"/>
<circle cx="493.9" cy="346.9" r="0.5" fill="#6d7ec0" opacity="0.48"/>
<circle cx="493.8" cy="376.5" r="0.5" fill="#6d7ec0" opacity="0.48"/>
<circle cx="495.3" cy="354.4" r="0.5" fill="#6d7ec0" opacity="0.48"/>
<circle cx="498.3" cy="379.6" r="0.5" fill="#6d7ec0" opacity="0.48"/>
<circle cx="492.1" cy="347.1" r="0.5" fill="#6d7ec0" opacity="0.48"/>
<circle cx="499.3" cy="369.3" r="0.5" fill="#6d7ec0" opacity="0.48"/>
<circle cx="494.4" cy="368.1" r="0.5" fill="#6d7ec0" opacity="0.48"/>
<circle cx="500.2" cy="363.2" r="0.5" fill="#6d7ec0" opacity="0.48"/>
<circle cx="497.2" cy="359.0" r="0.5" fill="#6d7ec0" opacity="0.48"/>
<circle cx="493.7" cy="374.5" r="0.5" fill="#6d7ec0" opacity="0.48"/>
<circle cx="499.2" cy="379.1" r="0.5" fill="#6d7ec0" opacity="0.48"/>
<circle cx="496.3" cy="350.8" r="0.5" fill="#6d7ec0" opacity="0.48"/>
<circle cx="497.8" cy="345.9" r="0.5" fill="#6d7ec0" opacity="0.48"/>
<circle cx="495.6" cy="375.3" r="0.5" fill="#6d7ec0" opacity="0.48"/>
<circle cx="496.3" cy="350.0" r="0.5" fill="#6d7ec0" opacity="0.48"/>
<circle cx="496.6" cy="372.5" r="0.5" fill="#6d7ec0" opacity="0.48"/>
<circle cx="496.2" cy="349.0" r="0.5" fill="#6d7ec0" opacity="0.48"/>
<circle cx="493.5" cy="375.6" r="0.5" fill="#6d7ec0" opacity="0.48"/>
<circle cx="496.4" cy="383.6" r="0.5" fill="#6d7ec0" opacity="0.48"/>
<circle cx="494.6" cy="380.4" r="0.5" fill="#6d7ec0" opacity="0.48"/>
<circle cx="498.8" cy="359.7" r="0.5" fill="#6d7ec0" opacity="0.48"/>
<circle cx="498.8" cy="353.1" r="0.5" fill="#6d7ec0" opacity="0.48"/>
<circle cx="493.6" cy="379.3" r="0.5" fill="#6d7ec0" opacity="0.48"/>
<circle cx="494.8" cy="365.0" r="0.5" fill="#6d7ec0" opacity="0.48"/>
<circle cx="495.3" cy="377.0" r="0.5" fill="#6d7ec0" opacity="0.48"/>
<circle cx="493.2" cy="357.4" r="0.5" fill="#6d7ec0" opacity="0.48"/>
<circle cx="495.5" cy="379.7" r="0.5" fill="#6d7ec0" opacity="0.48"/>
<circle cx="495.0" cy="355.1" r="0.5" fill="#6d7ec0" opacity="0.48"/>
<circle cx="494.4" cy="355.1" r="0.5" fill="#6d7ec0" opacity="0.48"/>
<circle cx="499.2" cy="346.6" r="0.5" fill="#6d7ec0" opacity="0.48"/>
<circle cx="494.9" cy="381.5" r="0.5" fill="#6d7ec0" opacity="0.48"/>
<circle cx="498.8" cy="358.0" r="0.5" fill="#6d7ec0" opacity="0.48"/>
<circle cx="496.5" cy="371.3" r="0.5" fill="#6d7ec0" opacity="0.48"/>
<circle cx="494.9" cy="362.1" r="0.5" fill="#6d7ec0" opacity="0.48"/>
<circle cx="496.2" cy="376.5" r="0.5" fill="#6d7ec0" opacity="0.48"/>
<circle cx="496.3" cy="349.8" r="0.5" fill="#6d7ec0" opacity="0.48"/>
<circle cx="493.7" cy="372.6" r="0.5" fill="#6d7ec0" opacity="0.48"/>
<circle cx="496.3" cy="379.8" r="0.5" fill="#6d7ec0" opacity="0.48"/>
<circle cx="494.3" cy="385.7" r="0.5" fill="#6d7ec0" opacity="0.48"/>
<circle cx="493.7" cy="370.9" r="0.5" fill="#6d7ec0" opacity="0.48"/>
<circle cx="496.7" cy="382.3" r="0.5" fill="#6d7ec0" opacity="0.48"/>
<circle cx="496.4" cy="353.8" r="0.5" fill="#6d7ec0" opacity="0.48"/>
<circle cx="497.7" cy="372.0" r="0.5" fill="#6d7ec0" opacity="0.48"/>
<circle cx="496.9" cy="361.0" r="0.5" fill="#6d7ec0" opacity="0.48"/>
<circle cx="498.5" cy="368.9" r="0.5" fill="#6d7ec0" opacity="0.48"/>
<circle cx="499.4" cy="386.1" r="0.5" fill="#6d7ec0" opacity="0.48"/>
<circle cx="500.3" cy="363.8" r="0.5" fill="#6d7ec0" opacity="0.48"/>
<circle cx="496.2" cy="381.2" r="0.5" fill="#6d7ec0" opacity="0.48"/>
<circle cx="494.4" cy="363.3" r="0.5" fill="#6d7ec0" opacity="0.48"/>
<circle cx="496.1" cy="355.1" r="0.5" fill="#6d7ec0" opacity="0.48"/>
<circle cx="491.2" cy="382.0" r="0.5" fill="#6d7ec0" opacity="0.48"/>
<circle cx="495.9" cy="361.1" r="0.5" fill="#6d7ec0" opacity="0.48"/>
<circle cx="496.3" cy="380.6" r="0.5" fill="#6d7ec0" opacity="0.48"/>
<circle cx="500.4" cy="361.5" r="0.5" fill="#6d7ec0" opacity="0.48"/>
<circle cx="492.4" cy="382.4" r="0.5" fill="#6d7ec0" opacity="0.48"/>
<circle cx="494.6" cy="367.1" r="0.5" fill="#6d7ec0" opacity="0.48"/>
<circle cx="495.3" cy="375.6" r="0.5" fill="#6d7ec0" opacity="0.48"/>
<circle cx="493.0" cy="351.1" r="0.5" fill="#6d7ec0" opacity="0.48"/>
<circle cx="497.2" cy="351.7" r="0.5" fill="#6d7ec0" opacity="0.48"/>
<circle cx="493.4" cy="359.6" r="0.5" fill="#6d7ec0" opacity="0.48"/>
<circle cx="497.1" cy="345.7" r="0.5" fill="#6d7ec0" opacity="0.48"/>
<circle cx="497.9" cy="371.3" r="0.5" fill="#6d7ec0" opacity="0.48"/>
<circle cx="495.9" cy="372.8" r="0.5" fill="#6d7ec0" opacity="0.48"/>
<circle cx="495.9" cy="361.7" r="0.5" fill="#6d7ec0" opacity="0.48"/>
<circle cx="497.6" cy="348.2" r="0.5" fill="#6d7ec0" opacity="0.48"/>
<circle cx="491.8" cy="349.1" r="0.5" fill="#6d7ec0" opacity="0.48"/>
<circle cx="492.8" cy="364.9" r="0.5" fill="#6d7ec0" opacity="0.48"/>
<circle cx="495.1" cy="371.0" r="0.5" fill="#6d7ec0" opacity="0.48"/>
<circle cx="492.0" cy="370.9" r="0.5" fill="#6d7ec0" opacity="0.48"/>
<circle cx="495.2" cy="382.0" r="0.5" fill="#6d7ec0" opacity="0.48"/>
<circle cx="500.1" cy="344.7" r="0.5" fill="#6d7ec0" opacity="0.48"/>
<circle cx="498.1" cy="345.6" r="0.5" fill="#6d7ec0" opacity="0.48"/>
<circle cx="494.9" cy="345.1" r="0.5" fill="#6d7ec0" opacity="0.48"/>
<circle cx="496.8" cy="347.2" r="0.5" fill="#6d7ec0" opacity="0.48"/>
<circle cx="492.5" cy="359.2" r="0.5" fill="#6d7ec0" opacity="0.48"/>
<circle cx="490.7" cy="354.1" r="0.5" fill="#6d7ec0" opacity="0.48"/>
<circle cx="489.7" cy="373.7" r="0.5" fill="#6d7ec0" opacity="0.48"/>
<circle cx="495.8" cy="347.8" r="0.5" fill="#6d7ec0" opacity="0.48"/>
<circle cx="497.3" cy="357.1" r="0.5" fill="#6d7ec0" opacity="0.48"/>
<circle cx="494.4" cy="347.8" r="0.5" fill="#6d7ec0" opacity="0.48"/>
<circle cx="494.5" cy="349.7" r="0.5" fill="#6d7ec0" opacity="0.48"/>
<circle cx="497.1" cy="353.3" r="0.5" fill="#6d7ec0" opacity="0.48"/>
<circle cx="496.6" cy="361.2" r="0.5" fill="#6d7ec0" opacity="0.48"/>
<circle cx="496.9" cy="358.3" r="0.5" fill="#6d7ec0" opacity="0.48"/>
<circle cx="498.2" cy="384.6" r="0.5" fill="#6d7ec0" opacity="0.48"/>
<circle cx="490.3" cy="359.7" r="0.5" fill="#6d7ec0" opacity="0.48"/>
<circle cx="496.3" cy="349.0" r="0.5" fill="#6d7ec0" opacity="0.48"/>
<circle cx="494.7" cy="348.0" r="0.5" fill="#6d7ec0" opacity="0.48"/>
<circle cx="495.1" cy="345.2" r="0.5" fill="#6d7ec0" opacity="0.48"/>
<circle cx="494.0" cy="356.8" r="0.5" fill="#6d7ec0" opacity="0.48"/>
<circle cx="490.1" cy="354.8" r="0.5" fill="#6d7ec0" opacity="0.48"/>
<circle cx="493.9" cy="370.0" r="0.5" fill="#6d7ec0" opacity="0.48"/>
<circle cx="496.8" cy="356.3" r="0.5" fill="#6d7ec0" opacity="0.48"/>
<circle cx="498.4" cy="364.3" r="0.5" fill="#6d7ec0" opacity="0.48"/>
<circle cx="499.6" cy="343.9" r="0.5" fill="#6d7ec0" opacity="0.48"/>
<circle cx="498.0" cy="354.8" r="0.5" fill="#6d7ec0" opacity="0.48"/>
<circle cx="492.8" cy="367.0" r="0.5" fill="#6d7ec0" opacity="0.48"/>
<circle cx="497.8" cy="358.0" r="0.5" fill="#6d7ec0" opacity="0.48"/>
<circle cx="494.7" cy="352.6" r="0.5" fill="#6d7ec0" opacity="0.48"/>
<circle cx="492.6" cy="372.2" r="0.5" fill="#6d7ec0" opacity="0.48"/>
<circle cx="494.7" cy="383.3" r="0.5" fill="#6d7ec0" opacity="0.48"/>
<circle cx="497.1" cy="378.1" r="0.5" fill="#6d7ec0" opacity="0.48"/>
<circle cx="497.5" cy="375.0" r="0.5" fill="#6d7ec0" opacity="0.48"/>
<circle cx="492.9" cy="354.2" r="0.5" fill="#6d7ec0" opacity="0.48"/>
<circle cx="493.9" cy="383.1" r="0.5" fill="#6d7ec0" opacity="0.48"/>
<circle cx="493.6" cy="348.4" r="0.5" fill="#6d7ec0" opacity="0.48"/>
<circle cx="495.1" cy="346.4" r="0.5" fill="#6d7ec0" opacity="0.48"/>
<circle cx="499.1" cy="344.2" r="0.5" fill="#6d7ec0" opacity="0.48"/>
<circle cx="493.3" cy="353.6" r="0.5" fill="#6d7ec0" opacity="0.48"/>
<circle cx="493.1" cy="355.2" r="0.5" fill="#6d7ec0" opacity="0.48"/>
<circle cx="496.1" cy="380.4" r="0.5" fill="#6d7ec0" opacity="0.48"/>
<circle cx="494.1" cy="382.3" r="0.5" fill="#6d7ec0" opacity="0.48"/>
<circle cx="498.1" cy="367.4" r="0.5" fill="#6d7ec0" opacity="0.48"/>
<circle cx="493.8" cy="356.1" r="0.5" fill="#6d7ec0" opacity="0.48"/>
<circle cx="496.1" cy="366.0" r="0.5" fill="#6d7ec0" opacity="0.48"/>
<circle cx="510.0" cy="352.9" r="0.5" fill="#4e7a98" opacity="0.6"/>
<circle cx="508.9" cy="357.6" r="0.5" fill="#4e7a98" opacity="0.6"/>
<circle cx="507.9" cy="360.7" r="0.5" fill="#4e7a98" opacity="0.6"/>
<circle cx="508.8" cy="354.7" r="0.5" fill="#4e7a98" opacity="0.6"/>
<circle cx="508.6" cy="360.5" r="0.5" fill="#4e7a98" opacity="0.6"/>
<circle cx="510.9" cy="359.4" r="0.5" fill="#4e7a98" opacity="0.6"/>
<circle cx="510.6" cy="355.6" r="0.5" fill="#4e7a98" opacity="0.6"/>
<circle cx="512.0" cy="357.4" r="0.5" fill="#4e7a98" opacity="0.6"/>
<circle cx="510.4" cy="357.1" r="0.5" fill="#4e7a98" opacity="0.6"/>
<circle cx="510.8" cy="356.2" r="0.5" fill="#4e7a98" opacity="0.6"/>
<circle cx="509.6" cy="350.2" r="0.5" fill="#4e7a98" opacity="0.6"/>
<circle cx="512.5" cy="351.2" r="0.5" fill="#4e7a98" opacity="0.6"/>
<circle cx="507.0" cy="353.0" r="0.5" fill="#4e7a98" opacity="0.6"/>
<circle cx="512.3" cy="359.2" r="0.5" fill="#4e7a98" opacity="0.6"/>
<circle cx="509.0" cy="356.1" r="0.5" fill="#4e7a98" opacity="0.6"/>
<circle cx="509.8" cy="349.0" r="0.5" fill="#4e7a98" opacity="0.6"/>
<circle cx="509.4" cy="356.2" r="0.5" fill="#4e7a98" opacity="0.6"/>
<circle cx="511.3" cy="351.5" r="0.5" fill="#4e7a98" opacity="0.6"/>
<circle cx="506.9" cy="350.3" r="0.5" fill="#4e7a98" opacity="0.6"/>
<circle cx="510.2" cy="355.6" r="0.5" fill="#4e7a98" opacity="0.6"/>
<circle cx="510.0" cy="355.8" r="0.5" fill="#4e7a98" opacity="0.6"/>
<circle cx="509.3" cy="350.9" r="0.5" fill="#4e7a98" opacity="0.6"/>
<circle cx="510.4" cy="356.5" r="0.5" fill="#4e7a98" opacity="0.6"/>
<circle cx="510.5" cy="359.3" r="0.5" fill="#4e7a98" opacity="0.6"/>
<circle cx="508.2" cy="347.8" r="0.5" fill="#4e7a98" opacity="0.6"/>
<circle cx="507.5" cy="362.1" r="0.5" fill="#4e7a98" opacity="0.6"/>
<circle cx="508.6" cy="356.6" r="0.5" fill="#4e7a98" opacity="0.6"/>
<circle cx="509.8" cy="357.6" r="0.5" fill="#4e7a98" opacity="0.6"/>
<circle cx="514.0" cy="353.6" r="0.5" fill="#4e7a98" opacity="0.6"/>
<circle cx="509.6" cy="353.4" r="0.5" fill="#4e7a98" opacity="0.6"/>
<circle cx="510.1" cy="357.0" r="0.5" fill="#4e7a98" opacity="0.6"/>
<circle cx="508.5" cy="359.5" r="0.5" fill="#4e7a98" opacity="0.6"/>
<circle cx="511.3" cy="356.7" r="0.5" fill="#4e7a98" opacity="0.6"/>
<circle cx="509.7" cy="354.5" r="0.5" fill="#4e7a98" opacity="0.6"/>
<circle cx="507.7" cy="357.4" r="0.5" fill="#4e7a98" opacity="0.6"/>
<circle cx="508.5" cy="353.7" r="0.5" fill="#4e7a98" opacity="0.6"/>
<circle cx="511.1" cy="352.4" r="0.5" fill="#4e7a98" opacity="0.6"/>
<circle cx="509.1" cy="358.0" r="0.5" fill="#4e7a98" opacity="0.6"/>
<circle cx="512.2" cy="353.1" r="0.5" fill="#4e7a98" opacity="0.6"/>
<circle cx="511.2" cy="353.2" r="0.5" fill="#4e7a98" opacity="0.6"/>
<circle cx="510.3" cy="356.8" r="0.5" fill="#4e7a98" opacity="0.6"/>
<circle cx="508.3" cy="358.6" r="0.5" fill="#4e7a98" opacity="0.6"/>
<circle cx="512.1" cy="355.5" r="0.5" fill="#4e7a98" opacity="0.6"/>
<circle cx="510.2" cy="351.5" r="0.5" fill="#4e7a98" opacity="0.6"/>
<circle cx="512.1" cy="355.5" r="0.5" fill="#4e7a98" opacity="0.6"/>
<ellipse cx="505.2" cy="338.1" rx="4.5" ry="2.6" transform="rotate(-45 505.2 338.1)" fill="#b0c4e4" opacity="0.7" filter="url(#bl05)"/>
<ellipse cx="503.4" cy="339.8" rx="7.0" ry="3.0" transform="rotate(-46 503.4 339.8)" fill="url(#gyel2)" filter="url(#bl05)"/>
</g>
<ellipse cx="503.0" cy="340.1" rx="11.6" ry="4.8" transform="rotate(-40 503.0 340.1)" fill="none" stroke="#9088b8" stroke-width="0.9"/>
<ellipse cx="509.8" cy="355.3" rx="2.4" ry="5.2" fill="#6a90aa" opacity="0.6" filter="url(#bl05)"/>
<ellipse cx="509.8" cy="355.3" rx="4.8" ry="9.4" fill="none" stroke="#8a84b0" stroke-width="0.75"/>
<path d="M460.9 331.4 H516.3 V387.8" fill="none" stroke="#777" stroke-width="1.0"/>
<path d="M460.9 331.4 V387.8 H516.3" fill="none" stroke="#2a2a2a" stroke-width="1.1"/>
<text x="483.1" y="341.2" font-size="4.6" fill="#5a5a6a" textLength="7.8" lengthAdjust="spacingAndGlyphs">61.3</text>
<text x="507.1" y="370.2" font-size="4.6" fill="#5a5a6a" textLength="6.6" lengthAdjust="spacingAndGlyphs">13.6</text>
<text x="459.5" y="337.7" font-size="3.9" font-weight="bold" text-anchor="end" fill="#111" stroke="#111" stroke-width="0.12">10<tspan font-size="2.6" dy="-1.5">5</tspan></text>
<line x1="459.7" y1="336.4" x2="460.9" y2="336.4" stroke="#222" stroke-width="0.7"/>
<text x="459.5" y="350.0" font-size="3.9" font-weight="bold" text-anchor="end" fill="#111" stroke="#111" stroke-width="0.12">10<tspan font-size="2.6" dy="-1.5">4</tspan></text>
<line x1="459.7" y1="348.7" x2="460.9" y2="348.7" stroke="#222" stroke-width="0.7"/>
<text x="459.5" y="363.5" font-size="3.9" font-weight="bold" text-anchor="end" fill="#111" stroke="#111" stroke-width="0.12">10<tspan font-size="2.6" dy="-1.5">3</tspan></text>
<line x1="459.7" y1="362.2" x2="460.9" y2="362.2" stroke="#222" stroke-width="0.7"/>
<text x="459.5" y="376.9" font-size="3.9" font-weight="bold" text-anchor="end" fill="#111" stroke="#111" stroke-width="0.12">10<tspan font-size="2.6" dy="-1.5">2</tspan></text>
<line x1="459.7" y1="375.6" x2="460.9" y2="375.6" stroke="#222" stroke-width="0.7"/>
<text x="459.5" y="383.0" font-size="3.9" font-weight="bold" text-anchor="end" fill="#111" stroke="#111" stroke-width="0.12">0</text>
<line x1="459.7" y1="381.7" x2="460.9" y2="381.7" stroke="#222" stroke-width="0.7"/>
<text x="467.2" y="393.7" font-size="3.9" font-weight="bold" text-anchor="middle" fill="#111" stroke="#111" stroke-width="0.12">0</text>
<line x1="467.2" y1="387.8" x2="467.2" y2="389.0" stroke="#222" stroke-width="0.7"/>
<text x="472.0" y="393.7" font-size="3.9" font-weight="bold" text-anchor="middle" fill="#111" stroke="#111" stroke-width="0.12">10<tspan font-size="2.6" dy="-1.5">2</tspan></text>
<line x1="472.0" y1="387.8" x2="472.0" y2="389.0" stroke="#222" stroke-width="0.7"/>
<text x="486.4" y="393.7" font-size="3.9" font-weight="bold" text-anchor="middle" fill="#111" stroke="#111" stroke-width="0.12">10<tspan font-size="2.6" dy="-1.5">3</tspan></text>
<line x1="486.4" y1="387.8" x2="486.4" y2="389.0" stroke="#222" stroke-width="0.7"/>
<text x="499.1" y="393.7" font-size="3.9" font-weight="bold" text-anchor="middle" fill="#111" stroke="#111" stroke-width="0.12">10<tspan font-size="2.6" dy="-1.5">4</tspan></text>
<line x1="499.1" y1="387.8" x2="499.1" y2="389.0" stroke="#222" stroke-width="0.7"/>
<text x="511.3" y="393.7" font-size="3.9" font-weight="bold" text-anchor="middle" fill="#111" stroke="#111" stroke-width="0.12">10<tspan font-size="2.6" dy="-1.5">5</tspan></text>
<line x1="511.3" y1="387.8" x2="511.3" y2="389.0" stroke="#222" stroke-width="0.7"/>
<text x="488.6" y="397.6" font-size="3.6" font-weight="bold" text-anchor="middle" fill="#222" textLength="28.8" lengthAdjust="spacingAndGlyphs">&lt;FITC-A&gt;: Ly6C</text>
<text transform="translate(452.3,359.0) rotate(-90)" font-size="3.6" font-weight="bold" text-anchor="middle" fill="#222" textLength="32.7" lengthAdjust="spacingAndGlyphs">&lt;PE-Cy7-A&gt;: Gr-1</text>
<path d="M331.8 253.2 H341 V332.4" fill="none" stroke="#b03a22" stroke-width="2.2"/>
<path d="M332.9 332.4 L342.2 328.6 L342.2 336.2 Z" fill="#c8302a"/>
<path d="M253.50 274.10 V297.60 H271.90" fill="none" stroke="#000" stroke-width="2.3" stroke-linejoin="miter"/>
<path d="M253.50 268.10 L257.90 276.50 L253.50 274.40 L249.10 276.50 Z" fill="#000"/>
<path d="M277.90 297.60 L269.70 302.00 L271.80 297.60 L269.70 293.20 Z" fill="#000"/>
<path d="M254.00 383.20 V406.80 H272.30" fill="none" stroke="#000" stroke-width="2.3" stroke-linejoin="miter"/>
<path d="M254.00 377.20 L258.40 385.60 L254.00 383.50 L249.60 385.60 Z" fill="#000"/>
<path d="M278.30 406.80 L270.10 411.20 L272.20 406.80 L270.10 402.40 Z" fill="#000"/>
<text transform="translate(255.50,246.00) rotate(-90)" font-size="11" font-weight="bold" stroke="#000" stroke-width="0.35" text-anchor="middle" fill="#000">CD11b</text>
<text x="286.00" y="300.60" font-size="11" font-weight="bold" stroke="#000" stroke-width="0.35" text-anchor="start" fill="#000" >Gr-1</text>
<text transform="translate(255.80,360.40) rotate(-90)" font-size="10.5" font-weight="bold" stroke="#000" stroke-width="0.35" text-anchor="middle" fill="#000">Gr-1</text>
<text x="281.40" y="410.10" font-size="11" font-weight="bold" stroke="#000" stroke-width="0.35" text-anchor="start" fill="#000" >Ly6C</text>
</svg></body></html>
